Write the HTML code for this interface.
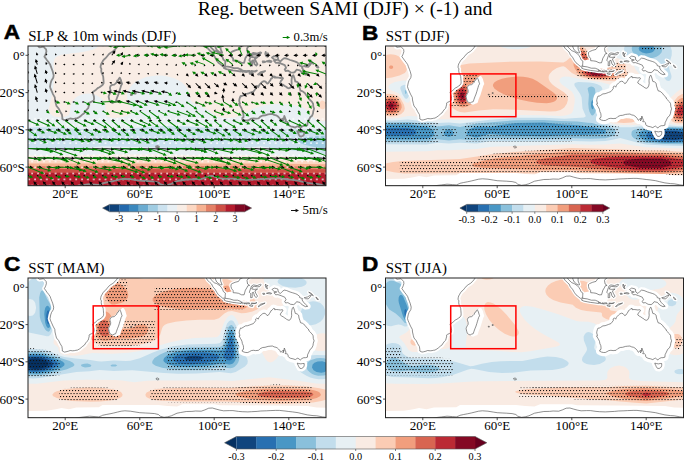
<!DOCTYPE html><html><head><meta charset="utf-8"><style>html,body{margin:0;padding:0;background:#fff;}svg{display:block}</style></head><body>
<svg width="685" height="461" viewBox="0 0 685 461">
<defs><pattern id="dots" patternUnits="userSpaceOnUse" width="3" height="6"><rect x="0" y="0" width="1.1" height="1.1" fill="#111"/><rect x="1.5" y="3" width="1.1" height="1.1" fill="#111"/></pattern><pattern id="wdots" patternUnits="userSpaceOnUse" x="39.9" y="178.4" width="5.87" height="12.1"><rect x="0.3" y="0.3" width="1.5" height="1.5" fill="#fff"/><rect x="3.23" y="6.35" width="1.5" height="1.5" fill="#fff"/></pattern></defs>
<rect width="685" height="461" fill="#fff"/>
<text x="345" y="14.8" font-family='"Liberation Serif", serif' font-size="19.6" text-anchor="middle" fill="#000">Reg. between SAMI (DJF) × (-1) and</text>
<text transform="translate(3.8000000000000003,38.9) scale(1.12,1)" font-family='"Liberation Sans", sans-serif' font-weight="bold" font-size="20.2" fill="#000" stroke="#000" stroke-width="0.5">A</text>
<text x="28.3" y="40.8" font-family='"Liberation Serif", serif' font-size="14.85" fill="#000">SLP &amp; 10m winds (DJF)</text>
<clipPath id="clipA"><rect x="28.0" y="46.0" width="298" height="139.7"/></clipPath>
<g clip-path="url(#clipA)">
<rect x="28.0" y="46.0" width="298" height="139.69" fill="#f9ede5"/><path d="M315.4 157.8l14.3 0.7 0-37.5-7.4 0.2-3.5-0.7-2.4-0.9-3.8-2.8-5.4-6.5-2.6-1.8-2.8-1.3-8.4-2.2-11.2-1.2-12.1 0.5-10.2 1.9-6.5 2.4-11.2 6.6-5.6 1.9-3.7 0.6-5.6 0.3-4.7-0.3-3.7-0.8-3.7-1.7-8.4-6.1-12-5.4-2.9-1.8-1.6-2.8-0.9-5.6-1.3-3.7-2.5-3.8-3.9-3.7-3.8-2.3-3.7-1.7-8.4-2.3-4.6-0.5-5.6 0-9.3 1.5-4.7 1.7-3.6 1.8-2.9 1.8-3.2 2.8-2.2 2.8-1.5 2.8-0.9 2.8-0.3 2.8 0.7 4.6 3.6 8.4 0.3 2.8-1.2 1.9-3.5 1.8-5.8 1.5-5.6 0.7-4.6-0.2-3.2-1-1.1-1-0.8-1.8-0.2-6.5-0.5-2.8-1.2-2.8-1.4-2.1-2.8-2.6-3.7-2.1-3.7-1.1-4.7-0.5-3.7 0.4-3.7 1.2-2.8 1.4-3.1 2.6-1.5 1.8-1.5 2.8-0.8 2.8-0.9 6.5-0.9 1.9-1.2 0.9-3.2 1.2-3.7 0.3-4.6-0.5-2.9-0.9-1.8-1.1-1.8-1.8-0.7-1.8-0.1-1.9 3.2-13.9 1.3-8.4 0.7-11.2-0.3-13 0.8-3.8 1.5-1.8 1.5-1 4.1-1.4 21.4-2.8 9.8-2.3 3.8-1.8 0.9-1 0.3-0.9-0.3-0.9-2.3-1.8-2.5-1-68.3 0 0 59.2 1.5 6 0.3 2.8-0.4 1.8-1.4 2.2 0 41.3 40.9 0.1 37.3-1.1 55.9-0.1 55.8 1.2 46.6-1.1 54.6 3.2z" fill="#e9f0f4"/><path d="M322.9 154l6.8 0.7 0-25.1-46.5-0.3-10.3 0.5-12.1 1.2-73.6-4.6-28.8-0.6-55.9 5.7-16.8-2.2-20.5-1.3-27-0.9-13.9 0.8 0 21.4 40.9 0.3 20.5-1.5 16.8-1.8 55.9 1.2 55.8 2.1 26.1-1.5 20.5-1.8 20.9 3.1 41.2 4.6z" fill="#cce2ef"/><path d="M326.4 149.4l3.3 0.5 0-14.5-13.9 0.9-8.4 1-7.3 1.8-1.4 1-0.4 0.9 0.5 0.9 1.2 1 4.6 1.8 7 1.9 14.8 2.8zM34.3 139.1l3.9 0.7 3.8 0.2 9.1-0.9-2.6-0.9-7.5-0.5-6 0.5-0.7 0.9z" fill="#a0cce2"/><path d="M24.3 189.4l305.4 0 0-27.8-68.9-1.5-236.5 0.3 0 29zM322.1 109.3l1.1 0 1.4-0.9 1.2-2.8-0.1-1.9-0.6-1.4-1-1.1-1.8-0.6-1 0.2-1.3 1.1-0.9 2.8 0.7 2.8 0.6 0.9 1.7 0.9z" fill="#fcd7c2"/><path d="M24.3 189.4l305.4 0 0-25.2-68.9-0.8-236.5 0.1 0 25.9z" fill="#f6b191"/><path d="M24.3 189.4l305.4 0 0-22.8-68.9-0.5-236.5 0.1 0 23.2z" fill="#e48066"/><path d="M24.3 189.4l305.4 0 0-20.2-305.4-0.3 0 20.5z" fill="#ce4f45"/><path d="M24.3 189.4l305.4 0 0-16.4-305.4-0.2 0 16.6z" fill="#b41c2d"/>
<rect x="28.0" y="116.8" width="298" height="68.9" fill="url(#wdots)"/>
<path d="M24.3 46.4L29.9 44.5L33.6 43.4L36.4 43.8L37.9 44.9L38.6 46.7L39.5 47.3L41 47.1L43.5 46.7L44.6 47.9L46.1 49.4L46.4 51.4L45.9 53.3L45.3 54.8L44.4 56.6L45.5 58.1L47 60.3L48.7 62.4L50.2 64.6L50.9 66.7L52 69.5L52.8 71.7L53.7 75.2L53.3 77.7L51.5 80.5L50.7 82.9L50 86.6L50.4 88.1L51.5 90.7L53 94.1L54.8 97.4L55 100L55.8 103.4L56.5 106L58.7 108.6L60.2 111.7L61.9 114.5L62.3 117.1L62.3 119L64.5 120.1L66 119.8L68.4 119.2L70.1 118.5L72.7 118.8L74.6 118.6L75.9 118.3L77.4 118.1L79.4 117L81.1 115.7L82.8 114.2L84.4 113L85.7 111L87 109.3L88.2 108.2L88.7 106.2L89.3 103.9L88.9 103.2L90 102.4L91.9 101.5L93.7 100.6L94.1 98.5L93.9 96.5L93.4 94.8L92.6 92.4L93.2 91.8L95.4 90.3L97.7 88.1L99.5 87.2L101.2 86L102.5 85.1L103.6 83.2L103.6 81.4L103.4 78.8L103.2 76.5L102.5 74.7L101.6 72.8L101.2 70.8L101.4 68.9L100.5 67.2L100.8 65.4L101.2 63.9L101.9 62.8L102.9 60.9L104.2 59.2L105.5 58.3L107.2 56.2L108.8 54.2L110.7 52.7L112.9 51.4L114.8 49.7L116.5 47.7L118 45.4L118.9 43.2L28 40.4L22.4 40.4ZM119.8 77.7L120.9 79.9L121.5 82.1L122.1 83.8L121.1 85.5L120.6 87.3L120 89.2L119.3 91.6L118.5 94.1L117.4 96.8L116.5 99.3L115.7 101.7L114 102.2L112.6 103L110.9 102.2L109.8 101.3L109.2 99.3L108.6 96.7L109 95.2L109.8 93.7L110.5 92.6L110.7 90.7L110.1 88.8L110 87.3L110.7 85.7L112.2 84.9L114.2 84.6L115.4 83.6L116.7 82.3L117.2 80.6L118.3 80.1L118.9 78.6ZM293.4 75.2L294.5 78.4L295.3 81.4L297.1 81.9L298.6 83.2L299 86L299.9 88.5L300.5 90.7L302.7 91.4L305 93.3L306.4 95.4L308.3 97L309.2 99.1L312 101.9L313.1 103.7L313.3 106.5L314.1 108.8L313.3 111.2L313 113.4L312 115.8L310.2 117.3L309.4 119L308.5 120.9L307.6 122.7L307.4 125.2L305.5 125.7L303.7 125.7L301.8 126.6L300.7 127.6L300.5 128.1L299 127L297.9 126.1L296.8 126.6L295.3 127.6L293 126.8L290.6 126.3L288.8 125.3L288.2 124.4L288 122.7L287.1 121.8L285.2 121.6L286 120.1L285.4 119L284.7 116.8L284.3 116L283.9 118.3L283.2 119.8L283 120.9L284.1 118.6L282.4 118.6L281.1 120.3L280.4 119.8L279.8 118.5L278.5 117L277.6 116.2L276.1 115.3L274.2 114.9L272.4 114L270.1 114.2L268.1 114.4L265.1 115.3L262.7 115.5L260.3 116.6L258.6 118.3L255.6 118.6L253.4 118.3L251.3 118.6L249.6 119.6L247.8 120.5L245.9 120.5L244.1 120.1L242.2 119.2L242.4 117.9L243.5 117.3L243.5 115.3L243.3 113.6L242.4 111.7L242 109.5L241.4 108L240.5 106.5L239 103.9L240 103.6L239.2 100.9L239.4 99.3L240 97.2L240.7 95.9L241.4 96.3L243.1 95.4L245.4 93.9L247.6 93.7L249.3 93.1L251.1 92.4L253.4 91.6L254.7 90L255.8 88.5L255.6 87L256.9 85.9L258.2 87.2L258.8 85.7L259.7 84.4L261.2 82.9L262.3 81.9L264 81.2L265.5 81.6L266.8 83.1L267.1 83.6L268.4 83.1L269.4 81.6L270.5 79.9L270.9 78.8L271.8 78.4L273.5 76.4L274.8 76.7L274.6 77.7L276.6 77.5L278.5 77.7L280.4 78L282.2 77.7L283 78.2L282 79.9L280.9 81L280.2 82.9L281.9 84.2L283.3 84.9L284.8 86L286.5 87L287.4 87.9L289.1 88.3L290.2 87.7L291.2 85.9L291.7 83.4L291.5 80.8L291.7 78.8L292.1 76.9L292.7 75.6ZM297.3 131.1L298.8 131.5L300.9 131.9L302.7 131.5L304.2 131.5L304.2 133.5L303.7 135L302.9 135.8L301.6 136.5L299.9 136.3L298.8 134.7L298.4 133.7L297.5 132ZM272 57.5L274.2 56.1L276.6 56.6L277.8 57L278.3 60L280.4 61.5L282.2 59.6L284.1 58.1L286.5 58.5L290.1 60L292.3 60.7L295.3 61.6L297.1 62.4L299.6 64.4L299.7 65.6L302.7 66.7L302 67.8L303.5 70.2L305.5 72.3L307.7 74.3L305.5 74.7L302.3 73L299.9 70.4L296.6 69.7L294.9 71.9L293.6 72.6L290.6 72.3L287.8 70.6L285.6 71L284.7 69.3L286.1 67.8L284.8 65.2L281.1 63.7L277.9 62.6L275.7 62.8L274 60.7L276.8 60L274.2 59.4L272.5 58.1ZM232.1 51.6L235.1 50.3L238.5 49.4L240.1 46.9L242.9 45.6L245.5 42.3L250 45.6L247.8 47.1L247 48.6L247.6 52L249.6 53.5L247.8 53.8L246.8 55.9L245.4 58.1L244.6 60.9L244.1 62.8L241.6 62.8L238.5 61.3L236 60.9L233.2 60.7L233.1 58.5L231.6 56.6L231 54.6L231 52.5ZM205.5 44.9L209.6 45.6L211.1 47.7L214.2 50.7L216.7 51.6L219.8 53.6L221.3 55.3L222.6 57.4L223.4 59.6L225.4 61.1L225.2 63.7L225.1 66.1L222.8 66.3L220.6 64.4L218.5 62.8L216.9 60.5L215 57.2L212.9 54.9L211.6 52L210 50.7L207.5 48.2ZM214.8 43.2L215 45.6L215.7 47.9L216.7 49.9L218.9 51.8L220.8 52.9L222.1 52.7L220.6 49L220.6 46.4L218.5 43.8L216.1 42.3ZM223.9 68L225.4 66.3L229.7 66.9L233.8 68.2L237.7 68.2L241.3 69.7L241.1 71.5L236.6 70.8L232.9 70.4L230.1 69.8L226.4 69.1L224.3 68.2ZM241.3 70.6L242.6 70.4L243.5 71L242.6 71.7ZM244.2 71L245.4 70.8L245 71.9L244.1 71.7ZM245.9 71.1L248.3 70.8L249.6 71L249.6 71.7L247.8 71.7L245.9 72.1ZM251.3 71L254.3 71.3L256.9 70.6L255.6 71.5L251.5 71.7ZM249.6 73.2L251.5 72.8L253 73.8L252.4 74.5L249.6 73.8ZM258 74.5L259.9 72.8L260.8 72.1L265.1 71L263.6 71.9L260.8 73.2L258.8 74.7ZM250.6 65.7L250.8 61.8L249.3 60.3L250.9 55.7L251.5 54L253.4 52.9L257.1 53.6L260.4 52.3L261.2 52.7L259.7 54.6L257.6 54.8L254.3 54.4L252.6 54.9L251.7 57L254.3 57.4L257.6 57L254.9 58.9L255.8 61.3L257.5 64.1L256.3 65.6L254.5 64.1L253.5 60.3L252.2 60.7L252.2 65.6ZM265.7 52L266.4 54.4L267.9 53.3L266.8 54.8L267.5 56.8L266.2 56.1L265.3 53.8ZM266.4 61.3L269.2 60.5L271.6 61.3L271.1 62L268.3 61.6ZM262.7 61.3L264.5 61.3L264.9 62.2L263 62.4ZM304.2 65.7L307.4 65L310.2 63.3L311.3 63.1L310.4 64.6L308.3 66.9L305.5 66.7ZM308.7 60.2L310.7 60.9L312.4 62.6L313.3 63.9L312.4 63.1L310.7 61.8ZM315.9 65L317.4 66.1L318.4 67.6L317.1 67.4L316.1 65.7ZM255.2 41.3L258 42.6L259.3 43.8L261.2 44.9L261.9 43.2L263.4 42.3L263.6 38.5L259 38.5ZM156.1 146.4L157.6 146L158.9 146.8L158.7 147.7L157.1 147.9L156.3 147.3ZM134.7 92.6L135.7 92.6L135.7 93.5L134.7 93.5ZM130.8 94.2L131.9 94.4L131.7 95.2L130.8 95ZM24.3 186.2L28 185.7L37.3 186.1L46.6 185.7L55.9 186.1L65.2 185.7L74.6 186.1L83.9 184.9L89.5 184.2L95 184.6L98.8 184.9L101.6 183.8L102.5 183.3L106.2 182.5L110 181.8L113.7 181L117.4 180.1L121.1 179.2L124.9 178.8L130.4 179.2L136 180.1L139.8 180.7L145.3 181L149.1 181.2L154.7 181.6L158.4 182.5L160.2 184.2L164 185.3L167.7 184.8L171.4 183.8L173.3 182.9L177 181.2L180.7 180.5L186.3 179.5L191.9 179.4L195.6 179L201.2 179.2L204.9 177.9L208.7 176.2L212.4 176L216.1 177.1L219.8 178.1L223.6 178.8L229.2 178.6L232.9 178.6L238.5 179.4L242.2 179.7L247.8 179.9L251.5 179.7L257.1 179.4L260.8 179L266.4 178.8L270.1 178.6L275.7 178.4L279.4 178.4L285 179L288.8 179.5L292.5 179.9L298.1 180.7L301.8 181.6L307.4 182.9L313 183.6L316.7 183.8L322.3 184.8L326 185.3L329.7 186.2L329.7 204.3L24.3 204.3Z" fill="none" stroke="#8a8a8a" stroke-width="1.8" stroke-linejoin="round"/>
<path d="M28.3 45.9l-0.1-0.3 0.7-0.2-1.5-1.5-0.5 2 0.7-0.2 0.1 0.4zM37.6 45.9l-0.1-0.3 0.7-0.2-1.5-1.5-0.5 2 0.7-0.2 0.1 0.4zM46.9 45.9l-0.1-0.3 0.7-0.2-1.5-1.5-0.5 2 0.7-0.2 0.1 0.4zM55.9 45.7l-0.3 0 0-0.7-1.9 1 1.9 1 0-0.7 0.3 0zM65.2 45.7l-0.3 0 0-0.7-1.9 1 1.9 1 0-0.7 0.3 0zM74.6 45.7l-0.4 0 0-0.7-1.8 1 1.8 1 0-0.7 0.4 0zM83.9 45.7l-0.4 0 0-0.7-1.8 1 1.8 1 0-0.7 0.4 0zM93.2 45.7l-0.4 0 0-0.7-1.8 1 1.8 1 0-0.7 0.4 0zM102.7 46.2l0.3-0.3 0.5 0.4 0.3-2.1-1.9 0.9 0.6 0.4-0.2 0.3zM112.1 46.2l0.2-0.3 0.6 0.4 0.2-2.1-1.9 0.9 0.6 0.4-0.2 0.3zM121.4 46.2l0.2-0.4 0.6 0.4 0.1-2.1-1.9 1.1 0.7 0.3-0.2 0.3zM130.6 45.7l-0.3-0.1 0.3-0.7-2.1 0.1 1.1 1.7 0.4-0.6 0.3 0.2zM139.8 45.7l-0.4 0 0-0.7-1.8 1 1.8 1 0-0.7 0.3 0zM149.1 45.7l-0.4 0 0-0.7-1.8 1 1.8 1 0-0.7 0.4 0zM158.4 45.7l-0.4 0 0-0.7-1.8 1 1.8 1 0-0.7 0.4 0zM167.7 45.7l-0.4 0 0-0.7-1.8 1 1.8 1 0-0.7 0.4 0zM177 45.7l-0.4 0 0-0.7-1.8 1 1.8 1 0-0.7 0.4 0zM186.3 45.7l-0.4 0 0-0.7-1.8 1 1.8 1 0-0.7 0.4 0zM195.6 45.7l-0.3 0 0-0.7-1.9 1 1.9 1 0-0.7 0.3 0zM204.9 45.7l-0.3 0 0-0.7-1.9 1 1.9 1 0-0.7 0.3 0zM214.2 45.7l-0.3 0 0-0.7-1.8 1 1.8 1 0-0.7 0.4 0zM223.6 45.7l-0.4 0 0-0.7-1.8 1 1.8 1 0-0.7 0.4 0zM232.9 45.7l-0.4 0 0-0.7-1.8 1 1.8 1 0-0.7 0.4 0zM242.2 45.7l-0.4 0 0-0.7-1.8 1 1.8 1 0-0.7 0.4 0zM251.5 45.7l-0.4 0 0-0.7-1.8 1 1.8 1 0-0.7 0.4 0zM260.8 45.7l-0.4 0 0-0.7-1.8 1 1.8 1 0-0.7 0.4 0zM270.1 45.7l-0.3 0 0-0.7-1.9 1 1.9 1 0-0.7 0.3 0zM279.4 45.7l-0.3 0 0-0.7-1.9 1 1.9 1 0-0.7 0.3 0zM288.7 45.7l-0.3 0 0-0.7-1.8 1 1.8 1 0-0.7 0.4 0zM298.1 45.7l-0.4 0 0-0.7-1.8 1 1.8 1 0-0.7 0.4 0zM307.4 45.7l-0.4 0 0-0.7-1.8 1 1.8 1 0-0.7 0.4 0zM316.7 45.7l-0.4 0 0-0.7-1.8 1 1.8 1 0-0.7 0.4 0zM326 45.7l-0.4 0 0-0.7-1.8 1 1.8 1 0-0.7 0.4 0zM28.3 55.2l-0.1-0.3 0.7-0.2-1.5-1.5-0.5 2.1 0.7-0.3 0.1 0.4zM37.7 55.2l-0.2-0.5 0.9-0.3-2-2.1-0.5 2.9 0.9-0.3 0.1 0.5zM46.9 55.2l-0.1-0.3 0.7-0.2-1.5-1.5-0.5 2.1 0.7-0.3 0.1 0.4zM56.2 55.2l-0.1-0.3 0.7-0.2-1.5-1.5-0.4 2.1 0.6-0.3 0.2 0.4zM65.2 55l-0.3 0 0-0.7-1.9 1 1.9 1 0-0.7 0.3 0zM74.6 55l-0.4 0 0-0.7-1.8 1 1.8 1 0-0.7 0.4 0zM83.9 55l-0.4 0 0-0.7-1.8 1 1.8 1 0-0.7 0.4 0zM93.4 55.5l0.2-0.3 0.6 0.4 0.3-2.1-1.9 0.9 0.6 0.4-0.3 0.3zM102.7 55.5l0.3-0.3 0.5 0.4 0.3-2.1-1.9 0.9 0.6 0.4-0.2 0.3zM112.2 55.6l1.7-2.3 1 0.7 0.6-3.8-3.4 1.8 1 0.7-1.7 2.3zM121.5 55.5l0.4-0.5 0.9 0.5 0.2-3.6-3 2.1 1 0.5-0.3 0.6zM130.5 55l-0.5-0.1 0.2-0.9-2.6 0.8 2.1 1.6 0.2-0.8 0.5 0.1zM139.8 54.8l-1.4 0 0-1.2-3.4 1.7 3.4 1.7 0-1.2 1.3 0zM149.1 54.8l-1.4 0 0-1.2-3.4 1.7 3.4 1.7 0-1.2 1.4 0zM158.4 54.8l-1.4 0 0-1.2-3.4 1.7 3.4 1.7 0-1.2 1.4 0zM167.7 54.8l-1.4 0 0-1.2-3.4 1.7 3.4 1.7 0-1.2 1.4 0zM177 54.8l-1.4 0 0-1.2-3.4 1.7 3.4 1.7 0-1.2 1.4 0zM186.3 54.8l-1.3 0 0-1.2-3.4 1.8 3.4 1.6 0-1.2 1.3 0zM195.6 54.8l-1.3 0 0-1.2-3.4 1.8 3.4 1.6 0-1.2 1.3 0zM204.9 54.8l-1.3 0 0-1.2-3.4 1.8 3.4 1.6 0-1.2 1.3 0zM214.2 54.8l-1.3 0 0-1.2-3.4 1.8 3.4 1.6 0-1.2 1.4 0zM223.6 54.8l-1.4 0 0-1.2-3.4 1.8 3.5 1.6-0.1-1.2 1.4 0zM232.9 54.8l-1.4 0 0-1.2-3.4 1.8 3.5 1.6-0.1-1.2 1.4 0zM242.2 54.8l-1.4 0 0-1.2-3.3 1.8 3.4 1.6 0-1.2 1.3 0zM251.5 54.8l-1.3 0-0.1-1.2-3.3 1.8 3.4 1.6 0-1.2 1.3 0zM260.8 54.8l-1.3 0 0-1.2-3.4 1.8 3.4 1.6 0-1.2 1.3 0zM270.1 54.8l-1.3 0 0-1.2-3.4 1.8 3.4 1.6 0-1.2 1.3 0zM279.4 54.8l-1.3 0 0-1.2-3.4 1.8 3.4 1.6 0-1.2 1.3 0zM288.7 54.8l-1.3 0 0-1.2-3.4 1.8 3.4 1.6 0-1.2 1.4 0zM298.1 54.8l-1.4 0 0-1.2-3.4 1.8 3.5 1.6-0.1-1.2 1.4 0zM307.4 54.8l-1.4 0 0-1.2-3.4 1.8 3.5 1.6-0.1-1.2 1.4 0zM316.7 54.8l-1.4 0 0-1.2-3.3 1.8 3.4 1.6 0-1.2 1.3 0zM326 54.8l-1.3 0-0.1-1.2-3.3 1.8 3.4 1.6 0-1.2 1.3 0zM28.4 64.5l-0.2-0.5 0.9-0.2-2-2.1-0.4 2.8 0.8-0.2 0.1 0.4zM37.8 64.5l-0.8-2.5 1.2-0.4-2.6-2.7-0.7 3.7 1.2-0.3 0.7 2.5zM47 64.5l-0.2-0.5 0.9-0.2-1.9-2.1-0.5 2.8 0.8-0.2 0.2 0.4zM56.2 64.5l-0.1-0.3 0.7-0.2-1.5-1.5-0.4 2.1 0.6-0.2 0.2 0.3zM65.2 64.3l-0.3 0 0-0.7-1.9 1 1.9 1 0-0.7 0.3 0zM74.6 64.3l-0.4 0 0-0.7-1.8 1 1.8 1 0-0.7 0.4 0zM83.9 64.3l-0.4 0 0-0.7-1.8 1 1.8 1 0-0.7 0.4 0zM93.4 64.8l0.2-0.3 0.6 0.4 0.3-2.1-1.9 0.9 0.6 0.5-0.3 0.3zM102.7 64.8l0.3-0.3 0.5 0.4 0.3-2.1-1.9 0.9 0.6 0.5-0.2 0.3zM112.2 64.9l1.4-1.9 1 0.6 0.6-3.7-3.4 1.8 1 0.7-1.4 1.9zM121.5 64.9l0.4-0.5 0.9 0.6 0.4-3.5-3 1.7 0.9 0.6-0.4 0.6zM130.7 64.4l-0.2-0.2 0.5-0.5-1.9-0.9 0.3 2.1 0.6-0.4 0.2 0.3zM139.8 64.3l-0.4 0 0-0.7-1.8 0.9 1.7 1.1 0.1-0.7 0.3 0zM149.1 64.3l-0.4 0 0-0.7-1.8 1 1.8 1 0-0.7 0.4 0zM158.4 64.3l-0.4 0 0-0.7-1.8 1 1.8 1 0-0.7 0.4 0zM167.7 64.3l-0.4 0 0-0.7-1.8 1.1 1.9 1-0.1-0.8 0.4 0zM176.9 64.3l-0.4 0.2-0.2-0.7-1.3 1.7 2.1 0.2-0.3-0.7 0.3-0.1zM186.1 64.4l-0.2 0.3-0.6-0.4-0.3 2.1 1.9-0.9-0.6-0.4 0.3-0.3zM195.4 64.5l-0.2 0.3-0.6-0.4-0.1 2.1 1.8-1.1-0.6-0.3 0.2-0.3zM204.7 64.5l-0.2 0.3-0.6-0.4-0.1 2.1 1.8-1.1-0.6-0.3 0.2-0.3zM214 64.5l-0.2 0.3-0.6-0.4-0.1 2.1 1.8-1-0.6-0.4 0.2-0.3zM223.3 64.5l-0.2 0.3-0.6-0.4-0.1 2.1 1.8-1-0.6-0.4 0.2-0.3zM232.6 64.5l-0.2 0.3-0.6-0.4 0 2.1 1.8-1-0.7-0.4 0.2-0.3zM241.9 64.5l-0.2 0.3-0.6-0.4 0 2.1 1.8-1-0.6-0.4 0.1-0.3zM251.2 64.5l-0.1 0.3-0.7-0.4 0 2.1 1.8-1.1-0.6-0.3 0.2-0.3zM260.6 64.5l-0.2 0.3-0.7-0.4 0 2.1 1.8-1.1-0.6-0.3 0.2-0.3zM269.9 64.5l-0.2 0.3-0.6-0.4-0.1 2.1 1.8-1.1-0.6-0.3 0.2-0.3zM279.2 64.5l-0.2 0.3-0.6-0.4-0.1 2.1 1.8-1.1-0.6-0.3 0.2-0.3zM288.5 64.5l-0.2 0.3-0.6-0.4 0 2.1 1.8-1.1-0.7-0.3 0.2-0.3zM297.8 64.5l-0.2 0.3-0.6-0.4 0 2.1 1.8-1.1-0.7-0.3 0.2-0.3zM307.1 64.5l-0.2 0.3-0.6-0.4 0 2.1 1.8-1.1-0.6-0.3 0.1-0.3zM316.4 64.5l-0.2 0.3-0.6-0.4 0 2.1 1.8-1.1-0.6-0.3 0.1-0.3zM325.7 64.5l-0.1 0.3-0.7-0.4 0 2.1 1.8-1.1-0.6-0.3 0.2-0.3zM28.5 73.8l-0.3-1 1.1-0.3-2.6-2.8-0.6 3.8 1.1-0.4 0.3 1zM37.8 73.8l-1.6-5.2 1.2-0.3-2.6-2.8-0.7 3.7 1.2-0.3 1.5 5.2zM47.1 73.8l-0.3-1 1.2-0.3-2.6-2.8-0.7 3.8 1.2-0.4 0.2 1zM56.2 73.9l-0.1-0.4 0.7-0.2-1.5-1.5-0.4 2.1 0.6-0.2 0.2 0.3zM65.2 73.6l-0.3 0 0-0.7-1.9 1 1.9 1.1 0-0.8 0.3 0zM74.6 73.6l-0.4 0 0-0.7-1.8 1 1.8 1.1 0-0.8 0.4 0zM83.9 73.6l-0.4 0 0-0.7-1.8 1 1.8 1.1 0-0.8 0.4 0zM93.2 73.6l-0.4 0 0-0.7-1.8 1 1.8 1.1 0-0.8 0.4 0zM102.8 74.1l0.1-0.3 0.7 0.4 0.1-2.1-1.9 1 0.6 0.4-0.2 0.3zM112.1 74.1l0.2-0.4 0.6 0.3-0.1-2.2-1.7 1.3 0.6 0.4-0.2 0.3zM121.4 74l0.1-0.4 0.7 0.1-0.9-2-1.2 1.8 0.8 0-0.1 0.4zM130.6 73.7l-0.3-0.2 0.3-0.6-2.1 0 1.1 1.8 0.4-0.7 0.3 0.2zM139.8 73.6l-0.3 0 0.1-0.7-2 0.5 1.5 1.4 0.2-0.7 0.4 0.1zM149.1 73.6l-0.3 0 0.1-0.7-2 0.5 1.6 1.4 0.1-0.7 0.4 0.1zM158.4 73.6l-0.3 0 0.2-0.7-2.1 0.5 1.6 1.4 0.1-0.7 0.4 0.1zM167.7 73.6l-0.4 0.1 0-0.8-1.8 1.1 1.9 1-0.1-0.7 0.4-0.1zM176.8 74.1l0.2 0.3-0.6 0.4 1.8 1-0.2-2.1-0.5 0.4-0.3-0.3zM186 74.2l0.4 0.5-0.7 0.7 3.1 1.1-1-3.2-0.8 0.8-0.4-0.5zM195.3 74.3l0.4 0.5-0.8 0.8 3.5 1.2-1.1-3.6-0.9 0.9-0.4-0.5zM204.6 74.3l0.5 0.5-0.9 0.8 3.5 1.1-1.1-3.5-0.8 0.9-0.5-0.5zM213.9 74.3l0.5 0.4-0.8 0.8 3.4 1.1-1.2-3.4-0.8 0.8-0.4-0.4zM223.3 74.3l0.4 0.3-0.7 0.8 3.2 0.9-1.2-3.1-0.7 0.8-0.5-0.4zM232.6 74.3l0.4 0.4-0.7 0.8 3.3 0.9-1.2-3.2-0.8 0.8-0.4-0.4zM241.8 74.3l0.5 0.4-0.8 0.9 3.5 1.1-1.2-3.5-0.8 0.9-0.5-0.5zM251.2 74.3l0.4 0.5-0.8 0.8 3.5 1.2-1.2-3.6-0.8 0.9-0.5-0.5zM260.5 74.3l0.4 0.5-0.8 0.8 3.5 1.2-1.1-3.6-0.9 0.9-0.4-0.5zM269.8 74.3l0.4 0.5-0.8 0.8 3.5 1.2-1.1-3.6-0.9 0.9-0.4-0.5zM279.1 74.3l0.5 0.5-0.9 0.8 3.6 1.2-1.2-3.6-0.8 0.9-0.5-0.5zM288.4 74.3l0.5 0.5-0.9 0.8 3.6 1.2-1.2-3.6-0.8 0.9-0.5-0.5zM297.7 74.3l0.5 0.5-0.8 0.8 3.5 1.2-1.2-3.6-0.8 0.9-0.5-0.5zM307 74.3l0.5 0.5-0.8 0.8 3.5 1.2-1.2-3.6-0.8 0.9-0.5-0.5zM316.3 74.3l0.5 0.5-0.8 0.8 3.5 1.2-1.2-3.6-0.8 0.9-0.5-0.5zM325.7 74.3l0.4 0.5-0.8 0.8 3.5 1.2-1.2-3.6-0.8 0.9-0.5-0.5zM28.5 83.1l-0.5-1.5 1.2-0.4-2.6-2.7-0.7 3.7 1.2-0.3 0.4 1.5zM37.8 83.1l-1.9-6.3 1.1-0.4-2.6-2.8-0.6 3.8 1.1-0.3 1.9 6.3zM47.1 83.1l-0.5-1.5 1.2-0.4-2.6-2.7-0.7 3.7 1.2-0.3 0.4 1.5zM56.2 83.2l-0.1-0.4 0.7-0.2-1.5-1.5-0.4 2.1 0.6-0.2 0.2 0.3zM65.2 83l-0.3 0 0-0.8-1.9 1 1.9 1.1 0-0.7 0.3 0zM74.6 83l-0.4 0 0-0.8-1.8 1 1.8 1.1 0-0.7 0.4 0zM83.9 83l-0.4 0 0-0.8-1.8 1 1.8 1.1 0-0.7 0.4 0zM93.2 83l-0.4 0 0-0.8-1.8 1 1.8 1.1 0-0.7 0.4 0zM102.7 83l-0.3-0.2 0.5-0.5-2-0.6 0.6 2 0.5-0.5 0.3 0.3zM111.9 82.9l-0.4-0.1 0.3-0.8-2.5 0.2 1.7 1.9 0.3-0.7 0.4 0.2zM121.3 82.8l-1.2-0.4 0.4-1.1-3.8 0.6 2.8 2.6 0.3-1.1 1.2 0.3zM130.6 82.8l-1.5-0.4 0.3-1.2-3.7 0.9 2.9 2.4 0.3-1.1 1.4 0.3zM139.9 82.8l-1.5-0.4 0.3-1.2-3.7 0.9 2.9 2.4 0.2-1.1 1.5 0.3zM149.2 82.8l-1.5-0.4 0.3-1.2-3.7 0.9 2.9 2.4 0.2-1.1 1.5 0.3zM158.5 82.8l-1.5-0.4 0.3-1.2-3.7 0.9 2.9 2.4 0.3-1.1 1.5 0.3zM167.8 82.8l-0.7-0.1 0.2-1.1-3.4 1.1 2.9 2.1 0.2-1.2 0.6 0.1zM176.7 83.3l0.1 0.4-0.7 0.1 1.4 1.7 0.6-2.1-0.7 0.2-0.1-0.4zM185.9 83.6l2.5 2.6-0.9 0.8 3.6 1.3-1.1-3.6-0.9 0.8-2.4-2.6zM195.3 83.6l3.3 3.3-0.9 0.9 3.6 1.2-1.2-3.6-0.8 0.8-3.3-3.3zM204.6 83.6l3.2 3.2-0.8 0.8 3.6 1.2-1.2-3.6-0.9 0.9-3.2-3.2zM213.9 83.6l2.4 2.1-0.7 0.9 3.6 0.9-1.4-3.5-0.8 0.9-2.4-2zM223.3 83.7l0.8 0.4-0.5 1.1 3.8 0-2.3-3.1-0.5 1.1-0.8-0.4zM232.6 83.7l1.7 1.2-0.7 1 3.7 0.6-1.7-3.4-0.7 1-1.7-1.3zM241.8 83.6l3.1 3-0.8 0.8 3.6 1.2-1.3-3.6-0.8 0.8-3.1-2.9zM251.1 83.6l3.3 3.3-0.8 0.8 3.6 1.2-1.2-3.6-0.8 0.9-3.3-3.3zM260.5 83.6l3.3 3.3-0.9 0.9 3.6 1.2-1.2-3.6-0.8 0.8-3.3-3.3zM269.8 83.6l1 1-0.9 0.9 3.7 1.2-1.2-3.6-0.9 0.8-1-1zM279.1 83.6l1 1-0.8 0.9 3.6 1.2-1.2-3.6-0.9 0.8-1-1zM288.4 83.6l3.3 3.3-0.8 0.9 3.6 1.2-1.2-3.6-0.9 0.8-3.3-3.3zM297.7 83.6l1 1-0.8 0.9 3.6 1.2-1.2-3.6-0.9 0.8-1-1zM307 83.6l3.3 3.3-0.8 0.9 3.6 1.2-1.2-3.6-0.9 0.8-3.3-3.3zM316.3 83.6l3.3 3.3-0.8 0.9 3.6 1.2-1.2-3.6-0.9 0.8-3.3-3.3zM325.6 83.6l3.4 3.3-0.9 0.9 3.6 1.2-1.2-3.6-0.8 0.8-3.3-3.3zM28.5 92.4l-0.3-0.9 1.1-0.4-2.6-2.8-0.6 3.8 1.1-0.4 0.3 1zM37.8 92.4l-1.6-5.2 1.2-0.3-2.6-2.8-0.7 3.8 1.2-0.4 1.5 5.2zM47.1 92.4l-0.3-0.9 1.2-0.4-2.6-2.8-0.7 3.8 1.2-0.4 0.2 1zM56.2 92.5l-0.1-0.4 0.7-0.2-1.5-1.5-0.4 2.1 0.6-0.2 0.1 0.3zM65.2 92.3l-0.3 0 0-0.8-1.9 1.1 1.9 1 0-0.7 0.3 0zM74.6 92.3l-0.4 0 0-0.8-1.8 1.1 1.8 1 0-0.7 0.4 0zM83.9 92.3l-0.4 0 0-0.8-1.8 1.1 1.8 1 0-0.7 0.4 0zM93.2 92.3l-0.4 0 0-0.8-1.8 1.1 1.8 1 0-0.7 0.4 0zM102.6 92.3l-0.4-0.1 0.2-0.7-2 0.5 1.5 1.5 0.2-0.7 0.3 0.1zM111.9 92.1l-1.6-0.4 0.3-1.2-3.7 0.8 2.9 2.5 0.3-1.2 1.6 0.4zM121.2 92.1l-4.6-1.2 0.3-1.1-3.7 0.8 2.9 2.5 0.3-1.2 4.6 1.1zM130.6 92.1l-4.7-1.1 0.3-1.2-3.7 0.8 2.9 2.5 0.2-1.2 4.7 1.1zM139.9 92.1l-4.7-1.1 0.3-1.2-3.7 0.8 2.9 2.5 0.2-1.2 4.7 1.1zM149.2 92.1l-4.7-1.1 0.3-1.2-3.7 0.8 2.9 2.5 0.3-1.2 4.6 1.1zM158.5 92.1l-4.7-1.1 0.3-1.2-3.7 0.8 2.9 2.5 0.3-1.2 4.7 1.1zM167.8 92.1l-3.4-0.7 0.2-1.1-3.7 1 3.1 2.3 0.2-1.2 3.4 0.7zM176.8 92.4l-0.3 0.3-0.5-0.5-0.4 2.1 2-0.8-0.6-0.5 0.2-0.2zM185.9 92.9l1.9 2.1-0.9 0.8 3.5 1.4-1-3.7-0.9 0.8-1.8-2.1zM195.3 92.9l2.9 2.9-0.9 0.8 3.6 1.2-1.2-3.6-0.8 0.9-2.9-2.9zM204.6 92.9l2.7 2.6-0.9 0.9 3.6 1.1-1.2-3.6-0.9 0.9-2.6-2.6zM214.1 93l0.5 0.2-0.4 1 3.5-0.2-2.3-2.6-0.4 1-0.6-0.3zM224.1 92.6l0.1-1.4 1.1 0.1-1.4-3.5-1.9 3.3 1.2 0-0.1 1.4zM233 92.8l0.4-0.2 0.4 0.6 1.1-2-2.3 0.3 0.4 0.6-0.3 0.2zM241.9 92.9l2.2 2-0.8 0.9 3.6 1-1.4-3.6-0.8 0.9-2.2-1.9zM251.1 92.9l0.8 0.8-0.8 0.8 3.6 1.2-1.3-3.6-0.8 0.9-0.7-0.8zM260.5 92.9l0.7 0.8-0.8 0.8 3.6 1.2-1.2-3.6-0.9 0.9-0.7-0.8zM269.8 92.9l0.7 0.8-0.8 0.8 3.6 1.2-1.2-3.6-0.9 0.9-0.7-0.8zM279.1 92.9l0.8 0.8-0.9 0.8 3.6 1.2-1.2-3.6-0.8 0.9-0.8-0.8zM288.4 92.9l0.8 0.8-0.9 0.8 3.6 1.2-1.2-3.6-0.8 0.9-0.8-0.8zM297.7 92.9l0.8 0.8-0.9 0.8 3.6 1.2-1.2-3.6-0.8 0.9-0.8-0.8zM307 92.9l2.9 2.9-0.8 0.8 3.6 1.2-1.2-3.6-0.9 0.9-2.9-2.9zM316.3 92.9l2.9 2.9-0.8 0.8 3.6 1.2-1.2-3.6-0.9 0.9-2.9-2.9zM325.6 92.9l2.9 2.9-0.8 0.8 3.6 1.2-1.2-3.6-0.9 0.9-2.8-2.9zM28.4 101.8l-0.2-0.5 0.9-0.2-1.9-2.1-0.5 2.7 0.8-0.2 0.1 0.5zM37.8 101.7l-0.7-2.5 1.1-0.3-2.6-2.8-0.7 3.8 1.2-0.4 0.7 2.5zM47 101.8l-0.2-0.5 0.9-0.2-1.9-2.1-0.5 2.7 0.8-0.2 0.2 0.5zM56.2 101.8l0-0.3 0.7-0.1-1.2-1.7-0.8 1.9 0.7-0.1 0 0.4zM65.2 101.6l-0.3 0 0-0.7-1.9 1 1.9 1 0-0.7 0.3 0zM74.6 101.6l-0.4 0 0-0.7-1.8 1 1.8 1 0-0.7 0.4 0zM83.9 101.6l-0.4 0 0-0.7-1.8 1 1.8 1 0-0.7 0.4 0zM93.2 102.2l0.3 0 0 0.7 1.9-0.9-1.8-1.1 0 0.7-0.4 0zM102.6 101.6l-0.4-0.1 0.2-0.7-2 0.5 1.5 1.5 0.2-0.7 0.3 0.1zM111.9 101.5l-0.5-0.1 0.2-0.9-2.7 0.7 2.1 1.8 0.2-0.9 0.5 0.1zM121.2 101.4l-1.4-0.4 0.3-1.1-3.7 0.8 2.9 2.5 0.3-1.2 1.4 0.4zM130.6 101.4l-1.5-0.4 0.3-1.1-3.7 0.8 2.9 2.5 0.3-1.2 1.4 0.4zM139.9 101.4l-1.5-0.4 0.3-1.1-3.7 0.8 2.9 2.5 0.3-1.2 1.4 0.4zM149.2 101.4l-1.4-0.4 0.2-1.1-3.7 0.8 2.9 2.5 0.3-1.2 1.4 0.4zM158.5 101.4l-1.4-0.4 0.2-1.1-3.7 0.8 2.9 2.5 0.3-1.2 1.5 0.4zM167.8 101.4l-0.8-0.2 0.3-1.1-3.7 0.9 3 2.4 0.2-1.2 0.8 0.2zM176.9 101.6l-0.4 0.2-0.3-0.7-1.2 1.7 2.1 0.2-0.3-0.7 0.3-0.2zM186.1 102.1l0.3 0.3-0.6 0.5 2.2 0.9-0.6-2.3-0.6 0.5-0.3-0.3zM195.4 102.2l0.3 0.3-0.6 0.7 2.8 0.9-1-2.8-0.6 0.7-0.4-0.4zM204.7 102.1l0.4 0.4-0.6 0.6 2.6 0.7-1-2.5-0.6 0.6-0.3-0.3zM214.5 102l0.2-0.3 0.6 0.5 0.2-2.1-1.9 0.9 0.6 0.4-0.2 0.3zM224.1 101.8l-0.7-4.2 1.2-0.2-2.2-3.1-1.1 3.6 1.1-0.2 0.7 4.2zM233.4 101.9l0-0.8 1.2 0-1.7-3.4-1.7 3.3 1.2 0 0 0.9zM242 102.1l0.3 0.2-0.3 0.6 2.1 0.1-1.1-1.8-0.3 0.6-0.4-0.2zM251.3 102.1l0.3 0.2-0.5 0.6 2 0.5-0.6-2-0.5 0.5-0.3-0.2zM260.6 102.1l0.3 0.2-0.5 0.6 2 0.5-0.6-2-0.5 0.5-0.3-0.2zM269.9 102.1l0.3 0.2-0.5 0.6 2 0.5-0.6-2-0.5 0.5-0.3-0.2zM279.2 102.1l0.3 0.2-0.5 0.6 2 0.5-0.6-2-0.5 0.5-0.3-0.2zM288.5 102.1l0.3 0.2-0.5 0.6 2 0.5-0.6-2-0.5 0.5-0.2-0.2zM297.9 102.1l0.2 0.2-0.5 0.6 2 0.5-0.6-2-0.5 0.5-0.2-0.2zM307.2 102.1l0.2 0.2-0.5 0.6 2.1 0.5-0.7-2-0.5 0.5-0.2-0.2zM316.4 102.2l0.4 0.3-0.7 0.7 2.9 0.9-1-2.8-0.7 0.7-0.3-0.4zM325.7 102.2l0.4 0.3-0.6 0.7 2.8 0.9-1-2.8-0.6 0.7-0.4-0.4zM28.3 111.3l0.1-0.3 0.7 0.3-0.2-2.1-1.7 1.2 0.7 0.3-0.2 0.4zM37.7 111.2l0-0.5 0.9 0-1.3-2.5-1.2 2.5 0.8 0 0 0.5zM46.9 111.3l0.1-0.3 0.7 0.3-0.2-2.1-1.7 1.2 0.7 0.3-0.1 0.4zM56 111.5l0.3-0.1 0.1 0.8 1.7-1.3-1.9-0.8 0.1 0.7-0.4 0.1zM65.2 111.5l0.4 0 0 0.7 1.8-1-1.8-1 0 0.7-0.3 0zM74.6 111.5l0.3 0 0 0.7 1.9-1-1.8-1-0.1 0.7-0.3 0zM83.9 111.5l0.3 0 0 0.7 1.9-1-1.8-1-0.1 0.7-0.3 0zM93.2 111.5l0.3 0 0 0.7 1.9-1-1.8-1 0 0.7-0.4 0zM102.5 111.5l0.4 0 0 0.7 1.8-1-1.8-1 0 0.7-0.4 0zM111.9 111.5l0.3-0.1 0.2 0.7 1.6-1.3-2-0.7 0.1 0.7-0.3 0.1zM121.3 111.4l0.3-0.2 0.4 0.6 0.9-1.9-2.1 0.3 0.4 0.5-0.3 0.2zM130.6 111.4l0.3-0.2 0.4 0.6 0.9-1.9-2.1 0.3 0.4 0.5-0.2 0.2zM139.9 111.4l0.3-0.2 0.5 0.6 0.8-1.9-2.1 0.3 0.5 0.5-0.3 0.2zM149.2 111.4l0.3-0.2 0.5 0.6 0.8-1.9-2.1 0.3 0.5 0.5-0.3 0.2zM158.6 111.4l0.2-0.2 0.5 0.6 0.8-1.9-2 0.3 0.4 0.5-0.3 0.2zM167.8 111.5l0.3-0.2 0.3 0.7 1.4-1.6-2.1-0.3 0.2 0.7-0.3 0.1zM177 111.5l0.3 0-0.1 0.7 2-0.7-1.7-1.3-0.1 0.7-0.4 0zM186.2 111.5l0.4 0.1-0.2 0.7 2-0.6-1.5-1.4-0.2 0.7-0.3-0.1zM195.5 111.5l0.4 0.1-0.2 0.7 2.1-0.5-1.6-1.5-0.1 0.7-0.4-0.1zM204.9 111.5l0.3 0-0.1 0.8 2-0.7-1.6-1.4-0.1 0.8-0.4-0.1zM214.5 111.4l0.2-0.3 0.6 0.5 0.4-2.1-2 0.7 0.6 0.5-0.3 0.3zM224.1 111.2l0-0.8 1.2 0-1.7-3.4-1.7 3.3 1.2 0.1 0 0.8zM233.2 111.3l0.1-0.5 0.8 0.2-0.6-2.4-1.6 1.9 0.8 0.2-0.1 0.4zM242.2 111.5l0.4 0 0 0.7 1.8-1.1-1.9-0.9 0 0.7-0.3 0zM251.4 111.5l0.4 0.1-0.2 0.7 2-0.6-1.5-1.4-0.2 0.7-0.3-0.1zM260.7 111.5l0.4 0.1-0.2 0.7 2-0.5-1.5-1.5-0.2 0.7-0.3-0.1zM270 111.5l0.4 0.1-0.2 0.7 2.1-0.5-1.6-1.5-0.1 0.7-0.4-0.1zM279.4 111.5l0.3 0.1-0.2 0.7 2.1-0.5-1.5-1.5-0.2 0.7-0.4-0.1zM288.7 111.5l0.3 0.1-0.2 0.7 2.1-0.5-1.5-1.5-0.2 0.7-0.4-0.1zM298 111.5l0.3 0.1-0.1 0.7 2-0.5-1.5-1.5-0.2 0.7-0.4-0.1zM307.3 111.5l0.4 0.1-0.2 0.7 2-0.5-1.5-1.5-0.2 0.7-0.3-0.1zM316.6 111.5l0.4 0.1-0.2 0.7 2-0.5-1.5-1.5-0.2 0.7-0.3-0.1zM325.9 111.5l0.4 0.1-0.2 0.7 2-0.5-1.5-1.5-0.2 0.7-0.3-0.1zM28.1 120.9l0.5-0.1 0.1 0.9 2.3-1.7-2.7-0.8 0.1 0.9-0.5 0zM37.4 120.8l0.5-0.2 0.3 0.8 1.7-2-2.6-0.2 0.3 0.8-0.4 0.2zM46.7 120.9l0.5-0.1 0.1 0.9 2.3-1.7-2.7-0.8 0.2 0.9-0.5 0zM55.9 120.9l0.6 0 0 1 2.8-1.3-2.8-1.5 0 1-0.6 0zM65.2 120.9l0.6 0 0 1 2.9-1.3-2.8-1.5-0.1 1-0.5 0zM74.5 120.9l0.6 0 0 1 2.9-1.3-2.8-1.5-0.1 1-0.5 0zM83.9 120.9l0.5 0 0 1 2.9-1.3-2.8-1.5 0 1-0.6 0zM93.2 120.9l0.5 0 0 1 2.9-1.3-2.8-1.5 0 1-0.6 0zM102.5 120.9l0.5 0 0 1 2.9-1.3-2.8-1.5 0 1-0.6 0zM111.8 120.9l0.6 0-0.1 1 2.9-1.3-2.8-1.5 0 1-0.6 0zM121.1 120.9l0.6 0-0.1 1 2.9-1.3-2.8-1.5 0 1-0.6 0zM130.4 120.9l0.6 0-0.1 1 2.9-1.3-2.8-1.5 0 1-0.5 0zM139.7 120.9l0.6 0 0 1 2.8-1.3-2.7-1.5-0.1 1-0.5 0zM149 120.9l0.6 0 0 1 2.8-1.3-2.7-1.5-0.1 1-0.5 0zM158.4 120.9l0.5 0 0 1 2.8-1.3-2.7-1.5-0.1 1-0.5 0zM167.7 120.9l0.5 0 0 1 2.8-1.3-2.7-1.5 0 1-0.6 0zM177 120.9l0.5 0 0 1 2.9-1.2-2.8-1.6 0 1-0.6 0zM186.3 120.9l0.6 0.1-0.1 1 2.9-1.3-2.7-1.6-0.1 1-0.6 0zM195.6 120.9l0.6 0.1-0.1 1 3-1.3-2.8-1.6-0.1 1-0.6 0zM204.9 120.9l0.6 0-0.1 1 3-1.3-2.8-1.5-0.1 1-0.5 0zM214.3 120.9l0.5-0.1 0.1 1 2.5-1.6-2.7-1.1 0 1-0.5 0zM223.7 120.8l0.4-0.1 0.3 0.8 1.9-2-2.7-0.3 0.3 0.8-0.5 0.2zM232.9 120.9l0.5-0.1 0.2 0.8 2.3-1.7-2.8-0.7 0.2 0.8-0.5 0.1zM242.2 120.9l0.5 0 0 1 2.9-1.3-2.8-1.5 0 1-0.6 0zM251.5 120.9l0.6 0.1-0.1 1 2.9-1.3-2.8-1.6 0 1-0.6 0zM260.8 120.9l0.6 0.1-0.1 1 3-1.3-2.8-1.6-0.1 1-0.6 0zM270.1 120.9l0.6 0.1-0.1 1 3-1.3-2.8-1.6-0.1 1-0.6 0zM279.4 120.9l0.6 0.1-0.1 1 3-1.3-2.8-1.6-0.1 1-0.5 0zM288.7 120.8l0.4 0 0 0.7 1.8-0.9-1.7-1.1-0.1 0.7-0.3 0zM298 120.8l0.4 0 0 0.7 1.9-0.9-1.8-1.1-0.1 0.7-0.3 0zM307.4 120.8l0.3 0 0 0.7 1.9-0.9-1.8-1.1 0 0.7-0.4 0zM316.7 120.9l0.5 0.1 0 1 2.9-1.3-2.8-1.6 0 1-0.6 0zM326 120.9l0.6 0.1-0.1 1 2.9-1.3-2.7-1.6-0.1 1-0.6 0zM28 130.3l1.7 0.1-0.1 1.2 3.5-1.6-3.3-1.8-0.1 1.2-1.7-0.1zM37.3 130.3l1.5 0 0 1.2 3.4-1.7-3.4-1.7 0 1.2-1.5 0zM46.6 130.3l1.7 0.1 0 1.2 3.4-1.6-3.3-1.8-0.1 1.2-1.7-0.1zM55.9 130.3l1.9 0.2-0.1 1.1 3.5-1.4-3.3-1.9-0.1 1.2-1.8-0.2zM65.2 130.3l1.9 0.2-0.1 1.2 3.5-1.5-3.2-1.9-0.1 1.2-1.9-0.2zM74.5 130.3l1.9 0.2-0.1 1.2 3.5-1.5-3.2-1.9-0.1 1.2-1.9-0.2zM83.8 130.3l1.9 0.2-0.1 1.2 3.5-1.5-3.2-1.9-0.1 1.2-1.9-0.2zM93.1 130.3l1.9 0.2-0.1 1.2 3.5-1.5-3.2-1.9-0.1 1.2-1.9-0.2zM102.5 130.3l1.8 0.2-0.1 1.2 3.6-1.5-3.3-1.9-0.1 1.2-1.9-0.2zM111.8 130.3l1.8 0.2-0.1 1.2 3.6-1.5-3.3-1.9-0.1 1.2-1.8-0.2zM121.1 130.3l1.9 0.2-0.1 1.2 3.5-1.5-3.3-1.9-0.1 1.2-1.8-0.2zM130.4 130.3l1.9 0.2-0.1 1.2 3.5-1.5-3.3-1.9-0.1 1.2-1.8-0.2zM139.7 130.3l1.9 0.2-0.1 1.2 3.5-1.5-3.2-1.9-0.1 1.2-1.9-0.2zM149 130.3l1.9 0.2-0.1 1.2 3.5-1.5-3.2-1.9-0.1 1.2-1.9-0.2zM158.3 130.3l1.9 0.2-0.1 1.2 3.5-1.5-3.2-1.9-0.1 1.2-1.9-0.2zM167.6 130.3l1.9 0.2-0.1 1.2 3.5-1.5-3.2-1.9-0.1 1.2-1.9-0.2zM177 130.3l1.8 0.2-0.1 1.2 3.6-1.5-3.3-1.9-0.1 1.2-1.9-0.2zM186.3 130.3l1.8 0.2 0 1.2 3.5-1.5-3.3-1.9-0.1 1.2-1.8-0.2zM195.6 130.3l1.9 0.2-0.1 1.2 3.5-1.5-3.3-1.9-0.1 1.2-1.8-0.2zM204.9 130.3l1.9 0.2-0.1 1.2 3.5-1.5-3.3-1.9-0.1 1.2-1.8-0.2zM214.2 130.3l1.8 0.1 0 1.2 3.5-1.4-3.3-2-0.1 1.2-1.8-0.1zM223.5 130.3l1.8 0.1-0.1 1.2 3.5-1.5-3.3-1.9-0.1 1.2-1.7-0.1zM232.8 130.3l1.8 0.1 0 1.2 3.5-1.5-3.3-1.9-0.1 1.2-1.8-0.1zM242.1 130.3l1.9 0.2-0.1 1.2 3.5-1.5-3.2-1.9-0.1 1.2-1.9-0.2zM251.5 130.3l1.8 0.2-0.1 1.2 3.6-1.5-3.3-1.9-0.1 1.2-1.9-0.2zM260.8 130.3l1.8 0.2 0 1.2 3.5-1.5-3.3-1.9-0.1 1.2-1.8-0.2zM270.1 130.3l1.9 0.2-0.1 1.2 3.5-1.5-3.3-1.9-0.1 1.2-1.8-0.2zM279.4 130.3l1.9 0.2-0.1 1.2 3.5-1.5-3.3-1.9 0 1.2-1.9-0.2zM288.7 130.3l1.9 0.2-0.1 1.2 3.5-1.5-3.2-1.9-0.1 1.2-1.9-0.2zM298 130.3l1.9 0.2-0.1 1.2 3.5-1.5-3.2-1.9-0.1 1.2-1.9-0.2zM307.3 130.3l1.9 0.2-0.1 1.2 3.5-1.5-3.2-1.9-0.1 1.2-1.9-0.2zM316.6 130.3l1.9 0.2-0.1 1.2 3.6-1.5-3.3-1.9-0.1 1.2-1.9-0.2zM326 130.3l1.8 0.2-0.1 1.2 3.6-1.5-3.3-1.9-0.1 1.2-1.9-0.2zM28 139.6l6.3 0.5-0.1 1.2 3.5-1.4-3.3-2-0.1 1.2-6.3-0.5zM37.3 139.6l6.2 0.5-0.1 1.2 3.5-1.5-3.2-1.9-0.1 1.2-6.3-0.5zM46.6 139.6l6.3 0.5-0.1 1.2 3.5-1.4-3.2-2-0.1 1.2-6.3-0.5zM55.9 139.6l6.4 0.5-0.1 1.2 3.5-1.4-3.3-2-0.1 1.2-6.3-0.5zM65.2 139.6l6.4 0.5-0.1 1.2 3.5-1.4-3.2-2-0.1 1.2-6.4-0.5zM74.5 139.6l6.4 0.5-0.1 1.2 3.5-1.4-3.2-2-0.1 1.2-6.4-0.5zM83.8 139.6l6.4 0.5-0.1 1.2 3.5-1.4-3.2-2-0.1 1.2-6.4-0.5zM93.1 139.6l6.4 0.5-0.1 1.2 3.5-1.4-3.2-2-0.1 1.2-6.4-0.5zM102.5 139.6l6.3 0.5-0.1 1.2 3.6-1.4-3.3-2-0.1 1.2-6.4-0.5zM111.8 139.6l6.3 0.5-0.1 1.2 3.6-1.4-3.3-2-0.1 1.2-6.3-0.5zM121.1 139.6l6.4 0.5-0.1 1.2 3.5-1.4-3.3-2-0.1 1.2-6.3-0.5zM130.4 139.6l6.4 0.5-0.1 1.2 3.5-1.4-3.3-2-0.1 1.2-6.3-0.5zM139.7 139.6l6.4 0.5-0.1 1.2 3.5-1.4-3.2-2-0.1 1.2-6.4-0.5zM149 139.6l6.4 0.5-0.1 1.2 3.5-1.4-3.2-2-0.1 1.2-6.4-0.5zM158.3 139.6l6.4 0.5-0.1 1.2 3.5-1.4-3.2-2-0.1 1.2-6.4-0.5zM167.6 139.6l6.4 0.5-0.1 1.2 3.5-1.4-3.2-2-0.1 1.2-6.4-0.5zM177 139.6l6.3 0.5-0.1 1.2 3.6-1.4-3.3-2-0.1 1.2-6.4-0.5zM186.3 139.6l6.3 0.5-0.1 1.2 3.6-1.4-3.3-2-0.1 1.2-6.3-0.5zM195.6 139.6l6.4 0.5-0.1 1.2 3.5-1.4-3.3-2-0.1 1.2-6.3-0.5zM204.9 139.6l6.4 0.5-0.1 1.2 3.5-1.4-3.3-2-0.1 1.2-6.3-0.5zM214.2 139.6l6.4 0.5-0.1 1.2 3.5-1.4-3.2-2-0.1 1.2-6.4-0.5zM223.5 139.6l6.4 0.5-0.1 1.2 3.5-1.4-3.2-2-0.1 1.2-6.4-0.5zM232.8 139.6l6.4 0.5-0.1 1.2 3.5-1.4-3.2-2-0.1 1.2-6.4-0.5zM242.1 139.6l6.4 0.5-0.1 1.2 3.5-1.4-3.2-2-0.1 1.2-6.4-0.5zM251.5 139.6l6.3 0.5-0.1 1.2 3.6-1.4-3.3-2-0.1 1.2-6.4-0.5zM260.8 139.6l6.3 0.5-0.1 1.2 3.6-1.4-3.3-2-0.1 1.2-6.3-0.5zM270.1 139.6l6.4 0.5-0.1 1.2 3.5-1.4-3.3-2-0.1 1.2-6.3-0.5zM279.4 139.6l6.4 0.5-0.1 1.2 3.5-1.4-3.3-2-0.1 1.2-6.3-0.5zM288.7 139.6l6.4 0.5-0.1 1.2 3.5-1.4-3.2-2-0.1 1.2-6.4-0.5zM298 139.6l6.4 0.5-0.1 1.2 3.5-1.4-3.2-2-0.1 1.2-6.4-0.5zM307.3 139.6l6.4 0.5-0.1 1.2 3.5-1.4-3.2-2-0.1 1.2-6.4-0.5zM316.6 139.6l6.4 0.5-0.1 1.2 3.5-1.4-3.2-2-0.1 1.2-6.4-0.5zM326 139.6l6.3 0.5-0.1 1.2 3.6-1.4-3.3-2-0.1 1.2-6.4-0.5zM28 148.9l8.6 0.7-0.1 1.2 3.5-1.4-3.3-2-0.1 1.2-8.6-0.7zM37.3 148.9l8.6 0.7-0.1 1.2 3.5-1.4-3.3-2-0.1 1.2-8.5-0.7zM46.6 148.9l8.6 0.7-0.1 1.2 3.5-1.4-3.2-2-0.1 1.2-8.6-0.7zM55.9 148.9l8.6 0.7-0.1 1.2 3.5-1.4-3.2-2-0.1 1.2-8.6-0.7zM65.2 148.9l8.6 0.7-0.1 1.2 3.5-1.4-3.2-2-0.1 1.2-8.6-0.7zM74.5 148.9l8.6 0.7-0.1 1.2 3.6-1.4-3.3-2-0.1 1.2-8.6-0.7zM83.8 148.9l8.6 0.7 0 1.2 3.5-1.4-3.3-2-0.1 1.2-8.6-0.7zM93.1 148.9l8.7 0.7-0.1 1.2 3.5-1.4-3.3-2-0.1 1.2-8.6-0.7zM102.5 148.9l8.6 0.7-0.1 1.2 3.5-1.4-3.3-2 0 1.2-8.7-0.7zM111.8 148.9l8.6 0.7-0.1 1.2 3.5-1.4-3.2-2-0.1 1.2-8.6-0.7zM121.1 148.9l8.6 0.7-0.1 1.2 3.5-1.4-3.2-2-0.1 1.2-8.6-0.7zM130.4 148.9l8.6 0.7-0.1 1.2 3.5-1.4-3.2-2-0.1 1.2-8.6-0.7zM139.7 148.9l8.6 0.7-0.1 1.2 3.5-1.4-3.2-2-0.1 1.2-8.6-0.7zM149 148.9l8.6 0.7-0.1 1.2 3.6-1.4-3.3-2-0.1 1.2-8.6-0.7zM158.3 148.9l8.6 0.7 0 1.2 3.5-1.4-3.3-2-0.1 1.2-8.6-0.7zM167.6 148.9l8.7 0.7-0.1 1.2 3.5-1.4-3.3-2-0.1 1.2-8.6-0.7zM177 148.9l8.6 0.7-0.1 1.2 3.5-1.4-3.3-2 0 1.2-8.7-0.7zM186.3 148.9l8.6 0.7-0.1 1.2 3.5-1.4-3.2-2-0.1 1.2-8.6-0.7zM195.6 148.9l8.6 0.7-0.1 1.2 3.5-1.4-3.2-2-0.1 1.2-8.6-0.7zM204.9 148.9l8.6 0.7-0.1 1.2 3.5-1.4-3.2-2-0.1 1.2-8.6-0.7zM214.2 148.9l8.6 0.7-0.1 1.2 3.5-1.4-3.2-2-0.1 1.2-8.6-0.7zM223.5 148.9l8.6 0.7-0.1 1.2 3.6-1.4-3.3-2-0.1 1.2-8.6-0.7zM232.8 148.9l8.6 0.7 0 1.2 3.5-1.4-3.3-2-0.1 1.2-8.6-0.7zM242.1 148.9l8.7 0.7-0.1 1.2 3.5-1.4-3.3-2-0.1 1.2-8.6-0.7zM251.5 148.9l8.6 0.7-0.1 1.2 3.5-1.4-3.3-2 0 1.2-8.7-0.7zM260.8 148.9l8.6 0.7-0.1 1.2 3.5-1.4-3.2-2-0.1 1.2-8.6-0.7zM270.1 148.9l8.6 0.7-0.1 1.2 3.5-1.4-3.2-2-0.1 1.2-8.6-0.7zM279.4 148.9l8.6 0.7-0.1 1.2 3.5-1.4-3.2-2-0.1 1.2-8.6-0.7zM288.7 148.9l8.6 0.7-0.1 1.2 3.6-1.4-3.3-2-0.1 1.2-8.6-0.7zM298 148.9l8.6 0.7-0.1 1.2 3.6-1.4-3.3-2-0.1 1.2-8.6-0.7zM307.3 148.9l8.6 0.7 0 1.2 3.5-1.4-3.3-2-0.1 1.2-8.6-0.7zM316.6 148.9l8.7 0.7-0.1 1.2 3.5-1.4-3.3-2-0.1 1.2-8.6-0.7zM326 148.9l8.6 0.7-0.1 1.2 3.5-1.4-3.3-2 0 1.2-8.7-0.7zM28 158.2l6.3 0.6-0.1 1.2 3.6-1.5-3.3-1.9-0.1 1.2-6.4-0.5zM37.3 158.2l6.3 0.6-0.1 1.2 3.6-1.5-3.3-1.9-0.1 1.2-6.3-0.5zM46.6 158.2l6.4 0.6-0.1 1.2 3.5-1.5-3.3-1.9-0.1 1.2-6.3-0.5zM55.9 158.2l6.4 0.6-0.1 1.2 3.5-1.5-3.3-1.9-0.1 1.2-6.3-0.5zM65.2 158.2l6.4 0.6-0.1 1.2 3.5-1.5-3.2-1.9-0.1 1.2-6.4-0.5zM74.5 158.2l6.4 0.6-0.1 1.2 3.5-1.5-3.2-1.9-0.1 1.2-6.4-0.5zM83.8 158.2l6.4 0.6-0.1 1.2 3.5-1.5-3.2-1.9-0.1 1.2-6.4-0.5zM93.1 158.2l6.4 0.6-0.1 1.2 3.5-1.5-3.2-1.9-0.1 1.2-6.4-0.5zM102.5 158.2l6.3 0.6-0.1 1.2 3.6-1.5-3.3-1.9-0.1 1.2-6.4-0.5zM111.8 158.2l6.3 0.6-0.1 1.2 3.6-1.5-3.3-1.9-0.1 1.2-6.3-0.5zM121.1 158.2l6.4 0.6-0.1 1.2 3.5-1.5-3.3-1.9-0.1 1.2-6.3-0.5zM130.4 158.2l6.4 0.6-0.1 1.2 3.5-1.5-3.3-1.9-0.1 1.2-6.3-0.5zM139.7 158.2l6.4 0.6-0.1 1.2 3.5-1.5-3.2-1.9-0.1 1.2-6.4-0.5zM149 158.2l6.4 0.6-0.1 1.2 3.5-1.5-3.2-1.9-0.1 1.2-6.4-0.5zM158.3 158.2l6.4 0.6-0.1 1.2 3.5-1.5-3.2-1.9-0.1 1.2-6.4-0.5zM167.6 158.2l6.4 0.6-0.1 1.2 3.5-1.5-3.2-1.9-0.1 1.2-6.4-0.5zM177 158.2l6.3 0.6-0.1 1.2 3.6-1.5-3.3-1.9-0.1 1.2-6.4-0.5zM186.3 158.2l6.3 0.6-0.1 1.2 3.6-1.5-3.3-1.9-0.1 1.2-6.3-0.5zM195.6 158.2l6.4 0.6-0.1 1.2 3.5-1.5-3.3-1.9-0.1 1.2-6.3-0.5zM204.9 158.2l6.4 0.6-0.1 1.2 3.5-1.5-3.3-1.9-0.1 1.2-6.3-0.5zM214.2 158.2l6.4 0.6-0.1 1.2 3.5-1.5-3.2-1.9-0.1 1.2-6.4-0.5zM223.5 158.2l6.4 0.6-0.1 1.2 3.5-1.5-3.2-1.9-0.1 1.2-6.4-0.5zM232.8 158.2l6.4 0.6-0.1 1.2 3.5-1.5-3.2-1.9-0.1 1.2-6.4-0.5zM242.1 158.2l6.4 0.6-0.1 1.2 3.5-1.5-3.2-1.9-0.1 1.2-6.4-0.5zM251.5 158.2l6.3 0.6-0.1 1.2 3.6-1.5-3.3-1.9-0.1 1.2-6.4-0.5zM260.8 158.2l6.3 0.6-0.1 1.2 3.6-1.5-3.3-1.9-0.1 1.2-6.3-0.5zM270.1 158.2l6.4 0.6-0.1 1.2 3.5-1.5-3.3-1.9-0.1 1.2-6.3-0.5zM279.4 158.2l6.4 0.6-0.1 1.2 3.5-1.5-3.3-1.9-0.1 1.2-6.3-0.5zM288.7 158.2l6.4 0.6-0.1 1.2 3.5-1.5-3.2-1.9-0.1 1.2-6.4-0.5zM298 158.2l6.4 0.6-0.1 1.2 3.5-1.5-3.2-1.9-0.1 1.2-6.4-0.5zM307.3 158.2l6.4 0.6-0.1 1.2 3.5-1.5-3.2-1.9-0.1 1.2-6.4-0.5zM316.6 158.2l6.4 0.6-0.1 1.2 3.5-1.5-3.2-1.9-0.1 1.2-6.4-0.5zM326 158.2l6.3 0.6-0.1 1.2 3.6-1.5-3.3-1.9-0.1 1.2-6.4-0.5zM28 167.6l1.8 0.1-0.1 1.2 3.5-1.4-3.2-2-0.1 1.2-1.9-0.1zM37.3 167.6l1.8 0.1-0.1 1.2 3.6-1.4-3.3-2-0.1 1.2-1.8-0.1zM46.6 167.6l1.8 0.1-0.1 1.2 3.6-1.4-3.3-2-0.1 1.2-1.8-0.1zM55.9 167.6l1.9 0.1-0.1 1.2 3.5-1.4-3.3-2-0.1 1.2-1.8-0.1zM65.2 167.6l1.9 0.1-0.1 1.2 3.5-1.4-3.3-2-0.1 1.2-1.8-0.1zM74.5 167.6l1.9 0.1-0.1 1.2 3.5-1.4-3.2-2-0.1 1.2-1.9-0.1zM83.8 167.6l1.9 0.1-0.1 1.2 3.5-1.4-3.2-2-0.1 1.2-1.9-0.1zM93.1 167.6l1.9 0.1-0.1 1.2 3.5-1.4-3.2-2-0.1 1.2-1.9-0.1zM102.5 167.6l1.8 0.1-0.1 1.2 3.5-1.4-3.2-2-0.1 1.2-1.9-0.1zM111.8 167.6l1.8 0.1-0.1 1.2 3.6-1.4-3.3-2-0.1 1.2-1.8-0.1zM121.1 167.6l1.8 0.1-0.1 1.2 3.6-1.4-3.3-2-0.1 1.2-1.8-0.1zM130.4 167.6l1.9 0.1-0.1 1.2 3.5-1.4-3.3-2-0.1 1.2-1.8-0.1zM139.7 167.6l1.9 0.1-0.1 1.2 3.5-1.4-3.3-2-0.1 1.2-1.8-0.1zM149 167.6l1.9 0.1-0.1 1.2 3.5-1.4-3.2-2-0.1 1.2-1.9-0.1zM158.3 167.6l1.9 0.1-0.1 1.2 3.5-1.4-3.2-2-0.1 1.2-1.9-0.1zM167.6 167.6l1.9 0.1-0.1 1.2 3.5-1.4-3.2-2-0.1 1.2-1.9-0.1zM177 167.6l1.8 0.1-0.1 1.2 3.5-1.4-3.2-2-0.1 1.2-1.9-0.1zM186.3 167.6l1.8 0.1-0.1 1.2 3.6-1.4-3.3-2-0.1 1.2-1.8-0.1zM195.6 167.6l1.8 0.1-0.1 1.2 3.6-1.4-3.3-2-0.1 1.2-1.8-0.1zM204.9 167.6l1.9 0.1-0.1 1.2 3.5-1.4-3.3-2-0.1 1.2-1.8-0.1zM214.2 167.6l1.9 0.1-0.1 1.2 3.5-1.4-3.3-2-0.1 1.2-1.8-0.1zM223.5 167.6l1.9 0.1-0.1 1.2 3.5-1.4-3.2-2-0.1 1.2-1.9-0.1zM232.8 167.6l1.9 0.1-0.1 1.2 3.5-1.4-3.2-2-0.1 1.2-1.9-0.1zM242.1 167.6l1.9 0.1-0.1 1.2 3.5-1.4-3.2-2-0.1 1.2-1.9-0.1zM251.5 167.6l1.8 0.1-0.1 1.2 3.5-1.4-3.2-2-0.1 1.2-1.9-0.1zM260.8 167.6l1.8 0.1-0.1 1.2 3.6-1.4-3.3-2-0.1 1.2-1.8-0.1zM270.1 167.6l1.8 0.1-0.1 1.2 3.6-1.4-3.3-2-0.1 1.2-1.8-0.1zM279.4 167.6l1.9 0.1-0.1 1.2 3.5-1.4-3.3-2-0.1 1.2-1.8-0.1zM288.7 167.6l1.9 0.1-0.1 1.2 3.5-1.4-3.3-2-0.1 1.2-1.8-0.1zM298 167.6l1.9 0.1-0.1 1.2 3.5-1.4-3.2-2-0.1 1.2-1.9-0.1zM307.3 167.6l1.9 0.1-0.1 1.2 3.5-1.4-3.2-2-0.1 1.2-1.9-0.1zM316.6 167.6l1.9 0.1-0.1 1.2 3.5-1.4-3.2-2-0.1 1.2-1.9-0.1zM326 167.6l1.8 0.1-0.1 1.2 3.5-1.4-3.2-2-0.1 1.2-1.9-0.1zM28.3 176.5l0.1-0.3 0.7 0.3-0.1-2.1-1.8 1.2 0.7 0.3-0.2 0.3zM37.6 176.5l0.1-0.3 0.7 0.3-0.1-2.1-1.7 1.2 0.6 0.3-0.2 0.3zM46.9 176.5l0.2-0.3 0.6 0.3-0.1-2.1-1.7 1.2 0.6 0.3-0.1 0.3zM56.2 176.5l0.2-0.3 0.6 0.3-0.1-2.1-1.7 1.2 0.6 0.3-0.1 0.3zM65.5 176.5l0.2-0.3 0.6 0.3-0.1-2.1-1.7 1.2 0.6 0.3-0.1 0.3zM74.8 176.5l0.2-0.3 0.6 0.3-0.1-2.1-1.7 1.2 0.7 0.3-0.2 0.3zM84.1 176.5l0.2-0.3 0.7 0.3-0.2-2.1-1.7 1.2 0.7 0.3-0.2 0.3zM93.5 176.5l0.1-0.3 0.7 0.3-0.1-2.1-1.8 1.2 0.7 0.3-0.2 0.3zM102.8 176.5l0.1-0.3 0.7 0.3-0.1-2.1-1.8 1.2 0.7 0.3-0.2 0.3zM112.1 176.5l0.1-0.3 0.7 0.3-0.1-2.1-1.7 1.2 0.6 0.3-0.2 0.3zM121.4 176.5l0.2-0.3 0.6 0.3-0.1-2.1-1.7 1.2 0.6 0.3-0.1 0.3zM130.7 176.5l0.2-0.3 0.6 0.3-0.1-2.1-1.7 1.2 0.6 0.3-0.1 0.3zM140 176.5l0.2-0.3 0.6 0.3-0.1-2.1-1.7 1.2 0.6 0.3-0.1 0.3zM149.3 176.5l0.2-0.3 0.6 0.3-0.1-2.1-1.7 1.2 0.7 0.3-0.2 0.3zM158.6 176.5l0.2-0.3 0.7 0.3-0.2-2.1-1.7 1.2 0.7 0.3-0.2 0.3zM168 176.5l0.1-0.3 0.7 0.3-0.1-2.1-1.8 1.2 0.7 0.3-0.2 0.3zM177.3 176.5l0.1-0.3 0.7 0.3-0.1-2.1-1.8 1.2 0.7 0.3-0.2 0.3zM186.6 176.5l0.1-0.3 0.7 0.3-0.1-2.1-1.7 1.2 0.6 0.3-0.2 0.3zM195.9 176.5l0.2-0.3 0.6 0.3-0.1-2.1-1.7 1.2 0.6 0.3-0.1 0.3zM205.2 176.5l0.2-0.3 0.6 0.3-0.1-2.1-1.7 1.2 0.6 0.3-0.1 0.3zM214.5 176.5l0.2-0.3 0.6 0.3-0.1-2.1-1.7 1.2 0.6 0.3-0.1 0.3zM223.8 176.5l0.2-0.3 0.6 0.3-0.1-2.1-1.7 1.2 0.7 0.3-0.2 0.3zM233.1 176.5l0.2-0.3 0.7 0.3-0.2-2.1-1.7 1.2 0.7 0.3-0.2 0.3zM242.5 176.5l0.1-0.3 0.7 0.3-0.1-2.1-1.8 1.2 0.7 0.3-0.2 0.3zM251.8 176.5l0.1-0.3 0.7 0.3-0.1-2.1-1.8 1.2 0.7 0.3-0.2 0.3zM261.1 176.5l0.1-0.3 0.7 0.3-0.1-2.1-1.7 1.2 0.6 0.3-0.2 0.3zM270.4 176.5l0.2-0.3 0.6 0.3-0.1-2.1-1.7 1.2 0.6 0.3-0.1 0.3zM279.7 176.5l0.2-0.3 0.6 0.3-0.1-2.1-1.7 1.2 0.6 0.3-0.1 0.3zM289 176.5l0.2-0.3 0.6 0.3-0.1-2.1-1.7 1.2 0.6 0.3-0.1 0.3zM298.3 176.5l0.2-0.3 0.6 0.3-0.1-2.1-1.7 1.2 0.7 0.3-0.2 0.3zM307.6 176.5l0.2-0.3 0.7 0.3-0.2-2.1-1.7 1.2 0.7 0.3-0.2 0.3zM317 176.5l0.1-0.3 0.7 0.3-0.1-2.1-1.8 1.2 0.7 0.3-0.2 0.3zM326.3 176.5l0.1-0.3 0.7 0.3-0.1-2.1-1.8 1.2 0.7 0.3-0.2 0.3zM28.4 185.4l-1.7-1.9 0.9-0.8-3.6-1.4 1 3.7 0.9-0.8 1.7 1.8zM37.7 185.4l-1.7-1.9 0.9-0.8-3.6-1.4 1.1 3.7 0.8-0.8 1.7 1.8zM47 185.4l-1.7-1.9 0.9-0.8-3.6-1.4 1.1 3.7 0.9-0.8 1.7 1.8zM56.3 185.4l-1.7-1.9 0.9-0.8-3.5-1.4 1 3.7 0.9-0.8 1.7 1.8zM65.6 185.4l-1.7-1.9 0.9-0.8-3.5-1.4 1 3.7 0.9-0.8 1.7 1.8zM74.9 185.4l-1.7-1.9 0.9-0.8-3.5-1.4 1 3.7 0.9-0.8 1.7 1.8zM84.2 185.4l-1.7-1.9 0.9-0.8-3.5-1.4 1 3.7 0.9-0.8 1.7 1.8zM93.6 185.4l-1.7-1.9 0.8-0.8-3.5-1.4 1 3.7 0.9-0.8 1.7 1.8zM102.9 185.4l-1.7-1.9 0.9-0.8-3.6-1.4 1 3.7 0.9-0.8 1.7 1.8zM112.2 185.4l-1.7-1.9 0.9-0.8-3.6-1.4 1.1 3.7 0.8-0.8 1.7 1.8zM121.5 185.4l-1.7-1.9 0.9-0.8-3.6-1.4 1.1 3.7 0.9-0.8 1.7 1.8zM130.8 185.4l-1.7-1.9 0.9-0.8-3.5-1.4 1 3.7 0.9-0.8 1.7 1.8zM140.1 185.4l-1.7-1.9 0.9-0.8-3.5-1.4 1 3.7 0.9-0.8 1.7 1.8zM149.4 185.4l-1.7-1.9 0.9-0.8-3.5-1.4 1 3.7 0.9-0.8 1.7 1.8zM158.7 185.4l-1.7-1.9 0.9-0.8-3.5-1.4 1 3.7 0.9-0.8 1.7 1.8zM168.1 185.4l-1.7-1.9 0.8-0.8-3.5-1.4 1 3.7 0.9-0.8 1.7 1.8zM177.4 185.4l-1.7-1.9 0.9-0.8-3.6-1.4 1 3.7 0.9-0.8 1.7 1.8zM186.7 185.4l-1.7-1.9 0.9-0.8-3.6-1.4 1.1 3.7 0.8-0.8 1.7 1.8zM196 185.4l-1.7-1.9 0.9-0.8-3.6-1.4 1.1 3.7 0.9-0.8 1.7 1.8zM205.3 185.4l-1.7-1.9 0.9-0.8-3.5-1.4 1 3.7 0.9-0.8 1.7 1.8zM214.6 185.4l-1.7-1.9 0.9-0.8-3.5-1.4 1 3.7 0.9-0.8 1.7 1.8zM223.9 185.4l-1.7-1.9 0.9-0.8-3.5-1.4 1 3.7 0.9-0.8 1.7 1.8zM233.2 185.4l-1.7-1.9 0.9-0.8-3.5-1.4 1 3.7 0.9-0.8 1.7 1.8zM242.6 185.4l-1.7-1.9 0.8-0.8-3.5-1.4 1 3.7 0.9-0.8 1.7 1.8zM251.9 185.4l-1.7-1.9 0.9-0.8-3.6-1.4 1 3.7 0.9-0.8 1.7 1.8zM261.2 185.4l-1.7-1.9 0.9-0.8-3.6-1.4 1.1 3.7 0.8-0.8 1.7 1.8zM270.5 185.4l-1.7-1.9 0.9-0.8-3.6-1.4 1.1 3.7 0.9-0.8 1.7 1.8zM279.8 185.4l-1.7-1.9 0.9-0.8-3.5-1.4 1 3.7 0.9-0.8 1.7 1.8zM289.1 185.4l-1.7-1.9 0.9-0.8-3.5-1.4 1 3.7 0.9-0.8 1.7 1.8zM298.4 185.4l-1.7-1.9 0.9-0.8-3.5-1.4 1 3.7 0.9-0.8 1.7 1.8zM307.7 185.4l-1.7-1.9 0.9-0.8-3.5-1.4 1 3.7 0.9-0.8 1.7 1.8zM317.1 185.4l-1.7-1.9 0.8-0.8-3.5-1.4 1 3.7 0.9-0.8 1.7 1.8zM326.4 185.4l-1.7-1.9 0.9-0.8-3.6-1.4 1 3.7 0.9-0.8 1.7 1.8z" fill="#000"/><path d="M111.8 45.6l-0.6 0-0.1-1-2.8 1.7 3.1 1.2-0.1-1 0.6-0.1zM121 45.5l-4.8 0.9-0.3-1.2-3 2.3 3.6 1.1-0.2-1.2 4.9-0.9zM130.4 45.5l-5.9 0.3-0.1-1.2-3.3 1.9 3.5 1.5-0.1-1.2 6-0.3zM139.8 45.5l-9.3-1.3 0.2-1.2-3.6 1.2 3.1 2.2 0.2-1.2 9.3 1.3zM149.1 45.5l-9.3-1.5 0.2-1.2-3.6 1.1 3.1 2.3 0.2-1.2 9.3 1.5zM158.4 45.5l-5.9 0 0-1.2-3.4 1.8 3.4 1.6 0-1.2 5.9 0zM167.6 45.5l-7.4 1.2-0.2-1.1-3.1 2.2 3.7 1.1-0.2-1.2 7.4-1.2zM176.9 45.5l-9.7 1.3-0.2-1.2-3.1 2.1 3.6 1.2-0.2-1.1 9.8-1.3zM186.3 45.5l-6.4-0.4 0.1-1.2-3.5 1.5 3.3 1.9 0.1-1.2 6.4 0.4zM195.7 45.5l-5.4-1 0.3-1.2-3.7 1.1 3 2.3 0.3-1.2 5.3 1zM205 45.5l-8.9-0.8 0.2-1.2-3.6 1.3 3.2 2.1 0.2-1.2 8.8 0.8zM214.2 45.5l-7.3 0.7-0.1-1.2-3.3 2.1 3.6 1.3-0.1-1.2 7.3-0.7zM223.5 45.5l-3.9 0.5-0.2-1.2-3.1 2.1 3.5 1.3-0.1-1.2 3.9-0.5zM233 45.5l-5.3-1.5 0.3-1.1-3.7 0.7 2.8 2.6 0.3-1.2 5.3 1.5zM242.5 45.6l-4.9-3.6 0.7-1-3.8-0.7 1.8 3.4 0.7-0.9 4.9 3.6zM251.7 45.5l-1.5-0.6 0.5-1.1-3.8 0.3 2.5 2.9 0.4-1.1 1.5 0.6zM270.5 46.3l2.5-3.5 1 0.6 0.5-3.7-3.3 1.8 1 0.7-2.5 3.5zM279.8 46.3l3-3.8 0.9 0.8 0.8-3.7-3.4 1.6 0.9 0.7-3 3.8zM289.1 46.4l2.3-2.1 0.8 1 1.5-3.5-3.7 0.9 0.8 0.9-2.4 2zM298.3 46.4l5.3-3.7 0.7 1 1.8-3.3-3.7 0.5 0.7 1-5.3 3.7zM307.7 46.4l4.9-4.4 0.8 0.9 1.5-3.5-3.7 1 0.8 0.9-5 4.3zM317.1 46.3l2.1-2.8 1 0.7 0.7-3.7-3.4 1.6 0.9 0.8-2.1 2.8zM326.4 46.3l3.2-4.6 1 0.7 0.5-3.8-3.3 1.8 1 0.7-3.2 4.6zM121.1 54.8l-1.7 0 0.1-1.2-3.5 1.7 3.4 1.7 0-1.2 1.7 0zM130.4 54.8l-5.6 0.9-0.2-1.2-3.1 2.2 3.6 1.2-0.2-1.2 5.6-0.9zM139.7 54.8l-3.4 0.5-0.2-1.2-3.1 2.2 3.6 1.2-0.2-1.2 3.4-0.5zM149.1 54.8l-2.2-0.1 0.1-1.2-3.5 1.6 3.3 1.8 0.1-1.2 2.1 0.1zM158.5 54.8l-4.9-0.9 0.2-1.2-3.7 1.1 3.1 2.3 0.2-1.2 4.9 0.9zM167.7 54.8l-4.7-0.6 0.1-1.1-3.6 1.2 3.2 2.1 0.2-1.2 4.7 0.6zM177 54.8l-2.4 0.1-0.1-1.2-3.3 1.9 3.5 1.5-0.1-1.2 2.4-0.1zM186.3 54.8l-4.9 0.6-0.1-1.2-3.2 2 3.5 1.3-0.1-1.1 4.9-0.6zM195.6 54.8l-7.6-0.4 0-1.2-3.4 1.6 3.3 1.8 0-1.2 7.7 0.4zM205.1 54.8l-5-1.3 0.3-1.2-3.7 0.8 2.8 2.5 0.3-1.2 5 1.4zM214.4 54.8l-5.3-1.7 0.3-1.1-3.7 0.5 2.7 2.7 0.4-1.2 5.3 1.8zM223.7 54.8l-8.9-2.3 0.3-1.2-3.7 0.8 2.9 2.5 0.3-1.2 8.8 2.4zM233.2 55l-5.2-5.1 0.8-0.8-3.6-1.2 1.3 3.6 0.8-0.8 5.2 5zM242.6 55.1l-2.4-5.7 1.1-0.4-2.8-2.5-0.3 3.8 1.1-0.5 2.4 5.7zM251.9 55l-2.7-3 0.9-0.8-3.6-1.4 1 3.6 0.9-0.8 2.7 3zM317.1 55.2l-0.2-0.6 1-0.3-2.3-2.4-0.5 3.3 1-0.3 0.2 0.5zM186.5 64.2l-1.8-0.9 0.5-1.1-3.8 0 2.3 3 0.6-1 1.8 0.9zM195.8 64.1l-2.8-0.8 0.4-1.2-3.8 0.6 2.7 2.7 0.4-1.2 2.8 0.9zM205.1 64.2l-7.2-2.5 0.4-1.2-3.8 0.5 2.7 2.8 0.4-1.2 7.2 2.5zM214.5 64.2l-9.7-5.6 0.6-1-3.8-0.2 2.1 3.1 0.6-1 9.7 5.6zM223.9 64.2l-5.7-4.5 0.7-0.9-3.7-0.8 1.6 3.5 0.8-1 5.7 4.5zM233.2 64.2l-4.7-3.7 0.7-1-3.7-0.7 1.6 3.4 0.8-0.9 4.7 3.7zM242.5 64.2l-5.1-3.2 0.6-1-3.8-0.4 2 3.3 0.6-1.1 5.1 3.2zM251.7 64.2l-1.4-0.6 0.5-1.1-3.8 0.2 2.5 2.9 0.4-1.1 1.4 0.6zM307.5 64.1l-4.8-1.3 0.3-1.2-3.7 0.8 2.8 2.5 0.3-1.1 4.8 1.3zM316.9 64.2l-6-3.3 0.6-1.1-3.8-0.1 2.1 3.1 0.6-1 6 3.3zM326.3 64.2l-1.7-1.2 0.7-1-3.7-0.6 1.7 3.3 0.7-0.9 1.7 1.2zM195.9 73.5l-0.7-0.5 0.7-1-3.8-0.6 1.8 3.4 0.7-1 0.7 0.5zM205.1 73.5l-1.5-0.7 0.5-1.1-3.8 0.1 2.3 3 0.5-1.1 1.6 0.7zM214.4 73.5l-0.9-0.3 0.4-1.2-3.7 0.6 2.6 2.7 0.4-1.2 0.9 0.3zM223.8 73.5l-2.7-1.2 0.5-1.1-3.8 0.1 2.4 3 0.5-1.1 2.7 1.2zM233.2 73.5l-2.3-1.6 0.7-1-3.7-0.6 1.7 3.4 0.7-1 2.3 1.6zM307.4 73.4l-3.2-0.3 0.1-1.2-3.6 1.3 3.2 2 0.2-1.1 3.2 0.3zM316.8 73.4l-11.7-2.4 0.2-1.1-3.6 0.9 2.9 2.4 0.3-1.2 11.7 2.4zM326.2 73.5l-7.6-2.9 0.5-1.1-3.8 0.3 2.5 2.8 0.5-1.1 7.5 2.9zM297.6 83.2l-0.1 1.4-1.2-0.1 1.5 3.5 1.9-3.3-1.2-0.1 0.1-1.3zM306.9 83l-1.1 2.5-1.1-0.5 0.1 3.8 3-2.4-1.1-0.5 1.1-2.4zM316.5 82.8l-0.6 0.3-0.5-1.1-2.3 2.9 3.7 0.1-0.5-1 0.6-0.3zM102.4 93.1l1.2 0.2-0.3 1.2 3.7-1-3-2.3-0.2 1.1-1.2-0.2zM111.6 93l1.8 0.7-0.4 1.2 3.8-0.4-2.5-2.8-0.5 1.1-1.8-0.7zM120.9 93l0.6 0.3-0.4 1.1 3.7-0.2-2.4-2.9-0.5 1.1-0.6-0.3zM130.3 93l1.3 0.4-0.4 1.2 3.8-0.6-2.8-2.7-0.3 1.2-1.3-0.4zM139.6 93l2.3 0.6-0.3 1.2 3.7-0.9-2.9-2.5-0.3 1.2-2.2-0.5zM148.9 93l0.9 0.4-0.4 1.1 3.8-0.4-2.6-2.8-0.4 1.1-1-0.3zM158.1 93l0.6 0.4-0.6 1 3.8 0.3-2-3.2-0.7 1-0.6-0.4zM167.4 93l1.7 1.3-0.7 0.9 3.8 0.7-1.7-3.4-0.8 1-1.7-1.3zM176.8 93l1.3 0.8-0.6 1 3.8 0.2-2.1-3.1-0.6 1-1.4-0.8zM186.2 93l0.5 0.2-0.3 0.9 3.2-0.4-2.3-2.3-0.3 0.9-0.5-0.1zM195.5 93l0.9 0.3-0.3 1.2 3.7-0.6-2.7-2.7-0.4 1.2-0.9-0.3zM204.7 93l1 0.5-0.5 1.1 3.8 0-2.3-3-0.5 1-1-0.5zM288.3 92.8l0.3 0.6-1 0.5 3 2.3 0-3.8-1.1 0.5-0.3-0.6zM297.6 92.7l2.2 5.6-1.1 0.5 2.8 2.5 0.4-3.8-1.2 0.4-2.2-5.5zM306.9 92.6l0.6 3.7-1.2 0.2 2.3 3.1 1.1-3.7-1.2 0.2-0.6-3.6zM316.2 92.6l0 0.6-1.1 0 1.6 3.2 1.6-3.2-1.1 0 0-0.6zM55.8 102.4l1.1 0.3-0.3 1.1 3.7-0.6-2.8-2.6-0.3 1.1-1.1-0.3zM65 102.3l2.4 1.1-0.5 1.1 3.8-0.2-2.4-2.9-0.5 1.1-2.3-1.1zM74.3 102.3l1.5 1-0.6 1 3.8 0.3-2-3.2-0.6 1-1.6-0.9zM83.6 102.3l3.5 1.8-0.6 1 3.8 0.1-2.2-3.1-0.6 1.1-3.4-1.8zM93.1 102.4l8.8 1.6-0.2 1.2 3.7-1-3.1-2.3-0.2 1.2-8.8-1.7zM102.5 102.4l8.9-0.4 0 1.2 3.4-1.8-3.5-1.6 0 1.2-8.8 0.4zM111.8 102.4l8 0 0 1.2 3.4-1.7-3.4-1.7 0 1.2-8 0zM121 102.4l12.3 3.1-0.3 1.1 3.7-0.8-2.9-2.5-0.3 1.2-12.3-3.1zM130.2 102.3l9.6 4.7-0.6 1.1 3.8 0-2.3-3-0.5 1-9.5-4.7zM139.5 102.3l4.9 2.4-0.5 1.1 3.8-0.1-2.3-3-0.6 1.1-4.8-2.4zM148.9 102.4l7.5 2.4-0.4 1.1 3.7-0.5-2.7-2.7-0.3 1.1-7.5-2.4zM158.2 102.4l10 2.9-0.3 1.2 3.7-0.7-2.7-2.6-0.4 1.2-10-3zM167.5 102.3l5.6 2.7-0.5 1.1 3.8 0-2.3-3-0.5 1-5.7-2.7zM176.7 102.3l4.8 3.4-0.7 1 3.8 0.6-1.8-3.4-0.7 1-4.8-3.4zM186 102.3l8.3 5.7-0.7 1 3.7 0.6-1.8-3.4-0.7 1-8.2-5.7zM195.4 102.3l7.1 3.2-0.5 1.1 3.8-0.1-2.4-3-0.5 1.1-7.1-3.2zM204.8 102.4l4.3 1.2-0.3 1.2 3.7-0.7-2.8-2.6-0.3 1.2-4.3-1.3zM214.1 102.3l6.8 2.6-0.4 1.1 3.8-0.4-2.6-2.8-0.4 1.2-6.9-2.6zM223.3 102.3l6.3 3.9-0.6 1 3.8 0.4-2-3.3-0.7 1-6.3-3.9zM232.6 102.3l2.8 2.1-0.7 1 3.7 0.6-1.7-3.4-0.7 1-2.8-2.1zM241.9 102.3l3.3 1.9-0.6 1 3.8 0.2-2.1-3.1-0.6 1-3.3-1.9zM251.3 102.3l4.6 1.6-0.3 1.2 3.7-0.5-2.6-2.8-0.4 1.2-4.6-1.6zM260.7 102.4l2.2 0.6-0.4 1.2 3.8-0.6-2.8-2.7-0.3 1.2-2.2-0.7zM269.9 102.3l0.8 0.4-0.6 1.1 3.8 0.1-2.2-3.1-0.6 1-0.7-0.4zM279.1 102.2l1.5 1.5-0.8 0.9 3.6 1.2-1.3-3.6-0.8 0.8-1.5-1.5zM288.3 102.1l1.6 2.8-1.1 0.6 3.2 2.1-0.2-3.8-1.1 0.6-1.5-2.8zM297.6 102.1l1.6 3-1.1 0.6 3.1 2.2-0.1-3.8-1 0.6-1.6-3.1zM306.9 102.1l2.6 4.4-1 0.6 3.2 2-0.3-3.8-1 0.7-2.6-4.4zM316.3 102.1l1.3 2.3-1.1 0.6 3.2 2.2-0.2-3.8-1.1 0.6-1.3-2.4zM46.3 111.6l0.6 0.3-0.7 0.9 3.5 0.7-1.6-3.2-0.7 0.9-0.5-0.4zM55.7 111.6l0.6 0.3-0.5 0.9 3.4 0.1-2-2.8-0.5 1-0.6-0.3zM74.4 111.7l2.1 0.7-0.3 1.1 3.7-0.5-2.6-2.7-0.4 1.2-2.2-0.8zM83.6 111.6l3.2 1.8-0.6 1 3.8 0.2-2.1-3.2-0.6 1.1-3.2-1.8zM92.9 111.6l1.9 1.3-0.7 1 3.8 0.4-1.9-3.3-0.6 1-1.9-1.2zM102.3 111.6l4.2 2.1-0.6 1.1 3.8 0-2.3-3.1-0.5 1.1-4.2-2.1zM111.7 111.7l8.2 2.1-0.3 1.2 3.7-0.8-2.8-2.5-0.4 1.2-8.2-2.2zM121 111.7l6.2 1.3-0.2 1.2 3.7-1-3-2.3-0.2 1.1-6.3-1.3zM130.2 111.7l5.4 2.2-0.4 1.1 3.8-0.3-2.5-2.9-0.5 1.1-5.4-2.2zM139.5 111.6l8.5 5.8-0.6 1 3.7 0.5-1.8-3.3-0.7 1-8.6-5.8zM148.8 111.6l8.1 5.8-0.7 1 3.8 0.5-1.8-3.3-0.7 1-8.1-5.8zM158.2 111.6l6.2 3-0.6 1.1 3.8-0.1-2.3-3-0.5 1.1-6.2-3zM167.5 111.7l9.8 3-0.3 1.1 3.7-0.6-2.7-2.7-0.4 1.2-9.8-3zM176.8 111.7l11.5 4.1-0.4 1.2 3.7-0.5-2.6-2.7-0.4 1.1-11.4-4.2zM186.1 111.6l6.7 4.1-0.6 1 3.8 0.3-2-3.2-0.7 1-6.7-4zM195.3 111.6l6.2 4.7-0.7 1 3.7 0.7-1.6-3.5-0.8 1-6.2-4.7zM204.7 111.6l9.1 5.5-0.6 1 3.8 0.3-2.1-3.2-0.6 1.1-9.1-5.5zM214.1 111.7l7.1 2.5-0.4 1.2 3.7-0.5-2.6-2.7-0.4 1.1-7.1-2.6zM223.4 111.7l4.4 1.3-0.4 1.2 3.8-0.7-2.8-2.6-0.3 1.2-4.4-1.4zM232.7 111.6l5.7 2.8-0.5 1.1 3.8 0-2.4-3.1-0.5 1.1-5.7-2.8zM241.9 111.6l4.4 3.2-0.7 0.9 3.7 0.7-1.7-3.4-0.7 1-4.4-3.2zM251.2 111.6l1.6 1.1-0.7 1 3.8 0.6-1.8-3.4-0.7 1-1.6-1.1zM260.6 111.6l1.8 0.9-0.5 1.1 3.8-0.1-2.3-3-0.6 1.1-1.8-0.9zM270 111.7l2.3 0.7-0.4 1.1 3.8-0.5-2.8-2.7-0.3 1.1-2.3-0.7zM279.2 111.6l0.6 0.3-0.4 1 3.4-0.1-2.1-2.8-0.5 1-0.6-0.2zM297.6 111.4l0.8 1.5-1 0.6 3.1 2.1-0.2-3.8-1 0.6-0.8-1.5zM306.9 111.5l0.5 0.7-1 0.6 3.2 2-0.3-3.8-1.1 0.6-0.4-0.7zM27.8 121l8.4 3.6-0.5 1.1 3.8-0.3-2.4-2.9-0.5 1.1-8.4-3.6zM37.1 121l10.1 4.5-0.5 1.1 3.8-0.2-2.4-2.9-0.5 1.1-10.1-4.6zM46.3 120.9l6.1 4.2-0.7 1 3.7 0.5-1.8-3.3-0.7 1-6-4.2zM55.6 120.9l6.3 5.7-0.8 0.9 3.7 1-1.4-3.5-0.8 0.9-6.3-5.8zM64.9 120.9l10.1 7.8-0.8 0.9 3.8 0.8-1.7-3.4-0.7 0.9-10-7.8zM74.3 120.9l9.1 4.6-0.5 1 3.8 0-2.3-3-0.6 1.1-9-4.5zM83.7 121l7.6 3-0.5 1.1 3.8-0.3-2.5-2.9-0.5 1.1-7.5-3zM92.9 120.9l11.2 6.2-0.6 1 3.8 0.2-2.1-3.2-0.6 1.1-11.2-6.1zM102.2 120.9l9.9 8.1-0.8 1 3.7 0.8-1.5-3.5-0.8 1-9.9-8.2zM111.5 120.9l6.4 5.5-0.8 0.9 3.7 1-1.5-3.5-0.7 0.9-6.5-5.6zM120.9 120.9l9.4 5.8-0.6 1 3.8 0.3-2-3.2-0.7 1-9.4-5.7zM130.3 121l13.1 5.2-0.5 1.2 3.8-0.4-2.5-2.8-0.5 1.1-13.1-5.3zM139.5 121l8.8 3.8-0.5 1.1 3.8-0.2-2.4-2.9-0.5 1.1-8.7-3.9zM148.8 120.9l7 4.9-0.7 1 3.8 0.5-1.8-3.3-0.7 1-7.1-4.9zM158 120.9l9.9 8.7-0.8 0.9 3.7 1-1.4-3.5-0.8 0.9-9.9-8.8zM167.4 120.9l8.8 6.5-0.8 0.9 3.8 0.7-1.7-3.4-0.7 1-8.8-6.5zM176.8 121l6.1 2.8-0.6 1.1 3.8-0.1-2.3-3-0.5 1.1-6.1-2.9zM186.1 121l9.7 3.7-0.4 1.2 3.8-0.4-2.6-2.8-0.4 1.1-9.7-3.8zM195.4 120.9l10.1 5.7-0.6 1.1 3.8 0.1-2.1-3.1-0.6 1-10.1-5.6zM204.6 120.9l5 4.1-0.8 0.9 3.7 0.9-1.5-3.5-0.8 1-4.9-4.2zM213.9 120.9l5.6 4.7-0.8 0.9 3.7 1-1.5-3.5-0.8 0.9-5.5-4.8zM223.3 120.9l9.7 5.7-0.6 1.1 3.8 0.2-2.1-3.2-0.6 1.1-9.7-5.7zM232.7 121l7.2 2.9-0.5 1.1 3.8-0.3-2.5-2.9-0.4 1.1-7.2-2.9zM242 121l5 2.3-0.5 1.1 3.8-0.2-2.4-2.9-0.5 1.1-5-2.4zM251.2 120.9l8 5.8-0.7 1 3.7 0.6-1.7-3.4-0.7 1-8-5.8zM260.5 120.9l7.1 6.4-0.8 0.9 3.6 1.1-1.3-3.6-0.8 0.9-7.2-6.5zM269.8 120.9l4.6 3.3-0.8 1 3.8 0.7-1.7-3.4-0.8 0.9-4.5-3.3zM279.2 121l7.4 3.5-0.5 1.1 3.8-0.1-2.3-3-0.5 1.1-7.4-3.6zM288.6 121l10.2 4.4-0.5 1.1 3.8-0.3-2.5-2.9-0.4 1.1-10.3-4.4zM297.8 120.9l6.4 4.1-0.7 1 3.8 0.5-2-3.3-0.6 1-6.4-4.1zM307 120.9l5.3 4.9-0.8 0.9 3.7 1.1-1.4-3.6-0.8 0.9-5.3-5zM316.4 120.9l8.4 7.6-0.8 0.8 3.6 1.1-1.4-3.6-0.8 0.9-8.4-7.6zM325.7 120.9l8.2 4.9-0.6 1.1 3.8 0.3-2-3.2-0.6 1-8.2-4.9zM27.7 130.2l6.5 4.5-0.7 1 3.8 0.5-1.8-3.3-0.7 1-6.5-4.5zM37.1 130.3l4.7 2-0.5 1.1 3.8-0.2-2.5-2.9-0.4 1.1-4.7-2zM46.5 130.3l7.7 2.4-0.4 1.2 3.7-0.6-2.7-2.7-0.3 1.2-7.7-2.5zM55.7 130.3l7.9 3.4-0.5 1.1 3.8-0.1-2.4-3-0.5 1.1-7.9-3.4zM65 130.2l3.8 2.7-0.7 1 3.7 0.5-1.8-3.3-0.7 1-3.8-2.7zM74.3 130.2l4.5 3.5-0.8 0.9 3.8 0.7-1.7-3.4-0.7 1-4.5-3.5zM83.6 130.3l7.5 4-0.6 1.1 3.8 0.1-2.1-3.1-0.6 1.1-7.5-4.1zM93 130.3l5.2 1.7-0.4 1.2 3.8-0.5-2.7-2.7-0.4 1.1-5.2-1.8zM102.3 130.3l3.8 1.3-0.4 1.1 3.7-0.4-2.6-2.8-0.4 1.2-3.7-1.4zM111.6 130.2l6.6 3.9-0.6 1 3.8 0.3-2.1-3.2-0.6 1-6.6-3.8zM120.8 130.2l5.6 4.3-0.8 1 3.8 0.7-1.7-3.4-0.7 1-5.6-4.4zM130.2 130.2l3.1 2.1-0.7 1 3.8 0.5-1.9-3.3-0.6 1-3.2-2.1zM139.6 130.3l5.9 2.4-0.5 1.1 3.8-0.2-2.5-2.9-0.4 1.1-6-2.4zM148.9 130.3l8.2 2.6-0.3 1.1 3.7-0.6-2.7-2.6-0.4 1.1-8.2-2.6zM158.2 130.3l4.7 2.2-0.5 1 3.8-0.1-2.4-2.9-0.5 1-4.7-2.1zM167.4 130.2l4.5 3.2-0.7 1 3.7 0.6-1.8-3.4-0.7 1-4.4-3.2zM176.7 130.2l7.5 5.7-0.8 0.9 3.8 0.7-1.7-3.4-0.7 1-7.5-5.7zM186.1 130.3l6.8 3.5-0.6 1.1 3.8 0.1-2.2-3.1-0.6 1-6.8-3.5zM195.5 130.3l5.1 1.7-0.4 1.1 3.8-0.5-2.7-2.7-0.4 1.1-5.1-1.7zM204.8 130.3l8.4 3.1-0.4 1.1 3.8-0.4-2.6-2.8-0.4 1.1-8.5-3.1zM214 130.2l8.4 5.1-0.6 1 3.8 0.3-2-3.2-0.6 1.1-8.5-5.1zM223.3 130.2l4.9 3.9-0.7 0.9 3.7 0.8-1.6-3.4-0.8 0.9-4.9-3.9zM232.6 130.2l6.5 4.3-0.6 1 3.7 0.4-1.9-3.3-0.6 1-6.6-4.2zM242 130.3l10 4-0.4 1.1 3.7-0.3-2.5-2.9-0.4 1.2-10-4.1zM251.3 130.3l7.4 2.3-0.3 1.2 3.7-0.6-2.7-2.6-0.4 1.1-7.3-2.4zM260.6 130.3l5.8 2.7-0.5 1.1 3.8-0.1-2.4-3-0.5 1.1-5.8-2.7zM269.8 130.2l8.1 5.9-0.7 1 3.7 0.6-1.7-3.4-0.7 1-8.1-5.9zM279.1 130.2l7.3 5.4-0.7 1 3.7 0.7-1.7-3.4-0.7 0.9-7.3-5.4zM288.5 130.3l5 2.5-0.6 1.1 3.8 0-2.2-3.1-0.6 1.1-4.9-2.5zM297.9 130.3l7.5 2.5-0.4 1.1 3.8-0.5-2.7-2.7-0.4 1.1-7.5-2.5zM307.2 130.3l8.9 3.4-0.5 1.1 3.8-0.4-2.6-2.8-0.4 1.1-8.8-3.4zM316.4 130.2l4.8 3-0.6 1 3.7 0.4-1.9-3.3-0.7 1.1-4.7-3zM325.7 130.2l4.3 3.4-0.8 0.9 3.8 0.8-1.7-3.5-0.7 1-4.3-3.4zM27.8 139.6l3.7 1.3-0.4 1.1 3.8-0.5-2.7-2.7-0.3 1.1-3.7-1.2zM37.1 139.6l6.6 2.7-0.5 1.1 3.8-0.3-2.5-2.8-0.5 1.1-6.5-2.7zM46.5 139.6l5.1 1.3-0.3 1.2 3.7-0.8-2.9-2.5-0.3 1.1-5.1-1.3zM55.9 139.6l3.5 0.3-0.1 1.2 3.5-1.5-3.2-1.9-0.1 1.2-3.5-0.3zM65.2 139.6l6.8 0.5 0 1.2 3.5-1.5-3.3-1.9-0.1 1.2-6.8-0.5zM74.4 139.6l7.1 1.8-0.3 1.1 3.7-0.8-2.9-2.5-0.2 1.2-7.1-1.8zM83.7 139.6l4 1.6-0.5 1.1 3.8-0.2-2.5-2.9-0.4 1.1-4-1.6zM93 139.6l5.8 2-0.4 1.2 3.8-0.5-2.7-2.8-0.4 1.2-5.7-2zM102.4 139.6l8.6 1.3-0.2 1.1 3.6-1.1-3.1-2.2-0.2 1.2-8.5-1.3zM111.8 139.6l6 0.3-0.1 1.2 3.5-1.6-3.3-1.8-0.1 1.2-6-0.3zM121.1 139.6l5.2 0.8-0.1 1.2 3.6-1.2-3.1-2.2-0.2 1.2-5.3-0.8zM130.3 139.6l8.2 2.9-0.4 1.1 3.7-0.4-2.6-2.8-0.4 1.2-8.2-2.9zM139.6 139.6l7.1 2.9-0.5 1.1 3.8-0.3-2.5-2.8-0.4 1.1-7.2-2.9zM148.9 139.6l4.9 1.2-0.3 1.1 3.7-0.8-2.9-2.5-0.3 1.2-4.8-1.2zM158.3 139.6l7.5 0.5-0.1 1.2 3.5-1.5-3.3-1.9-0.1 1.2-7.4-0.5zM167.7 139.6l8.6 0.7-0.1 1.2 3.5-1.5-3.3-1.9-0.1 1.2-8.6-0.7zM176.9 139.6l5 1.3-0.3 1.2 3.7-0.8-2.8-2.5-0.3 1.2-5.1-1.4zM186.1 139.6l5.1 2.1-0.5 1.1 3.8-0.2-2.5-2.9-0.4 1.1-5.1-2.1zM195.5 139.6l7.8 2.6-0.4 1.2 3.8-0.5-2.7-2.7-0.4 1.1-7.8-2.6zM204.9 139.6l5.8 0.8-0.1 1.2 3.6-1.3-3.2-2.1-0.1 1.2-5.9-0.8zM214.2 139.6l3.9 0.2-0.1 1.2 3.5-1.6-3.3-1.8-0.1 1.2-3.8-0.2zM223.5 139.6l6.6 1.1-0.2 1.2 3.7-1.1-3.1-2.3-0.2 1.2-6.7-1.1zM232.7 139.6l6.2 2.3-0.4 1.1 3.8-0.4-2.6-2.8-0.4 1.1-6.3-2.2zM242 139.6l3 1.2-0.4 1.1 3.7-0.3-2.5-2.8-0.4 1.1-3-1.2zM251.4 139.6l4.6 1.1-0.2 1.1 3.6-0.9-2.9-2.4-0.3 1.2-4.6-1.1zM260.8 139.6l6.9 0.4-0.1 1.2 3.5-1.5-3.3-1.9-0.1 1.2-6.9-0.4zM270.1 139.6l3.9 0.4-0.1 1.1 3.5-1.4-3.2-1.9-0.1 1.2-3.9-0.4zM279.3 139.6l3.2 0.9-0.4 1.1 3.8-0.7-2.9-2.5-0.3 1.1-3.1-0.9zM288.6 139.6l6 2.5-0.4 1.1 3.8-0.2-2.5-2.9-0.5 1.1-6.1-2.5zM297.9 139.6l5.3 1.7-0.4 1.2 3.8-0.6-2.7-2.7-0.4 1.2-5.3-1.8zM307.3 139.6l3 0.4-0.1 1.2 3.6-1.3-3.2-2.1-0.1 1.2-3.1-0.4zM316.7 139.6l5.8 0.3-0.1 1.2 3.5-1.6-3.3-1.8-0.1 1.2-5.8-0.3zM325.9 139.6l7.1 1.3-0.2 1.2 3.7-1.1-3.1-2.3-0.2 1.2-7.1-1.3zM28 148.9l19.2 0.9-0.1 1.2 3.5-1.5-3.3-1.9-0.1 1.2-19.2-0.9zM37.2 148.9l12.8 2.8-0.3 1.2 3.7-1-2.9-2.3-0.3 1.1-12.8-2.8zM46.4 148.9l13.6 5.4-0.4 1.1 3.8-0.4-2.6-2.8-0.4 1.1-13.6-5.3zM55.8 148.9l18.5 6.6-0.4 1.1 3.8-0.5-2.7-2.7-0.4 1.1-18.5-6.5zM65.2 148.9l14.7 2.3-0.2 1.2 3.7-1.2-3.2-2.2-0.1 1.2-14.8-2.3zM74.5 148.9l11.8 0.4 0 1.2 3.4-1.6-3.3-1.8 0 1.2-11.8-0.4zM83.8 148.9l17.3 2.2-0.2 1.1 3.6-1.2-3.1-2.1-0.2 1.2-17.3-2.2zM93 148.9l15.7 5.1-0.4 1.2 3.7-0.6-2.7-2.6-0.3 1.1-15.7-5.1zM102.3 148.9l9.5 3.9-0.4 1.1 3.8-0.3-2.5-2.9-0.5 1.1-9.5-3.8zM111.7 148.9l13.1 3.3-0.3 1.2 3.7-0.9-2.9-2.4-0.3 1.1-13.1-3.2zM121.1 148.9l16.7 1.1 0 1.2 3.5-1.5-3.3-1.9-0.1 1.2-16.7-1.1zM130.4 148.9l10.7 0.6-0.1 1.2 3.5-1.5-3.3-1.9-0.1 1.2-10.6-0.6zM139.6 148.9l9.6 2.3-0.3 1.1 3.7-0.9-2.9-2.4-0.3 1.2-9.5-2.2zM148.9 148.9l14.5 5.8-0.5 1.1 3.8-0.3-2.5-2.8-0.5 1.1-14.5-5.8zM158.2 148.9l12 4.1-0.4 1.1 3.8-0.5-2.7-2.7-0.4 1.2-12-4.1zM167.6 148.9l8.1 1.1-0.2 1.2 3.6-1.2-3.1-2.1-0.2 1.1-8-1.1zM177 148.9l13.4 0.4-0.1 1.2 3.5-1.6-3.4-1.8 0 1.2-13.4-0.4zM186.2 148.9l15 2.1-0.1 1.2 3.6-1.3-3.2-2.1-0.1 1.2-15-2.1zM195.5 148.9l8.7 3-0.4 1.1 3.8-0.5-2.7-2.7-0.4 1.1-8.7-2.9zM204.8 148.9l10.5 4.2-0.5 1.1 3.8-0.3-2.5-2.8-0.5 1.1-10.5-4.2zM214.1 148.9l16.4 3.9-0.3 1.1 3.7-0.8-2.9-2.5-0.3 1.2-16.3-3.8zM223.5 148.9l12.6 0.7 0 1.2 3.5-1.5-3.3-1.9-0.1 1.2-12.6-0.7zM232.8 148.9l10.5 0.7-0.1 1.2 3.5-1.5-3.3-1.9 0 1.2-10.5-0.7zM242.1 148.9l16.4 4.1-0.2 1.2 3.7-0.8-2.9-2.5-0.3 1.2-16.5-4.1zM251.3 148.9l15.5 6.3-0.5 1.1 3.8-0.3-2.5-2.9-0.5 1.1-15.4-6.2zM260.7 148.9l10.8 3.6-0.4 1.1 3.8-0.5-2.7-2.7-0.4 1.1-10.8-3.5zM270.1 148.9l15.5 1.9-0.2 1.2 3.6-1.2-3.1-2.1-0.2 1.2-15.5-2zM279.4 148.9l19.5 0.6-0.1 1.2 3.5-1.6-3.4-1.8 0 1.2-19.4-0.6zM288.7 148.9l13.7 2.1-0.2 1.2 3.6-1.2-3.1-2.2-0.2 1.2-13.7-2.1zM297.9 148.9l12.8 4.6-0.4 1.1 3.8-0.5-2.6-2.7-0.4 1.1-12.9-4.5zM307.2 148.9l18.2 7.2-0.4 1.1 3.8-0.3-2.6-2.8-0.4 1.1-18.2-7.2zM316.6 148.9l16.2 3.6-0.3 1.1 3.7-0.9-3-2.4-0.2 1.2-16.2-3.6zM326 148.9l12 0.6-0.1 1.2 3.5-1.5-3.3-1.9-0.1 1.2-12-0.6zM27.9 158.2l10.6 1.8-0.2 1.2 3.7-1.1-3.1-2.2-0.2 1.2-10.6-1.8zM37.3 158.2l16.9 0.6 0 1.2 3.4-1.6-3.3-1.8-0.1 1.2-16.9-0.5zM46.6 158.2l17.6 1.9-0.1 1.2 3.5-1.3-3.2-2.1-0.1 1.2-17.6-1.8zM55.8 158.2l10.1 3.2-0.4 1.1 3.8-0.6-2.8-2.6-0.3 1.1-10.1-3.1zM65.1 158.2l12.4 5.1-0.5 1.1 3.8-0.3-2.5-2.9-0.5 1.2-12.4-5.1zM74.4 158.2l18.4 5-0.3 1.1 3.7-0.7-2.9-2.6-0.3 1.2-18.3-4.9zM83.8 158.2l13.3 1-0.1 1.2 3.6-1.4-3.3-2-0.1 1.2-13.3-0.9zM93.2 158.2l11.3 0.6 0 1.2 3.5-1.6-3.4-1.8 0 1.2-11.4-0.5zM102.4 158.2l18.5 4-0.3 1.2 3.7-1-3-2.4-0.2 1.2-18.5-3.9zM111.6 158.2l16.5 6.5-0.5 1.1 3.8-0.3-2.5-2.9-0.4 1.2-16.5-6.5zM121 158.2l11.3 4.1-0.4 1.1 3.7-0.5-2.6-2.7-0.4 1.1-11.3-4zM130.4 158.2l17.4 2.7-0.2 1.2 3.6-1.1-3.1-2.2-0.2 1.1-17.4-2.6zM139.7 158.2l21.5 0.7 0 1.2 3.4-1.6-3.3-1.8 0 1.2-21.5-0.6zM149 158.2l15 1.8-0.2 1.2 3.6-1.3-3.2-2-0.1 1.1-15-1.7zM158.2 158.2l15.2 5-0.4 1.1 3.8-0.6-2.7-2.6-0.4 1.1-15.2-4.9zM167.5 158.2l21.3 8.7-0.4 1.1 3.8-0.3-2.6-2.9-0.4 1.1-21.3-8.6zM176.9 158.2l18.5 4.7-0.3 1.2 3.8-0.8-2.9-2.5-0.3 1.2-18.6-4.7zM186.3 158.2l14.8 1 0 1.2 3.5-1.5-3.3-1.9-0.1 1.2-14.9-0.9zM195.6 158.2l21.5 1.2-0.1 1.2 3.5-1.5-3.3-1.9 0 1.2-21.5-1.1zM204.8 158.2l21.7 5-0.2 1.2 3.7-0.9-3-2.4-0.2 1.2-21.8-5zM214.1 158.2l14 5.6-0.4 1.1 3.7-0.3-2.5-2.8-0.4 1.1-14.1-5.6zM223.4 158.2l16.9 5.9-0.4 1.1 3.8-0.5-2.6-2.7-0.4 1.1-17-5.8zM232.8 158.2l22.7 3.2-0.2 1.2 3.6-1.2-3.1-2.2-0.2 1.2-22.7-3.1zM242.2 158.2l16.4 0.5 0 1.2 3.4-1.6-3.3-1.8-0.1 1.2-16.4-0.4zM251.4 158.2l13.9 1.9-0.2 1.2 3.6-1.3-3.2-2.1-0.1 1.2-13.8-1.8zM260.7 158.2l19.4 6.6-0.4 1.2 3.8-0.6-2.7-2.7-0.4 1.2-19.4-6.6zM269.9 158.2l16.8 6.8-0.4 1.1 3.8-0.3-2.5-2.9-0.5 1.1-16.8-6.7zM279.3 158.2l11.2 2.7-0.2 1.2 3.7-0.9-2.9-2.4-0.3 1.1-11.2-2.6zM288.7 158.2l16.3 1-0.1 1.2 3.5-1.5-3.3-1.9 0 1.2-16.3-0.9zM298 158.2l19.1 1.2-0.1 1.2 3.5-1.5-3.3-1.9-0.1 1.2-19-1.1zM307.3 158.2l11.4 2.8-0.3 1.2 3.7-0.8-2.9-2.5-0.3 1.2-11.4-2.8zM316.5 158.2l11.3 4.6-0.4 1.1 3.8-0.3-2.5-2.8-0.5 1.1-11.3-4.6zM325.8 158.2l17.8 5.9-0.4 1.2 3.8-0.6-2.7-2.7-0.4 1.2-17.7-5.9zM27.8 167.5l13.2 5.4-0.5 1.1 3.8-0.3-2.5-2.8-0.5 1.1-13.1-5.4zM37.2 167.5l10.7 3.1-0.3 1.2 3.7-0.7-2.8-2.6-0.3 1.2-10.7-3.1zM46.6 167.6l8.8 0.7-0.1 1.2 3.6-1.4-3.3-2-0.1 1.2-8.8-0.7zM55.9 167.6l14 0.5 0 1.2 3.4-1.6-3.3-1.8-0.1 1.2-13.9-0.5zM65.2 167.6l13.9 2.7-0.2 1.2 3.6-1.1-3-2.3-0.2 1.2-14-2.7zM74.4 167.5l8.9 3.5-0.4 1.1 3.8-0.4-2.6-2.8-0.4 1.1-9-3.4zM83.7 167.5l11.5 4.3-0.4 1.1 3.8-0.4-2.6-2.8-0.4 1.2-11.6-4.3zM93.1 167.6l15.4 2.6-0.2 1.2 3.7-1.1-3.1-2.3-0.2 1.2-15.4-2.6zM102.5 167.6l11 0.3 0 1.2 3.4-1.6-3.3-1.8 0 1.2-11.1-0.3zM111.8 167.6l10 1-0.2 1.2 3.6-1.3-3.2-2.1-0.1 1.2-10-1zM121 167.5l14.1 4.4-0.3 1.2 3.7-0.7-2.7-2.6-0.4 1.2-14.1-4.4zM130.2 167.5l11.7 4.8-0.4 1.1 3.8-0.3-2.5-2.8-0.5 1.1-11.7-4.8zM139.6 167.5l8.1 2.2-0.3 1.2 3.7-0.8-2.8-2.5-0.3 1.2-8.1-2.2zM149 167.6l12.1 0.9-0.1 1.2 3.5-1.5-3.3-1.9-0.1 1.2-12-0.9zM158.4 167.6l13.3 0.6 0 1.2 3.5-1.6-3.4-1.8 0 1.2-13.4-0.6zM167.6 167.6l7.9 1.6-0.3 1.2 3.7-1-3-2.3-0.2 1.1-7.9-1.6zM176.8 167.5l8.2 3.2-0.5 1.1 3.8-0.3-2.5-2.8-0.5 1.1-8.1-3.2zM186.1 167.5l12.2 4.4-0.5 1.1 3.8-0.4-2.6-2.8-0.4 1.1-12.1-4.3zM195.5 167.6l9.1 1.4-0.2 1.2 3.6-1.2-3.1-2.2-0.2 1.2-9-1.4zM204.9 167.6l6.4 0.2 0 1.2 3.5-1.6-3.4-1.8 0 1.2-6.4-0.2zM214.2 167.6l11.1 1.3-0.1 1.2 3.5-1.3-3.2-2.1-0.1 1.2-11.1-1.3zM223.4 167.5l10.4 3.4-0.3 1.1 3.7-0.5-2.7-2.7-0.4 1.2-10.4-3.4zM232.7 167.5l5.8 2.4-0.5 1.1 3.8-0.3-2.5-2.9-0.5 1.1-5.7-2.3zM242.1 167.5l8.8 2.3-0.3 1.2 3.7-0.8-2.8-2.5-0.3 1.1-8.9-2.2zM251.5 167.6l12.5 0.8-0.1 1.2 3.5-1.5-3.3-1.9 0 1.2-12.6-0.8zM260.8 167.6l8.2 0.4-0.1 1.2 3.5-1.5-3.3-1.9 0 1.2-8.3-0.4zM270 167.6l7.7 1.7-0.3 1.2 3.7-0.9-2.9-2.5-0.3 1.2-7.7-1.7zM279.3 167.5l12.2 4.9-0.5 1.1 3.8-0.3-2.5-2.9-0.5 1.2-12.2-4.9zM288.6 167.5l10.8 3.8-0.4 1.1 3.8-0.5-2.7-2.7-0.4 1.1-10.8-3.7zM298 167.6l7.9 1.1-0.2 1.2 3.7-1.2-3.2-2.2-0.1 1.2-8-1.1zM307.4 167.6l12.5 0.3-0.1 1.2 3.5-1.6-3.4-1.8 0 1.2-12.5-0.3zM316.6 167.6l14.3 1.8-0.2 1.2 3.6-1.2-3.1-2.2-0.2 1.2-14.2-1.8zM325.8 167.5l9.2 3.1-0.4 1.2 3.8-0.6-2.7-2.7-0.4 1.2-9.1-3.1zM27.9 176.9l1.9 0.3-0.2 1.2 3.6-1.1-3-2.3-0.2 1.2-1.9-0.3zM37.1 176.8l2.4 0.9-0.5 1.1 3.8-0.4-2.6-2.8-0.4 1.2-2.3-0.9zM46.4 176.8l3.9 1.5-0.5 1.1 3.8-0.4-2.6-2.8-0.4 1.2-3.8-1.5zM55.8 176.9l2.3 0.4-0.3 1.2 3.7-1.1-3-2.3-0.3 1.2-2.2-0.4zM65.2 176.9l1.3 0-0.1 1.2 3.5-1.5-3.3-1.9-0.1 1.2-1.2 0zM74.5 176.9l3.3 0.3-0.2 1.2 3.6-1.4-3.3-2-0.1 1.2-3.2-0.3zM83.7 176.9l2.7 0.7-0.3 1.2 3.7-0.7-2.8-2.6-0.3 1.2-2.7-0.8zM93 176.8l0.7 0.3-0.5 1.1 3.8-0.2-2.5-2.9-0.4 1.1-0.7-0.3zM102.4 176.9l2 0.5-0.4 1.2 3.8-0.7-2.8-2.6-0.4 1.2-2-0.6zM111.8 176.9l3.2 0.3-0.1 1.2 3.5-1.4-3.2-2-0.1 1.2-3.2-0.3zM121.1 176.9l1.2 0-0.1 1.2 3.5-1.5-3.3-1.9-0.1 1.2-1.2 0zM130.3 176.9l1.2 0.2-0.2 1.2 3.6-1.1-3-2.3-0.2 1.2-1.2-0.2zM139.6 176.8l3.1 1.2-0.5 1.1 3.8-0.3-2.5-2.8-0.5 1.1-3.1-1.2zM148.9 176.8l2.2 0.8-0.5 1.2 3.8-0.4-2.6-2.8-0.4 1.1-2.2-0.8zM158.3 176.9l0.9 0.1-0.2 1.2 3.7-1.1-3.1-2.2-0.2 1.1-0.9-0.1zM167.7 176.9l3 0.1-0.1 1.2 3.5-1.6-3.3-1.8-0.1 1.2-3-0.1zM176.9 176.9l3.6 0.3-0.1 1.2 3.5-1.3-3.2-2.1-0.1 1.2-3.5-0.3zM186.2 176.9l1.5 0.4-0.4 1.2 3.8-0.7-2.8-2.6-0.3 1.2-1.5-0.5zM195.4 176.8l2.4 1-0.5 1.1 3.8-0.3-2.5-2.8-0.5 1.1-2.3-1zM204.8 176.9l4.2 1.1-0.3 1.2 3.7-0.8-2.8-2.5-0.3 1.2-4.2-1.2zM214.2 176.9l2.8 0.2-0.1 1.2 3.5-1.4-3.2-2-0.1 1.2-2.8-0.2zM223.5 176.9l2.2 0.1-0.1 1.2 3.5-1.6-3.3-1.8-0.1 1.2-2.1-0.1zM232.8 176.9l4.2 0.9-0.2 1.1 3.7-0.9-3-2.4-0.3 1.2-4.2-0.9zM242 176.8l3.7 1.5-0.4 1.1 3.8-0.3-2.6-2.9-0.4 1.2-3.7-1.5zM251.3 176.8l2 0.8-0.4 1.1 3.8-0.5-2.6-2.7-0.4 1.1-2-0.7zM260.7 176.9l3.5 0.5-0.2 1.2 3.7-1.1-3.1-2.2-0.2 1.1-3.5-0.5zM270.1 176.9l4.6 0.1 0 1.2 3.4-1.6-3.3-1.8-0.1 1.2-4.6-0.1zM279.4 176.9l2.4 0.3-0.1 1.1 3.6-1.3-3.2-2-0.2 1.2-2.4-0.3zM288.6 176.9l2.3 0.7-0.4 1.1 3.7-0.6-2.7-2.6-0.3 1.1-2.3-0.7zM297.9 176.8l4 1.7-0.5 1.1 3.8-0.3-2.5-2.9-0.5 1.1-3.9-1.6zM307.2 176.9l2.9 0.7-0.3 1.2 3.8-0.8-2.9-2.5-0.3 1.1-2.9-0.7zM316.7 176.9l1.4 0.1-0.1 1.2 3.5-1.5-3.3-1.9-0.1 1.2-1.4-0.1zM326 176.9l3.2 0.1-0.1 1.2 3.5-1.5-3.3-1.9-0.1 1.2-3.2-0.1z" fill="#008000"/>
</g>
<rect x="28.0" y="46.0" width="298" height="139.69" fill="none" stroke="#222" stroke-width="1"/>
<line x1="25.5" y1="55.3" x2="28.0" y2="55.3" stroke="#222" stroke-width="0.8"/>
<text x="24.8" y="59.7" font-family='"Liberation Serif", serif' font-size="13" text-anchor="end" fill="#000">0°</text>
<line x1="25.5" y1="92.6" x2="28.0" y2="92.6" stroke="#222" stroke-width="0.8"/>
<text x="24.8" y="97.0" font-family='"Liberation Serif", serif' font-size="13" text-anchor="end" fill="#000">20°S</text>
<line x1="25.5" y1="129.8" x2="28.0" y2="129.8" stroke="#222" stroke-width="0.8"/>
<text x="24.8" y="134.2" font-family='"Liberation Serif", serif' font-size="13" text-anchor="end" fill="#000">40°S</text>
<line x1="25.5" y1="167.1" x2="28.0" y2="167.1" stroke="#222" stroke-width="0.8"/>
<text x="24.8" y="171.5" font-family='"Liberation Serif", serif' font-size="13" text-anchor="end" fill="#000">60°S</text>
<line x1="65.2" y1="185.7" x2="65.2" y2="188.2" stroke="#222" stroke-width="0.8"/>
<text x="65.2" y="197.7" font-family='"Liberation Serif", serif' font-size="13" text-anchor="middle" fill="#000">20°E</text>
<line x1="139.8" y1="185.7" x2="139.8" y2="188.2" stroke="#222" stroke-width="0.8"/>
<text x="139.8" y="197.7" font-family='"Liberation Serif", serif' font-size="13" text-anchor="middle" fill="#000">60°E</text>
<line x1="214.2" y1="185.7" x2="214.2" y2="188.2" stroke="#222" stroke-width="0.8"/>
<text x="214.2" y="197.7" font-family='"Liberation Serif", serif' font-size="13" text-anchor="middle" fill="#000">100°E</text>
<line x1="288.8" y1="185.7" x2="288.8" y2="188.2" stroke="#222" stroke-width="0.8"/>
<text x="288.8" y="197.7" font-family='"Liberation Serif", serif' font-size="13" text-anchor="middle" fill="#000">140°E</text>
<text transform="translate(361.9,39.6) scale(1.12,1)" font-family='"Liberation Sans", sans-serif' font-weight="bold" font-size="20.2" fill="#000" stroke="#000" stroke-width="0.5">B</text>
<text x="385.8" y="40.8" font-family='"Liberation Serif", serif' font-size="14.85" fill="#000">SST (DJF)</text>
<clipPath id="clipB"><rect x="385.5" y="46.0" width="298" height="139.7"/></clipPath>
<g clip-path="url(#clipB)">
<rect x="385.5" y="46.0" width="298" height="139.69" fill="#f9ebe3"/><path d="M381.8 151.2l0 0.6 44.7-0.6 11.1-1 11.2 0 28-1.3 13-1.9 7.4-0.4 74.6-2.3 18.6 0.5 14.9-0.2 14.9-1 26 3.7 41 1.4 0-24.8-5.6 1-4.6 0-4.3-0.7-8.8-2.5-3.7-0.4-14 2.5-14.8 1.4-6.6-0.1-7.4-0.6-9.2-2.1-4-1.9-0.9-0.9 0-1 2.1-1.8 7.3-3.8 1.8-1.8 0-1.9-2.4-7.4-0.5-2.8 0.3-2.8 2.6-6.5-0.2-1.9-0.7-0.9-2.8-1.9-2.3-0.9-7.2-1.9-16.5-2.5-15.8-3.1-3.8-0.2-2.8 0.6-1.8 1.1-1 1.3 0 1.9 2 2.8 10.2 7.4 1.9 2.8 1.1 3.8-0.2 4.6-1.4 7.5-1.4 2.7-1.9 1.3-4.7 1.2-5.6 0.4-15.8-0.7-27.9-0.1-26.1 1.7-29.8 3.3-11.2-0.8-11.2-0.1-14.8-2.1-11.2-1.1-3.8 0.1-9.3 1.8-5.5 0.6-5.6-0.1-5.6-0.8 0 33.6zM657.2 105.6l2.1 0.5 2.8-1.2 6.5-5.3 8.4-7.8 2.8-2 3.7-1.7 3.7-0.4 0-45.4-81.1 0 1.5 7.4 1.6 3.7 1.5 1.9 3.2 1.9 13.9 3.7 3.7 1.9 1.9 1.8 2 4.7 5.6 6.5 0.6 1.9 0.1 4.6 1.1 2.8 4.4 6 6.5 10.7 1.9 2.4 1.6 1.4zM405.4 101.9l1.5 0.9 1.9-0.4 1.7-2.4 0.9-2.8 0.8-4.6-0.1-3.8-0.9-3.7-1.5-2.3-2.8-2-3.7-0.4-8.4 1.5-4.7 2.3-0.9 0.9-0.8 1.9 0.7 1.8 2.9 1.9 6.5 2.6 1.9 1.8 3.7 5.5 1.3 1.3zM508.4 48.8l9.3 0.4 9.3-1.3 3-1 3.1-1.8 0.8-1 0.2-1.8-37.2 0 0.3 1.8 2 1.9 3.6 1.6 5.6 1.2z" fill="#e7f0f4"/><path d="M664.1 145.6l23.1 0.4 0-20.3-8.4 0.6-14.9-1.2-26 1.5-6.5 0.7-11.2 0-21.4-5.1-2.4-1.7-0.3-1.9 2.1-5.6 0.7-2.7 0.5-4.7 0.2-9.3 2.7-6.5-0.1-1.9-1.4-1.9-3.4-1.8-3.3-1-4.7-0.7-11.1-0.4-2.8 0.7-0.8 0.4-0.4 1 0.4 1.8 5.2 7.5 1.7 3.7 0.9 11.2 3.1 7.4-0.1 1-1.6 0.7-19.6 1.2-20.5-1-27.9 0.1-26.1 2-29.8 3.8-11.2-1-11.2 0.5-11.1-1.7-18.7-1.9-15.8 1-10.2-0.4 0 24.1 44.7 0.2 11.1-1.6 11.2 0.7 11.2-0.7 16.8 0.6 13-2.1 54 0.3 28-0.6 19.5 0.4 14-0.4 8.4-1.4 6.5-1.6 18.6 5 7.4 1.6 17.9 1zM404.9 98.2l1.1 0.6 0.9 0 0.9-0.7 1.3-2.7 0.4-3.8-0.4-2.8-1.3-2.5-1.8-1.4-1.9-0.2-2.8 1.3-0.8 1-0.2 1.8 2.2 5.6 2.4 3.8zM666.5 80.5l2.1 0.6 1.4-0.6 1.2-1.9 0.3-1.9-0.2-1.8-2.1-6.5-0.2-1.9 0.3-2.8 2.4-8.4 0.1-4.6-1.1-3.8-2.7-3.7-1-0.9-39.9 0-2.1 2.8-1 3.7 0.7 3.7 2.2 2.8 4.4 2.8 12.2 5.9 13 4.2 2.8 1.4 2.6 2.5 2.9 6.5 1.7 1.9z" fill="#c2ddec"/><path d="M659.7 143.8l5.2 0.3 22.3 0.1 0-17-7.4 0.2-14.9-0.7-23.3 1.7-4.2 0.5-3.3 0.8-1.7 1-0.7 1-0.3 2.8 0.6 1.8 1.9 1.9 3.7 1.9 8.6 2.6 13.5 1.1zM381.8 141l0 0.5 44.7 0.2 11.1-2.4 11.2 1.3 11.2-1.4 16.8 1.4 13-2.4 54 0.7 28-0.7 18.6 0.5 14.9-0.4 4.6-1.2 4-1.7 1.8-1.9 0.1-1.8-0.7-1.9-3.1-1.8-6.7-2.2-6.5-0.9-6.6-1.9-4.6-0.2-10.3-1.2-17.7-0.5-15.8-1.2-27.9 0.3-4 0.3-35.1 3.1-16.8 3.3-11.2-1.7-11.2 1.2-11.1-2.5-18.7-2-15.8 0.5-10.2-0.2 0 18.8zM591.3 114.9l0.9 0.5 1-0.1 1.8-2.3 1.1-3.7 0.4-4.6-1.5-15.9-1.7-1.8-2-0.5-2.1 0.5-1.3 0.9-0.3 0.9 1.3 5.6-0.6 9.3 0.4 4.7 0.9 3.7 1.7 2.8zM405.1 93.5l0.9 0.6 0.7-1.5-0.7-2.4-0.9 0-0.3 0.5 0.3 2.8zM644.9 58.1l4.1 0.2 3.8-0.4 3.7-1.2 2.8-1.7 2.2-2.5 0.8-2.8-0.5-2.8-1.3-1.8-3.7-2.8-20.3 0-2.4 1.6-1.7 2.1-0.7 1.9 0.3 2.8 1 1.8 1.9 1.9 3 1.7 3.7 1.3 3.3 0.7z" fill="#8ac0db"/><path d="M670.3 142.9l16.9-0.4 0-13.8-22.3-0.6-8.4 0.7-14.1 1.9-2.2 1-1.3 1.8 0 1.9 0.9 1.9 2.6 1.8 3.8 1.6 14 1.7 10.1 0.5zM386.2 139.1l21.6 0.3 18.7-0.5 4.6-1.6 1.6-1 1.5-1.8 0-1.9-0.4-1.9-1.9-1.8-5.4-2.2-18.7-2.5-26 0.4 0 14.5 4.4 0zM474.2 137.3l2.6 0.3 13-3.6 19.6 1.5 34.4 0.8 28-1.6 11.1 0.2 13.2-0.4 9.2-0.8 0.5-2-0.5-1.9-6.5-1.2-5.6-1.5-2.8-0.1-12.1-1.8-14.9-0.8-19.6-2-27.9 0.6-16.9 2.2-9.2 1.8-5.6-0.5-7.4 0.1-4.5 1.4-2.1 0.9-2.6 1.8-1 2.8 0.3 1 1.1 0.9 6.2 1.9zM446.6 136.3l2.2 0.7 3.7-1.6 0.8-0.9 0.2-1-0.5-1.8-0.6-1-3.6-1.8-4 1.8-1 1.9 0.1 1.9 0.9 0.9 1.8 0.9zM591.7 108.4l0.5 0.9 1-0.2 0.9-3.5-0.4-3.7-0.5-1.4-1-0.3-0.9 1.9-0.2 1.6 0 2.8 0.6 1.9zM642.2 52.5l4 0.9 4.7-0.6 1.9-0.9 1.3-1.2 0.5-1 0-1.8-1.5-1.9-3.1-1.5-3.8-0.5-3.7 0.7-2.8 1.7-0.9 1.5-0.1 0.9 0.8 1.9 2.7 1.8z" fill="#4997c5"/><path d="M661.1 141l3.8 0.4 11.1 0.2 11.2-0.9 0-10.3-11.2-0.8-12.1-0.1-9 1.2-4.1 1-2.5 0.9-1.4 0.9-0.5 1 0 1.8 0.5 1 1.3 0.9 5.5 1.6 7.4 1.2zM388.6 135.4l19.2 0.4 6.9-1.3 1.5-1 0.2-0.9-0.8-1.9-1.5-0.9-6.3-1.9-26 0.5 0 6.8 6.8 0.2z" fill="#2870b1"/><path d="M675.7 140.1l6.2-1 3-0.9 1.5-0.9 0.5-1-0.2-1.8-0.8-1-2.1-0.9-4.1-0.9-3.7-0.6-6.5 0-4.6 0-2.9 0.6-3 0.9-1.6 0.9-0.7 1 0 1.8 0.7 1 1.5 0.9 3 0.9 3 0.6 10.8 0.4z" fill="#10457e"/><path d="M613.6 175.4l28.9 0.9 18.7 0 13-1.2 13-0.6 0-22.3-13-0.6-13-1.1-18.7-0.1-24.2-1.2-46.5-1.2-46.6 3.2-28 2.3-37.2 5.4-57.7 2-9.3 1.1-6.4 1.3-4 1.9-0.8 1.8 0.1 1 0.7 0.9 4.1 1.9 7.2 1.4 10.2 1.2 93.1-0.3 54.1 0.5 20.5-0.5 41.8 2.3zM677.1 123.3l5.5-0.1 2.8-0.8 1.8-1 0-26.5-1.8-0.9-1.9-0.2-1.9 0.4-3.7 2.4-6 7.1-2.6 5.6-0.4 4.7 1.1 4.6 2.3 2.8 1.9 1.1 2.9 0.8zM618.1 122.4l5.8 0.5 7.5-0.3 3.8-1.2 0.3-0.9-1.5-0.9-1.7-0.5-6.5-0.9-6.6 0.2-5 1.2-0.4 0.9 1.2 0.9 3.1 1zM385.4 115.8l5.7 0.8 5.6-0.7 4.5-1.9 2.8-2.8 0.8-2.8-0.8-3.7-3.6-6.4-2.8-2.5-3.7-1.3-4.7-0.7-3.7 0.1-3.7 1.2 0 19.2 3.6 1.5zM460.1 112.1l4.6 0.4 13.9-2 14.9-1.2 22.4 0.4 33.5 1.7 6.5-0.2 4.7-1.2 3.7-2.5 2.5-3.8 1.1-3.7-0.5-3.7-1.1-1.9-2-2-9.3-6-2.9-2.2-2.3-2.8-0.9-1.9-0.3-1.8 0.2-1.9 0.8-1.9 2.6-2.9 4.6-2.9 4.7-1.7 1.9-0.1 1.8 0.7 6.7 6 5.3 2.8 6.7 2.1 7.4 1.4 15.8 1.5 9.3-0.1 5.6-0.9 3.6-1.2 2.4-1.9 0.5-1.8-2.8-4.7-0.2-0.9 0.6-3.7-1.3-1.5-1.8-0.8-2.8-0.6-3.8 0.1-7.4 1.9-4.7 0.5-6.5-0.3-2.8-0.9-1.1-1.2-3.3-7.5-3.3-4.6-5.3-5-3.7-1.6-1.9 0.5-0.8 1.4 0 6.5-1 1.9-4 2.8-4.4 3.8-2.8 1.5-23.3-1.1-35.4 0.5-35.4 1.7-12.1 2.2-13 3.7-4.7 1.9-4.5 2.5-2.9 2.5-1.8 2.2-1.1 2.8-0.2 2.8 0.5 2.8 1.3 2.8 4.1 4.6 18.6 14.4 3.7 2.3 2.9 1zM381.8 77.7l4.6 0.5 5.6-0.7 7.5-1.9 5.3-2.6 1.6-1.9 0.6-2.7-0.9-3.8-2.2-3.7-2.6-2.7-2.7-2-2.9-1.2-2.7-0.6-2.8-0.1-2.8 0.5-2.8 1-2.8 1.7 0 20.2z" fill="#fbccb4"/><path d="M633.5 173.6l27.7 0.3 26-2.1 0-17-26-2-18.7-0.1-24.2-0.8-46.5-0.7-43.9 3.8-30.7 3.1-13.2 2.4-7.5 1.9-2.5 0.9-1.5 1-0.3 0.9 0.4 0.9 2.4 1 10.1 1 50.3 1.7 36.4 0.1 30.7 2.1 31 1.6zM678.6 121.4l2.4 0 2.5-0.7 1.9-1.3 1.8-2.4 0-16.5-1.1-1.4-1.7-1.1-2.8 0.1-1.8 1-1.9 1.5-3.8 5-1.9 4.7-0.2 3.7 1.1 3.7 2 2.3 3.5 1.4zM387.1 114l4 0.6 3.7-0.5 3.7-1.7 2.1-2.1 1.1-2.8-0.2-2.8-1.6-3.8-2.3-2.5-1.9-1-2.7-0.8-4.7-0.1-3.7 1.2-2.8 2.5 0 10.1 1.8 1.9 3.5 1.8zM459 106.5l3.8 0.9 3.7-0.7 8-3.9 3.2-2.8 0.4-0.9 0-1.9-5.1-6.5-0.9-2.8-0.4-2.8 0.4-0.9 0.9-0.6 5.6-1.6 2.2-1.5 0.8-1.9-0.3-1.9-1.5-1.8-1.2-0.9-1.8-0.8-2.8-0.5-4.7 0.7-2.6 1.5-3 2.8-5.6 3.4-2.5 3.1-1.3 2.8-1 3.7-0.4 3.7 0.1 3.8 0.8 2.7 1 1.9 1.6 1.9 2.6 1.8zM537 102.8l9.6 0.4 3.7-0.4 2.8-0.7 2.2-1.2 1.5-1.7 0.4-1-0.3-1.9-1.3-1.9-2.2-1.8-16.1-11.3-4.7-2.5-4.6-1.4-4.7-0.6-5.6-0.2-11.1 1.1-4.7 1-4.6 1.8-2.8 1.8-1.4 1.9-0.2 1.8 1.7 2.8 3.9 2.8 5.8 2.8 7.5 2.8 8.7 2.6 8.4 1.8 8.1 1.2zM595.8 78.6l9.5 0.3 7.4-0.6 4.9-1.6 1.3-0.9 0.5-0.9-0.1-1-0.6-0.9-2.3-1.9-2.7-1.3-2.8-0.8-8.4-1.2-11.2-1.2-5.7-0.1-0.4-0.9 0.5-0.9 2.8-1 0.9-0.9 0.4-1 0.1-1.8-0.7-2.8-2.1-3.8-3.2-3.5-2.8-1.8-1-0.1-0.9 0.4-0.6 1.3 0.1 6.5-0.5 1-3.1 2.8-1.5 2.8 0 2.8 1.2 2.8 3 4.6 3.3 2.2 6.5 2.2 8.2 1.2zM389.6 68.4l1.5 0.5 1.5-0.5 0.6-1-0.2-1.1-1-0.9-1.8 0.1-1 1-0.1 0.9 0.5 1z" fill="#f19e7d"/><path d="M635.8 171.7l6.7 0.4 18.7 0 26-2.8 0-11.9-26-2.8-42.9-0.4-46.5 0.3-28.8 4.2-3.7 0.9-2.2 0.9-0.9 1 0 0.9 0.8 0.9 2.6 1 5.7 0.9 11.6 0.9 14.9 0.5 32.5 3 31.5 2.1zM678 118.6l2.7 0.4 1.9-0.7 1.8-1.5 1.6-2.8 0.7-3.7-0.2-3.8-1.1-3.1-1.9-1.6-1.9-0.1-2.8 1.7-2.6 3.1-1.3 2.8-0.5 2.8 0.3 2.8 1.3 2.3 2 1.4zM388.1 112.1l3 0.5 2.8-0.4 2.3-1 2-1.9 0.9-1.8 0.2-2.8-1.2-2.8-1.9-1.9-3.2-1.3-3.8-0.1-2.8 0.9-2.6 2.4-1 2.8 0.3 2.8 1.8 2.8 3.2 1.8zM459.5 103.7l3.3 0.9 2.8-0.7 3-2 1.5-2.8-0.3-3.7-2.4-6.6-1.8-2.8-2.8-1.5-2.8 0.6-1.9 1.7-1.5 3-0.7 2.8-0.3 3.7 0.5 2.8 1.4 2.8 2 1.8zM598.5 77.7l5.8-0.2 4.6-0.8 2.5-0.9 1.1-0.9 0.3-1-1.6-1.8-4.1-1.8-4.6-1-6.5-0.6-4.7 0-5.6 1-2.8 1.1-0.9 1.3 1 1.8 3.4 1.9 4.9 1.2 7.2 0.7zM583.5 60l1.3 0.4 1.8-0.2 0.8-1.2 0-0.9-0.5-1.9-1.2-2-1.8-2-1.9-0.8-1 1.1 0.3 2.8 0.7 2.9 1.5 1.8z" fill="#d86551"/><path d="M636.8 169.9l5.7 0.4 18.7 0 3.3-0.4 17.1-3 4.6-1.7 0.8-0.9 0.2-1-0.2-0.9-0.8-0.9-5-1.9-20-3.2-32.6 0.1-22.4 1-11.2 1.3-3 0.8-1.4 0.9-0.2 1 0.2 0.9 1.2 0.9 6.2 1.9 11.9 1.9 26.9 2.8zM679.7 115.8l1.9-0.4 1-0.7 1-1.7 0.5-1.8 0-1.9-0.4-1.8-1.1-1.4-1-0.2-1.8 0.6-1 0.9-1.2 1.9-0.6 1.9 0.4 2.8 0.6 0.9 1.7 0.9zM389.1 110.3l2 0.3 1.9-0.3 1.8-0.8 1.2-1.1 0.9-1.9 0-1.8-0.8-1.9-1.3-1.2-1.8-0.9-2.8-0.2-1.9 0.5-2.2 1.8-0.8 1.9 0.4 2.8 1.6 1.8 1.8 1zM461.2 101.9l2.5 0 1.8-1 1.3-1.8 0.4-1.9-0.4-2.8-1.4-3.7-1.7-2-1.8-0.6-1.6 0.7-1.2 1.4-1 2.4-0.4 2.8 0.7 3.7 1.3 1.8 1.5 1zM590.9 75.8l5.1 0.7 5.6-0.1 3.7-0.8 1.6-0.7 0.7-1-0.5-1-2.8-1.6-6.5-1.2-6.5 0.1-3.5 0.9-1.4 1-0.3 0.9 0.5 0.9 1.4 1 2.9 0.9z" fill="#bb2a34"/><path d="M641.2 168l20 0.1 7.7-2 1.7-0.9 0.8-0.9 0.2-1-0.2-0.9-0.8-0.9-1.7-1-7.7-2-18.7 0-9.3 0.7-8 1.3-1.6 1-0.4 0.9 0.1 0.9 0.9 1 2.1 0.9 8.3 1.9 6.6 0.9zM389.5 107.5l1.6 0.4 1.9-0.5 0.9-1.8-0.9-1.9-1.9-0.6-1.9 0.6-0.9 1.9 0.3 0.9 0.9 1zM460.9 98.2l1 0.7 0.9 0 0.9-0.6 0.6-1.1-0.2-2.8-1.3-1.9-0.9-0.2-1 0.6-0.7 1.5-0.1 1.9 0.8 1.9zM592.9 74.9l4 0.4 3.7-0.4 2-1-0.1-0.9-2.8-1.2-4.7-0.5-3.7 0.6-1.3 1.1 0.6 0.9 2.3 1z" fill="#840924"/>
<path d="M593.6 174.5l0.5 0.5 89.4 0 0.5-0.5 0-22.3-0.5-0.5-13 0-1-0.9-28.8 0-1-1-101.5 0-0.9 1-13 0-1 0.9-10.2 0-0.9 0.9-10.3 0-0.9 1-7.5 0-0.9 0.9-5.6 0-0.9 0.9-4.7 0-0.9 1-1.9 0-0.4 0.4 0 3.7-0.5 0.5-77.3 0-0.5 0.5 0 11.1 0.5 0.5 122.9 0 1 0.9 29.8 0 0.9-0.9 23.3 0 0.9 0.9 14 0 0.4 0.5zM385 142.9l0.5 0.4 51.2 0 1.4-1.4 0-18.6-0.5-0.5-3.7 0-0.9-0.9-47.5 0-0.5 0.5 0 20.5zM638.3 142.9l0.5 0.4 44.7 0 0.5-0.4 0-14.9-0.5-0.5-46.6 0-0.4 0.5 0 13.9 1.8 1zM465.1 141l0.5 0.5 106.2 0 0.4-0.5 0-2.8 0.5-0.5 45.6 0 0.5-0.4 0-10.3-0.5-0.4-2.8 0-0.9-1-41.9 0-0.9-1.8-106.2 0-0.5 0.4 0 16.8zM440.9 135.4l0.5 0.5 14.9 0 0.4-0.5 0-7.4-0.4-0.5-14.9 0-0.5 0.5 0 7.4zM673.7 122.4l0.5 0.4 9.3 0 0.5-0.4 0-20.5-0.5-0.5-9.3 0-0.5 0.5 0 20.5zM385 114.9l0.5 0.5 13 0 0.5-0.5 0-17.7-1.4-1.4-12.1 0-0.5 0.5 0 18.6zM450.2 105.6l0.5 0.5 16.7 0 0.5-0.5 0-22.4-0.5-0.4-16.7 0-0.5 0.4 0 22.4zM487.5 97.2l0.4 0.5 79.2 0 0.5-0.5 0-0.9-1-0.9 0-1-0.4-0.4-78.3 0-0.4 0.4 0 2.8zM463.3 81.4l0.4 0.5 13.1 0 0.4-0.5 0-7.5-0.4-0.4-13.1 0-0.4 0.4 0 7.5zM593.6 79.5l0.5 0.5 28.9 0 0.9-0.9 0.9 0 1-1 0.9 0 1.4-1.4 0-3.7-2.8-2.8 0-1.8 0.9-1 0-1.8-2.3-2.4-2.8 0-0.9-0.9-2.8 0-1 0.9-3.7 0-0.9 1-1.9 0-0.9 0.9-12.1 0-0.9-0.9-18.7 0-0.4 0.4 0 11.2 0.4 0.5 1.9 0 0.9 0.9 1.9 0 0.9 0.9 3.7 0 1 1 5.6 0 0.4 0.4zM578.7 60.9l0.5 0.5 11.2 0 0.4-0.5 0-5.6-1.8-1.9 0-0.9-5.1-5.1-4.7 0-0.5 0.5 0 13zM640.2 50.7l0.5 0.4 24.2 0 0.4-0.4 0-4.7-0.4-0.5-24.2 0-0.5 0.5 0 4.7z" fill="url(#dots)"/>
<path d="M433.9 175.6L456.3 175.3L460 173L515.9 173L525.2 174.1L534.5 174.5L540.1 172.3L571.8 172.3L577.3 173.2L618.3 173.4L664.9 174.1L674.2 175.4L689.1 176L689.1 191.3L379.9 191.3L379.9 179.2L404.1 178.8L413.4 177.3L419 176L426.5 177.3L433.9 175.6ZM477.2 77.1L477.3 77.1L477.3 77.1L477.4 77.1L477.4 77.1L477.5 77.1L477.5 77.2L477.6 77.2L477.6 77.2L477.7 77.2L477.7 77.3L477.8 77.3L477.8 77.4L477.8 77.4L478 77.7L478 77.7L478.1 77.5L478.2 77.4L479.1 76.5L479.2 76.4L479.4 76.3L479.5 76.2L479.7 76.1L479.8 76.1L480 76L480.2 76L480.3 76L480.5 76L480.7 76L480.8 76.1L481 76.1L481.1 76.2L481.3 76.3L481.4 76.4L481.5 76.5L481.6 76.6L481.7 76.8L481.8 76.9L482.9 79.1L483 79.3L483 79.5L483.6 81.7L484.1 83.3L484.2 83.4L484.2 83.6L484.2 83.8L484.2 84L484.2 84.1L484.1 84.3L484.1 84.5L484 84.6L483.2 86.1L482.7 87.8L482.1 89.7L482.1 89.7L480.6 94.5L480.6 94.7L479.4 97.5L478.5 99.8L477.8 102.2L477.8 102.3L477.7 102.5L477.6 102.6L477.5 102.7L477.4 102.9L477.3 103L477.2 103.1L477 103.2L476.9 103.2L476.7 103.3L475.2 103.8L473.8 104.5L473.6 104.6L473.5 104.6L473.3 104.6L473.2 104.7L473 104.7L472.8 104.7L472.7 104.6L472.5 104.6L472.4 104.5L470.7 103.8L470.5 103.7L470.4 103.6L470.3 103.5L470.3 103.5L470.3 103.5L470.2 103.5L470.2 103.5L470.1 103.5L470 103.6L470 103.5L469.9 103.5L469.9 103.5L469.8 103.5L468.2 102.8L468.1 102.7L468.1 102.7L468 102.7L466.9 101.7L466.9 101.7L466.8 101.7L466.8 101.6L466.8 101.6L466.7 101.5L466.7 101.5L466.2 99.4L466.2 99.4L465.6 96.8L465.6 96.7L465.6 96.7L465.6 96.6L465.6 96.6L465.6 96.5L466 95L466 95L466 94.9L466.8 93.4L466.8 93.4L467.5 92.4L467.6 90.8L467.1 89L467.1 89L467.1 88.9L466.9 87.4L466.9 87.4L466.9 87.3L466.9 87.3L466.9 87.2L466.9 87.2L466.9 87.1L467.7 85.4L467.7 85.4L467.7 85.3L467.8 85.3L467.8 85.3L467.9 85.2L467.9 85.2L467.9 85.2L469.4 84.4L469.5 84.4L469.5 84.4L469.6 84.4L470.3 84.2L470.4 84.2L471.9 83.4L472.1 83.4L472.2 83.3L472.4 83.3L472.4 83.3L472.5 83.2L473.7 82L474.2 80.5L474.2 80.4L474.2 80.4L474.3 80.3L474.3 80.3L474.3 80.2L474.4 80.2L474.4 80.2L474.5 80.1L475.4 79.7L475.9 78.4L475.9 78.3L475.9 78.3L476 78.2L476 78.2L476.9 77.3L477 77.2L477 77.2L477.1 77.2L477.1 77.1L477.2 77.1L477.2 77.1ZM381.4 48.6L381.2 48.5L381 48.5L380.8 48.4L380.6 48.3L380.4 48.1L380.2 48L380.1 47.8L379.9 47.6L379.9 47.6L379.9 40.4L458.2 40.4L476.5 41L476.7 41L476.9 41L477.1 41.1L477.3 41.2L477.5 41.3L477.7 41.4L477.8 41.5L478 41.7L478.1 41.8L478.3 42L478.4 42.2L478.5 42.4L478.5 42.6L478.6 42.8L478.6 43L478.6 43.2L478.6 43.4L478.6 43.7L478.5 43.9L478.5 44.1L477.5 46.3L477.4 46.5L477.3 46.7L475.8 48.9L475.7 49.1L474 51.1L473.9 51.3L473.8 51.4L471.9 53.1L471.7 53.2L471.6 53.3L469.5 54.6L467.9 55.8L466.4 57.7L464.7 59.7L464.6 59.9L464.4 60L464.3 60.1L463.2 60.9L462.3 62.1L461.4 63.8L461.3 64L460.8 64.8L460.5 65.9L460.3 66.9L460.8 67.8L460.9 68L461 68.2L461.1 68.5L461.1 68.7L461.1 68.9L461.1 69.1L461 70.7L461.2 72.1L462 73.7L462.1 73.9L462.8 75.7L462.9 75.9L462.9 76.1L463 76.4L463.2 78.6L463.2 78.6L463.3 81.2L463.4 81.4L463.4 83.2L463.3 83.5L463.3 83.7L463.3 83.8L463.2 84L463.1 84.2L463 84.4L461.9 86.3L461.8 86.5L461.6 86.6L461.5 86.8L461.3 86.9L460 87.9L459.9 87.9L458.3 89L458 89.2L456.5 89.9L454.5 91.9L454.3 92.1L454.2 92.2L452.7 93.2L453 94.1L453.6 95.8L453.6 96L453.7 96.3L453.8 98.3L453.9 98.5L453.8 98.7L453.8 98.9L453.4 101L453.4 101.2L453.3 101.4L453.2 101.6L453.1 101.8L453 102L452.8 102.2L452.6 102.3L452.4 102.5L452.2 102.6L449 104.2L449 104.2L448.9 104.5L448.4 106.7L448.4 106.7L447.8 108.8L447.7 109L447.6 109.2L447.5 109.4L447.4 109.6L447.2 109.8L446.2 110.8L445.1 112.3L443.8 114.2L443.7 114.4L443.5 114.6L443.4 114.8L443.2 114.9L441.6 115.9L440.1 117.3L440 117.4L438.3 118.7L438.1 118.8L438 118.9L435.9 120L435.7 120.1L435.5 120.2L435.3 120.3L435.1 120.3L433.8 120.5L432.7 120.8L432.5 120.8L432.3 120.9L430.4 121L430.2 121.1L429.9 121L427.9 120.8L426.8 121.2L426.6 121.3L426.4 121.4L424 121.9L422.5 122.3L422.3 122.3L422.1 122.4L421.9 122.4L421.6 122.3L421.4 122.3L421.2 122.2L421 122.1L418.8 121L418.6 120.9L418.4 120.8L418.2 120.6L418.1 120.5L417.9 120.3L417.8 120.1L417.7 119.9L417.6 119.7L417.6 119.5L417.5 119.2L417.5 119L417.5 117.3L417.2 115.3L415.8 112.9L415.7 112.7L414.3 109.8L412.3 107.4L412.2 107.2L412 107L411.9 106.8L411.8 106.6L411.1 104L411.1 103.8L410.3 100.5L410.3 100.3L410.3 100.2L410.1 98.1L408.5 95.1L408.4 95L406.9 91.6L406.9 91.6L405.8 89L405.7 88.8L405.7 88.6L405.3 87.1L405.3 87L405.2 86.8L405.2 86.6L405.3 86.4L405.3 86.2L406 82.4L406.1 82.2L406.8 79.8L406.9 79.6L407 79.4L407.1 79.2L408.7 76.8L408.9 75.4L408.1 72.3L407.4 70.2L406.3 67.5L406.3 67.4L405.7 65.6L404.4 63.7L402.8 61.8L402.6 61.6L401.2 59.4L400.1 58L400 57.8L399.9 57.6L399.8 57.4L399.7 57.1L399.7 56.9L399.7 56.7L399.7 56.5L399.7 56.3L399.7 56L399.8 55.8L399.9 55.6L400.8 53.9L401.3 52.5L401.6 51.3L401.5 50.4L400.5 49.4L400.2 49.1L398.9 49.3L398.8 49.3L397.3 49.5L397.1 49.5L396.9 49.5L396.7 49.5L396.5 49.5L396.3 49.4L396.1 49.3L395.9 49.2L395 48.7L394.8 48.5L394.6 48.4L394.5 48.3L394.3 48.1L394.2 47.9L394.1 47.8L394 47.6L393.5 46.3L393 45.9L391.3 45.7L388 46.6L382.5 48.5L382.3 48.6L382 48.6L381.8 48.6L381.6 48.6L381.4 48.6ZM612.2 73.5L612.2 73.7L612.2 73.9L612.1 74L612.1 74.2L612.1 74.3L612 74.5L611.9 74.6L611.8 74.8L611.3 75.5L611.2 75.6L611 75.7L610.9 75.9L610.8 75.9L610.6 76L610.5 76.1L610.3 76.1L610.2 76.2L610 76.2L609.8 76.2L609.7 76.2L609.5 76.1L606.7 75.4L606.5 75.3L606.4 75.3L606.2 75.2L606.1 75.1L606 75L605.9 74.8L605.8 74.7L605.7 74.6L605.6 74.4L605.5 74.3L605.5 74.1L605.5 73.9L605.5 73.8L605.5 73.4L605.4 73.4L603.7 73.7L603.6 73.7L603.4 73.8L603.2 73.7L603.1 73.7L602.9 73.7L602.8 73.6L602.6 73.6L602.5 73.6L602.3 73.6L602.2 73.5L601.2 73.3L601.1 73.3L600.9 73.2L600.8 73.2L600.7 73.3L600.5 73.3L600.4 73.4L600.2 73.4L600 73.4L599.9 73.4L599.7 73.3L599.5 73.3L599.4 73.2L599.2 73.2L599.1 73.1L599.1 73.1L598.9 73.2L598.8 73.2L598.6 73.2L598.5 73.2L598.3 73.2L593.9 72.4L590.2 72.1L590 72L587.3 71.5L583.5 70.7L583.3 70.7L583.2 70.6L581.1 69.7L581.1 69.7L580.7 69.5L580.5 69.4L580.4 69.3L580.3 69.2L580.2 69.1L580.1 69L580 68.8L579.9 68.7L579.9 68.5L579.8 68.4L579.8 68.2L579.8 68.1L579.8 67.9L579.8 67.9L579.7 67.8L579.5 67.8L579.4 67.7L579.2 67.6L577 65.7L575 64.1L574.8 63.9L574.7 63.8L573 61.5L572.9 61.3L571.1 58.2L569.2 56.1L569.1 55.9L569 55.8L568.9 55.6L567.8 53L566.4 52L566.3 51.8L563.9 49.4L563.7 49.3L563.6 49.1L561.6 45.8L561.5 45.6L561.4 45.5L561.4 45.3L561.3 45.1L561.3 45L561.3 44.8L561.3 44.6L561.4 44.5L561.4 44.3L561.5 44.2L561.6 44L561.7 43.9L561.8 43.7L561.9 43.6L562 43.5L562.2 43.4L562.3 43.4L562.5 43.3L562.6 43.2L562.8 43.2L563 43.2L563.1 43.2L563.3 43.2L567.4 44L567.5 44L567.7 44.1L567.8 44.1L568 44.2L568.1 44.3L568.2 44.4L568.3 44.5L568.4 44.6L569.8 46.6L571.6 48.2L570.9 46.2L570.9 46L570.8 45.8L570.6 43.3L570.6 43.2L570.6 43L570.7 42.8L570.7 42.7L570.8 42.5L570.9 42.3L571 42.2L571.1 42.1L571.2 41.9L571.3 41.8L572.6 40.9L572.8 40.8L572.9 40.7L573.1 40.7L573.2 40.6L573.4 40.6L573.6 40.6L573.7 40.6L573.9 40.6L574 40.7L574.2 40.7L574.3 40.8L574.5 40.8L576.9 42.3L577 42.4L577.1 42.5L577.3 42.6L577.4 42.7L579.4 45.3L579.5 45.5L579.6 45.6L579.6 45.7L579.7 45.9L579.7 46.1L579.8 46.2L579.8 46.4L579.8 48.7L581.1 52.1L581.2 52.2L581.2 52.4L581.2 52.6L581.2 52.7L581.2 52.9L581.2 53.1L581.2 53.2L581.1 53.4L581 53.5L580.9 53.7L580.8 53.8L580.7 53.9L580.6 54L580.4 54.1L580.3 54.2L580.1 54.3L580.2 54.3L580.2 54.4L581.5 56.5L581.6 56.6L581.7 56.8L582.3 58.6L583.9 59.7L584 59.8L584.2 60L584.3 60.1L584.4 60.2L584.4 60.4L584.8 60.2L589 59.6L588.9 59.1L587.8 57.7L587.7 57.5L587.6 57.4L587.5 57.2L587.5 57.1L586.9 55L586.9 54.9L586.8 54.7L586.8 54.6L586.8 52.5L586.8 52.4L586.9 52.2L586.9 52L587 51.9L587 51.7L587.1 51.6L587.2 51.5L587.3 51.3L587.4 51.2L588.6 50.3L588.7 50.2L588.8 50.1L589 50.1L591.9 48.7L592.2 48.7L594.9 47.9L596.3 46L596.4 45.8L596.5 45.7L596.6 45.6L596.8 45.5L596.9 45.4L599.4 44.3L601.7 41.2L601.8 41.1L601.9 41L602.1 40.9L602.2 40.8L602.3 40.7L602.5 40.7L602.7 40.6L602.8 40.6L603 40.6L603.1 40.6L603.3 40.6L603.5 40.7L603.6 40.7L603.8 40.8L603.9 40.8L604 40.9L608.5 44.3L608.6 44.4L608.8 44.5L608.9 44.6L609 44.8L609 44.9L609.1 45.1L609.1 45.3L609.2 45.4L609.2 45.6L609.2 45.8L609.2 45.9L609.1 46.1L609.1 46.2L609 46.4L608.9 46.5L608.8 46.7L608.7 46.8L608.6 46.9L608.4 47L606.6 48.3L606.3 48.9L606.6 51L608.1 52.1L608.2 52.2L608.4 52.3L608.4 52.4L610 51.5L610.1 51.4L610.3 51.3L610.4 51.3L610.6 51.2L610.7 51.2L610.9 51.2L611 51.2L611.2 51.2L614.4 51.9L617.3 50.8L617.5 50.7L617.6 50.7L617.8 50.7L617.9 50.7L618.1 50.7L618.2 50.7L618.4 50.7L618.5 50.8L618.7 50.8L619.4 51.2L619.6 51.3L619.7 51.4L619.8 51.5L620 51.6L620.1 51.7L620.1 51.9L620.2 52L620.3 52.2L620.3 52.3L620.3 52.5L620.4 52.7L620.4 52.8L620.3 53L620.3 53.2L620.2 53.3L620.2 53.5L620.1 53.6L620 53.8L618.5 55.6L618.4 55.7L618.3 55.9L618.1 56L618 56L617.8 56.1L617.7 56.2L617.5 56.2L617.3 56.2L616.7 56.3L616.7 56.3L616.7 56.5L616.8 56.7L616.8 56.8L616.8 57L616.8 57.1L616.8 57.3L616.8 57.5L616.7 57.6L616.6 57.8L616.5 57.9L616.4 58.1L616.3 58.2L616.2 58.3L616.1 58.4L614.4 59.5L614.8 60.5L616.4 63.2L616.5 63.3L616.5 63.5L616.6 63.7L616.6 63.8L616.6 64L616.6 64.2L616.6 64.3L616.6 64.5L616.5 64.6L616.5 64.8L616.4 64.9L616.3 65.1L615.2 66.6L615.1 66.7L615 66.8L614.8 66.9L614.7 67L614.5 67.1L614.4 67.1L614.2 67.2L614.1 67.2L613.9 67.2L613.7 67.2L613.6 67.2L613.4 67.2L613.2 67.1L613.1 67L612.9 67L612.8 66.9L611.4 65.8L611.4 65.9L611.4 66L611.3 66.2L611.2 66.3L611.1 66.5L611 66.6L610.9 66.7L610.8 66.8L610.7 66.9L610.5 67L610.4 67.1L610.2 67.2L610.1 67.2L609.9 67.2L608.3 67.4L608.1 67.4L607.9 67.4L607.8 67.4L607.6 67.4L607.2 69.3L607.4 69.3L607.5 69.3L607.7 69.4L607.8 69.4L608 69.5L608 69.5L608.1 69.5L608.2 69.4L608.4 69.3L608.5 69.3L608.7 69.3L608.9 69.3L609 69.3L611.7 69.6L613.9 69L614.1 68.9L614.3 68.9L614.4 68.9L614.6 68.9L614.7 68.9L614.9 69L615.1 69L615.2 69.1L615.3 69.2L615.5 69.3L615.6 69.4L615.7 69.5L615.8 69.6L615.9 69.8L615.9 69.9L616 70.1L616 70.2L616.1 70.4L616.1 70.6L616.1 70.7L616.1 70.9L616 71L616 71.2L615.9 71.3L615.8 71.5L615.7 71.6L615.6 71.7L615.5 71.8L615.4 71.9L614.1 72.9L613.9 73L613.8 73L613.6 73.1L613.5 73.1L613.3 73.2L613.2 73.2L612.1 73.2L612.1 73.4L612.2 73.5ZM606.7 55.5L606.8 55.2L606.7 55.3L606.7 55.5ZM600.2 68.7L600.3 68.7L600.5 68.8L600.6 68.8L600.8 68.9L600.9 69L601.5 69.3L602.6 69.1L602.7 69.1L602.9 69.1L603.1 69.1L603.2 69.1L603.4 69.2L603.5 69.2L603.7 69.3L603.8 69.4L605 69.2L600.1 68.6L600.2 68.7ZM647.3 129.9L646.9 129.8L646.4 129.6L644.6 128.7L644.3 128.5L644 128.3L643.7 128.1L643.5 127.8L643.3 127.6L643.1 127.3L642.5 126.3L642.3 126L642.2 125.6L642.1 125.3L642 125.3L641.6 125.2L641.3 125.1L641 124.9L640.7 124.7L640.4 124.5L640.1 124.3L639.9 124L639.7 123.9L639.5 123.9L639.1 124L638.7 124L638.4 124L638 124L637.7 123.9L637.3 123.8L637 123.7L636.7 123.5L636.4 123.3L635.6 122.7L635.3 122.5L635.1 122.2L634.8 121.9L634.6 121.6L634.4 121.2L634.1 120.5L633.4 119.7L632.9 119.3L632.2 118.8L631 118.6L630.7 118.5L630.4 118.4L630.1 118.2L629.1 117.8L627.9 117.9L626.3 118L623.7 118.8L623.3 118.9L622.9 119L621.1 119.1L619.9 119.7L618.7 120.9L618.5 121.1L618.2 121.3L617.9 121.5L617.6 121.7L617.2 121.8L616.9 121.9L616.5 122L613.6 122.3L613.2 122.4L612.8 122.4L612.5 122.3L610.9 122L610.1 122.2L608.9 122.8L608.8 122.9L606.9 123.8L606.6 124L606.3 124.1L606 124.2L605.6 124.2L605.3 124.2L603.4 124.2L603 124.2L602.7 124.2L600.8 123.8L600.5 123.7L600.2 123.6L599.9 123.5L598 122.5L597.7 122.4L597.4 122.1L597.1 121.9L596.9 121.7L596.7 121.4L596.5 121.1L596.3 120.8L596.2 120.4L596.1 120.1L596 119.7L596 119.4L596 119L596 118.7L596.2 117.4L596.3 117L596.4 116.7L596.5 116.3L596.7 116L596.9 115.7L597.1 115.4L597.2 115.3L597.2 114.7L596.5 113.4L596.4 113.1L596.3 112.7L596.2 112.4L595.9 110.5L595.6 109.7L594.9 108.5L594.8 108.4L593.3 105.8L593.1 105.4L593 105.1L592.9 104.7L592.8 104.4L592.8 104L592.8 103.6L592.9 103.2L592.9 102.9L593.1 102.5L593.2 102.2L593.1 102L593 101.6L593 101.3L593 100.9L593 100.5L593.2 98.9L593.2 98.6L593.3 98.3L593.9 96.2L594 95.9L594.1 95.6L594.2 95.4L595 94.1L595.2 93.8L595.4 93.5L595.7 93.2L596 92.9L596.3 92.7L596.6 92.6L596.9 92.4L597.3 92.3L597.7 92.2L598 92.2L598.4 92.2L598.6 92.2L598.7 92.2L600.8 90.8L601.1 90.6L601.5 90.4L601.8 90.3L602.2 90.2L602.5 90.2L604.3 90L605.5 89.6L607.2 88.9L607.4 88.8L608.6 88.5L609.2 87.7L609.4 87.4L609.4 87.1L609.4 86.7L609.4 86.3L609.5 86L609.6 85.6L609.8 85.3L610 85L610.2 84.7L610.4 84.4L610.7 84.1L612 83L612.3 82.8L612.6 82.6L612.9 82.4L613.3 82.3L613.6 82.2L614 82.2L614.2 82.1L614.4 82L614.6 81.7L616.1 80.2L616.3 80L617.4 79.1L617.7 78.9L618 78.7L618.3 78.5L620 77.8L620.3 77.7L620.6 77.6L621 77.5L621.3 77.5L621.7 77.5L622 77.5L622.4 77.6L623.9 78L624.2 78.1L624.6 78.2L624.6 78.2L624.8 77.6L625 77.3L625.1 76.9L625.3 76.6L625.5 76.4L625.8 76.1L626.1 75.9L626.3 75.7L626.7 75.5L627 75.3L627 75.3L628.1 74L628.3 73.7L628.6 73.5L628.9 73.3L629.2 73.1L629.5 72.9L629.9 72.8L630.2 72.7L630.6 72.7L630.9 72.6L631.3 72.6L631.6 72.7L632 72.8L633.3 73.1L633.7 73.3L634 73.4L634.3 73.6L634.5 73.8L636.4 74L636.7 74L637.9 74.2L639 74L639.3 74L639.7 73.9L640 74L640.4 74L640.7 74.1L641.1 74.2L641.4 74.3L641.7 74.5L642 74.7L642.7 75.2L643 75.5L643.2 75.7L643.5 76L643.7 76.3L643.8 76.6L644 76.9L644.1 77.3L644.2 77.6L644.2 78L644.2 78.3L644.2 78.7L644.1 79L644 79.4L643.9 79.7L643.7 80L642.8 81.7L642.8 81.7L642.8 81.8L643.1 81.9L644.4 82.9L645.4 83.5L645.5 83.1L645.3 81.1L645.3 80.8L645.3 80.5L645.5 78.4L645.6 78L645.9 76.2L646 75.8L646.2 75.5L646.5 74.8L644.7 73.7L643.6 73.9L643.3 73.9L643 73.9L642.7 73.9L642.5 73.9L642.2 73.8L641.9 73.7L641.7 73.6L641.4 73.4L641.2 73.3L641 73.1L640.8 72.9L640.6 72.6L640.5 72.4L639.5 70.7L639.4 70.5L639.3 70.2L639.2 69.9L639.2 69.6L639.2 69.3L639.2 69L639.2 68.7L639.3 68.4L639.4 68.2L639.5 67.9L639.7 67.6L639.8 67.4L637.6 66.5L635.1 65.6L633.5 65.7L633.2 65.7L632.9 65.7L632.6 65.7L632.3 65.6L632 65.5L631.8 65.4L631.5 65.2L631.3 65.1L631.1 64.9L630.9 64.6L629.7 63.2L629.7 63.3L629.6 63.4L629.4 63.5L629.3 63.5L629.1 63.6L629 63.6L628.8 63.7L628.7 63.7L628.5 63.7L628.3 63.7L625.5 63.3L625.4 63.3L623.9 63L623.9 63L623.8 63.1L623.7 63.3L623.6 63.4L623.5 63.5L623.3 63.6L623.2 63.7L623.1 63.8L622.9 63.8L622.7 63.8L622.6 63.9L620.7 64.1L620.6 64.1L620.4 64.1L620.2 64L620.1 64L619.9 63.9L619.8 63.9L619.6 63.8L619.5 63.7L619.4 63.6L619.3 63.5L619.2 63.4L619.1 63.2L619 63.1L619 62.9L618.6 61.8L618.5 61.6L618.5 61.5L618.5 61.3L618.5 61.1L618.5 61L618.6 60.8L618.6 60.7L618.7 60.5L618.8 60.4L618.9 60.2L619 60.1L619.1 60L619.2 59.9L619.4 59.8L619.5 59.7L619.7 59.7L619.8 59.6L620 59.6L620.2 59.6L622 59.6L622.2 59.6L622.4 59.6L622.5 59.7L622.7 59.7L622.8 59.8L623 59.9L623 59.9L623.2 59.8L623.3 59.7L623.5 59.7L626.3 58.9L626.4 58.9L626.6 58.9L626.7 58.9L626.8 58.9L626.7 58.7L626.6 58.4L626.6 58.1L626.5 57.8L626.5 57.6L626.5 57.6L626.4 57.8L626.3 57.9L626.2 58L626 58.1L625.9 58.2L625.8 58.3L625.6 58.4L625.5 58.4L625.3 58.5L625.1 58.5L625 58.5L624.8 58.5L624.6 58.4L624.5 58.4L624.3 58.3L624.2 58.3L622.9 57.5L622.7 57.4L622.6 57.3L622.5 57.2L622.4 57.1L622.3 57L622.2 56.8L622.2 56.7L621.2 54.5L621.2 54.3L621.1 54.2L621.1 54L621.1 53.8L621.1 53.7L621.1 53.5L621.5 51.6L621.6 51.5L621.6 51.3L621.7 51.2L621.8 51L621.9 50.9L622 50.8L622.1 50.7L622.2 50.6L622.4 50.5L622.5 50.4L622.7 50.4L622.8 50.3L623 50.3L623.2 50.3L623.3 50.3L623.5 50.3L623.6 50.4L623.8 50.4L623.9 50.5L624.1 50.6L624.2 50.7L624.3 50.8L624.4 50.9L624.5 51L624.6 51.2L624.7 51.3L624.8 51.5L624.8 51.7L625 51.6L625.1 51.6L625.3 51.6L625.5 51.6L625.6 51.6L625.8 51.6L626 51.7L626.1 51.7L626.3 51.8L626.4 51.9L626.5 52L626.6 52.1L626.7 52.3L626.8 52.4L626.9 52.5L627 52.7L627 52.9L627 53L627.1 53.2L627.1 53.4L627 53.5L627 53.7L627 53.8L626.9 54L626.8 54.1L626.7 54.3L626.2 55L626.6 56.2L626.6 56.4L626.7 56.5L626.7 56.6L626.7 56.4L626.9 56.1L627 55.9L627.2 55.7L627.4 55.4L627.6 55.2L627.8 55.1L630.1 53.6L630.3 53.4L630.6 53.3L630.9 53.2L631.2 53.1L631.5 53.1L631.8 53.1L632.1 53.1L632.4 53.2L634.8 53.7L635.1 53.8L636.2 54.2L636.5 54.3L636.7 54.4L637 54.5L637.2 54.7L637.4 54.9L637.6 55.1L637.8 55.4L637.9 55.6L638 55.9L638.1 56.2L638.2 56.4L638.3 56.9L639.7 55.8L640 55.6L640.2 55.4L640.5 55.3L640.8 55.2L641.1 55.2L641.4 55.1L641.7 55.1L642 55.2L644.5 55.5L644.7 55.6L644.9 55.6L645.2 55.7L648.6 57.2L650.7 57.9L653.7 58.8L653.9 58.9L655.7 59.6L656 59.8L656.3 59.9L656.6 60.1L659 62.2L659.2 62.4L659.4 62.6L659.6 62.8L659.7 63.1L659.8 63.3L661.3 63.9L661.5 64L661.6 64L664.2 63.4L666.1 62.3L665.1 61.5L665 61.3L664.9 61.2L664.8 61.1L664.7 61L664.6 60.8L664.6 60.7L664.5 60.5L664.5 60.3L664.5 60.2L664.5 60L664.5 59.9L664.6 59.7L664.6 59.5L664.7 59.4L664.8 59.3L664.9 59.1L665 59L665.1 58.9L665.2 58.8L665.3 58.7L665.5 58.6L665.6 58.6L665.8 58.5L666 58.5L666.1 58.5L666.3 58.5L666.4 58.5L666.6 58.5L666.8 58.6L668.8 59.3L669 59.4L669.1 59.5L669.3 59.6L669.4 59.7L671.1 61.4L671.2 61.5L671.3 61.6L672.2 62.9L672.3 63L672.4 63.2L672.4 63.3L672.5 63.5L672.5 63.6L672.6 63.6L672.7 63.5L672.9 63.4L673 63.4L673.2 63.3L673.4 63.3L673.5 63.3L673.7 63.3L673.9 63.4L674 63.4L674.2 63.5L674.3 63.6L674.4 63.7L675.9 64.8L676.1 64.9L676.2 65L676.3 65.1L676.4 65.2L677.3 66.7L677.4 66.9L677.4 67L677.5 67.2L677.5 67.3L677.5 67.5L677.5 67.7L677.5 67.8L677.5 68L677.4 68.1L677.4 68.3L677.3 68.4L677.2 68.6L677.1 68.7L677 68.8L676.9 68.9L676.7 69L676.6 69.1L676.4 69.2L676.3 69.2L676.1 69.3L676 69.3L675.8 69.3L675.6 69.3L674.3 69.1L674.2 69L674 69L673.8 68.9L673.7 68.8L673.5 68.7L673.4 68.6L673.3 68.5L673.2 68.4L673.1 68.2L672.2 66.6L672.1 66.4L672 66.3L672 66.1L671.8 65.4L671.8 65.3L671.7 65.3L671.5 65.4L671.4 65.5L671.2 65.5L671 65.5L670.9 65.6L670.7 65.6L670.5 65.5L670.4 65.5L670.2 65.4L670.1 65.4L669.9 65.3L669.8 65.2L669.6 65L669.3 65.5L669.2 65.6L669.1 65.8L667 68L666.9 68.1L666.8 68.2L666.7 68.3L666.5 68.4L666.4 68.4L666.2 68.5L666 68.5L665.9 68.5L665.7 68.5L663.3 68.4L665.1 70.1L667.3 72.1L667.5 72.3L667.6 72.5L667.8 72.8L667.9 73L668.1 73.3L668.1 73.6L668.2 73.9L668.2 74.2L668.2 74.4L668.2 74.7L668.1 75L668.1 75.3L668 75.6L667.8 75.8L667.7 76.1L667.5 76.3L667.3 76.5L667.1 76.7L666.8 76.8L666.6 77L666.3 77.1L666 77.2L665.7 77.2L663.5 77.6L663.2 77.7L662.9 77.7L662.7 77.6L662.4 77.6L662.1 77.5L661.9 77.4L661.6 77.3L658.5 75.6L658.2 75.5L657.9 75.3L657.7 75L655.9 73.1L655.3 73L654.8 73.7L654.6 73.9L654.4 74.1L655.5 77.2L655.6 77.5L655.9 78.4L656.1 78.5L656.4 78.7L656.8 78.9L657.1 79.1L658.6 80.4L658.8 80.7L659.1 81L659.3 81.3L659.5 81.7L659.6 82L659.7 82.4L659.8 82.8L660.1 85.1L660.9 87.1L661 87.6L661.1 87.8L661.4 87.9L661.7 88L662 88.2L662.3 88.4L662.6 88.6L664.8 90.4L665.1 90.7L665.3 90.9L665.5 91.1L666.7 92.8L668.3 94.3L668.6 94.5L668.8 94.8L669 95.2L669.2 95.5L669.8 96.9L672.2 99.2L672.5 99.6L672.7 100L673.8 101.8L674 102.1L674.1 102.5L674.3 102.8L674.3 103.1L674.4 103.5L674.5 105.8L675.1 107.6L675.2 108L675.3 108.3L675.3 108.7L675.3 109.1L675.2 109.5L675.1 109.9L674.5 112L674.1 114L674.1 114.4L673.9 114.8L673 117.2L672.8 117.5L672.6 117.9L672.4 118.2L672.2 118.5L671.9 118.8L670.7 119.7L670.3 120.5L670.3 120.7L668.7 123.7L668.6 125.4L668.5 125.8L668.5 126.2L668.3 126.5L668.2 126.9L668 127.2L667.8 127.5L667.5 127.8L667.3 128L667 128.2L666.6 128.4L666.3 128.6L665.9 128.7L664.1 129.3L663.8 129.4L663.8 129.4L664 129.6L664.2 129.8L664.3 130.1L664.5 130.3L664.6 130.6L664.6 130.9L664.7 131.2L664.7 131.5L664.7 133.5L664.7 133.8L664.6 134.1L664.6 134.3L664.5 134.6L663.9 136.1L663.8 136.4L663.7 136.6L663.5 136.9L663.3 137.1L662.5 137.9L662.3 138.1L662.1 138.2L661.9 138.4L660.6 139.1L660.3 139.2L660 139.4L659.7 139.4L659.4 139.5L659.1 139.5L658.8 139.5L657.1 139.3L656.8 139.2L656.5 139.2L656.3 139.1L656 138.9L655.8 138.8L655.5 138.6L655.3 138.4L655.1 138.2L654.9 138L653.8 136.3L653.7 136L653.5 135.8L653.2 135L652.4 133.5L652.3 133.2L652.2 132.9L652.1 132.6L651.9 131.7L651.9 131.4L651.8 131.2L651.6 131.1L649.5 130.4L647.3 129.9ZM614.3 75.6L614.2 75.5L614.1 75.4L614 75.2L613.9 75.1L613.9 74.9L613.9 74.7L613.8 74.6L613.8 74.4L613.9 74.2L613.9 74.1L613.9 73.9L614 73.8L614.1 73.6L614.2 73.5L614.3 73.4L614.4 73.3L616.3 71.6L616.3 71.5L617.3 70.8L617.4 70.7L617.6 70.6L617.7 70.5L617.9 70.5L622.2 69.3L622.3 69.3L622.5 69.3L622.7 69.3L622.8 69.3L623 69.3L623.1 69.4L623.3 69.4L623.4 69.5L623.6 69.6L623.7 69.7L623.8 69.8L623.9 69.9L624 70.1L624.1 70.2L624.2 70.4L624.2 70.5L624.3 70.7L624.3 70.8L624.3 71L624.3 71.2L624.2 71.3L624.2 71.5L624.1 71.6L624 71.8L624 71.9L623.9 72.1L623.7 72.2L623.6 72.3L623.5 72.4L622 73.3L621.8 73.4L619.2 74.6L617.2 76L617.1 76.1L617 76.2L616.8 76.3L616.7 76.3L616.5 76.3L616.3 76.4L616.2 76.4L616 76.3L615.9 76.3L615.1 76.1L615 76.1L614.8 76L614.7 75.9L614.5 75.8L614.4 75.7L614.3 75.6ZM611.3 42.2L611.2 42.1L611.1 41.9L611.1 41.8L611.1 41.6L611.1 41.4L611.1 41.3L611.1 41.1L611.1 40.9L611.1 40.8L611.2 40.6L611.3 40.5L611.3 40.4L622.7 40.4L622.6 42.4L622.6 42.5L622.5 42.7L622.5 42.8L622.4 43L622.4 43.1L622.3 43.3L622.2 43.4L622.1 43.5L621.9 43.6L621.8 43.7L620.8 44.4L620.2 45.6L620.1 45.7L620.1 45.9L619.9 46L619.8 46.1L619.7 46.2L619.6 46.3L619.4 46.4L619.3 46.5L619.1 46.5L618.9 46.5L618.8 46.6L618.6 46.6L618.4 46.5L618.3 46.5L618.1 46.5L618 46.4L617.8 46.3L616 45.2L615.8 45.1L615.7 45L614.6 44.1L612 42.9L611.9 42.8L611.7 42.7L611.6 42.6L611.5 42.5L611.4 42.3L611.3 42.2Z" fill="#fff"/>
<path d="M381.8 46.4L387.4 44.5L391.1 43.4L393.9 43.8L395.4 44.9L396.1 46.7L397 47.3L398.5 47.1L401 46.7L402.1 47.9L403.6 49.4L403.9 51.4L403.4 53.3L402.8 54.8L401.9 56.6L403 58.1L404.5 60.3L406.2 62.4L407.7 64.6L408.4 66.7L409.5 69.5L410.3 71.7L411.2 75.2L410.8 77.7L409 80.5L408.2 82.9L407.5 86.6L407.9 88.1L409 90.7L410.5 94.1L412.3 97.4L412.5 100L413.3 103.4L414 106L416.2 108.6L417.7 111.7L419.4 114.5L419.8 117.1L419.8 119L422 120.1L423.5 119.8L425.9 119.2L427.6 118.5L430.2 118.8L432.1 118.6L433.4 118.3L434.9 118.1L436.9 117L438.6 115.7L440.3 114.2L441.9 113L443.2 111L444.5 109.3L445.7 108.2L446.2 106.2L446.8 103.9L446.4 103.2L447.5 102.4L449.4 101.5L451.2 100.6L451.6 98.5L451.4 96.5L450.9 94.8L450.1 92.4L450.7 91.8L452.9 90.3L455.2 88.1L457 87.2L458.7 86L460 85.1L461.1 83.2L461.1 81.4L460.9 78.8L460.7 76.5L460 74.7L459.1 72.8L458.7 70.8L458.9 68.9L458 67.2L458.3 65.4L458.7 63.9L459.4 62.8L460.4 60.9L461.7 59.2L463 58.3L464.7 56.2L466.3 54.2L468.2 52.7L470.4 51.4L472.3 49.7L474 47.7L475.5 45.4L476.4 43.2L385.5 40.4L379.9 40.4ZM477.3 77.7L478.4 79.9L479 82.1L479.6 83.8L478.6 85.5L478.1 87.3L477.5 89.2L476.8 91.6L476 94.1L474.9 96.8L474 99.3L473.2 101.7L471.5 102.2L470.1 103L468.4 102.2L467.3 101.3L466.7 99.3L466.1 96.7L466.5 95.2L467.3 93.7L468 92.6L468.2 90.7L467.6 88.8L467.4 87.3L468.2 85.7L469.7 84.9L471.7 84.6L472.9 83.6L474.2 82.3L474.7 80.6L475.8 80.1L476.4 78.6ZM650.9 75.2L652 78.4L652.8 81.4L654.6 81.9L656.1 83.2L656.5 86L657.4 88.5L658 90.7L660.2 91.4L662.5 93.3L663.9 95.4L665.8 97L666.7 99.1L669.5 101.9L670.6 103.7L670.8 106.5L671.6 108.8L670.8 111.2L670.5 113.4L669.5 115.8L667.7 117.3L666.9 119L666 120.9L665.1 122.7L664.9 125.2L663 125.7L661.2 125.7L659.3 126.6L658.2 127.6L658 128.1L656.5 127L655.4 126.1L654.3 126.6L652.8 127.6L650.5 126.8L648.1 126.3L646.2 125.3L645.7 124.4L645.5 122.7L644.6 121.8L642.7 121.6L643.5 120.1L642.9 119L642.2 116.8L641.8 116L641.4 118.3L640.7 119.8L640.5 120.9L641.6 118.6L639.9 118.6L638.6 120.3L637.9 119.8L637.3 118.5L636 117L635.1 116.2L633.6 115.3L631.7 114.9L629.9 114L627.6 114.2L625.6 114.4L622.6 115.3L620.2 115.5L617.8 116.6L616.1 118.3L613.1 118.6L610.9 118.3L608.8 118.6L607.1 119.6L605.3 120.5L603.4 120.5L601.5 120.1L599.7 119.2L599.9 117.9L601 117.3L601 115.3L600.8 113.6L599.9 111.7L599.5 109.5L598.9 108L598 106.5L596.5 103.9L597.5 103.6L596.7 100.9L596.9 99.3L597.5 97.2L598.2 95.9L598.9 96.3L600.6 95.4L602.9 93.9L605.1 93.7L606.8 93.1L608.6 92.4L610.9 91.6L612.2 90L613.3 88.5L613.1 87L614.4 85.9L615.7 87.2L616.3 85.7L617.2 84.4L618.7 82.9L619.8 81.9L621.5 81.2L623 81.6L624.3 83.1L624.6 83.6L625.9 83.1L626.9 81.6L628 79.9L628.4 78.8L629.3 78.4L631 76.4L632.3 76.7L632.1 77.7L634.1 77.5L636 77.7L637.9 78L639.7 77.7L640.5 78.2L639.5 79.9L638.4 81L637.7 82.9L639.4 84.2L640.8 84.9L642.3 86L644 87L644.9 87.9L646.6 88.3L647.7 87.7L648.7 85.9L649.2 83.4L649 80.8L649.2 78.8L649.6 76.9L650.2 75.6ZM654.8 131.1L656.3 131.5L658.4 131.9L660.2 131.5L661.7 131.5L661.7 133.5L661.2 135L660.4 135.8L659.1 136.5L657.4 136.3L656.3 134.7L655.9 133.7L655 132ZM629.5 57.5L631.7 56.1L634.1 56.6L635.3 57L635.8 60L637.9 61.5L639.7 59.6L641.6 58.1L644 58.5L647.6 60L649.8 60.7L652.8 61.6L654.6 62.4L657.1 64.4L657.2 65.6L660.2 66.7L659.5 67.8L661 70.2L663 72.3L665.2 74.3L663 74.7L659.8 73L657.4 70.4L654.1 69.7L652.4 71.9L651.1 72.6L648.1 72.3L645.3 70.6L643.1 71L642.2 69.3L643.6 67.8L642.3 65.2L638.6 63.7L635.4 62.6L633.2 62.8L631.5 60.7L634.3 60L631.7 59.4L630 58.1ZM589.6 51.6L592.6 50.3L596 49.4L597.6 46.9L600.4 45.6L603 42.3L607.5 45.6L605.3 47.1L604.5 48.6L605.1 52L607.1 53.5L605.3 53.8L604.3 55.9L602.9 58.1L602.1 60.9L601.5 62.8L599.1 62.8L596 61.3L593.5 60.9L590.7 60.7L590.6 58.5L589.1 56.6L588.5 54.6L588.5 52.5ZM563 44.9L567.1 45.6L568.6 47.7L571.8 50.7L574.2 51.6L577.3 53.6L578.8 55.3L580.1 57.4L580.9 59.6L582.9 61.1L582.7 63.7L582.6 66.1L580.3 66.3L578.1 64.4L576 62.8L574.4 60.5L572.5 57.2L570.4 54.9L569.1 52L567.5 50.7L565 48.2ZM572.3 43.2L572.5 45.6L573.2 47.9L574.2 49.9L576.4 51.8L578.3 52.9L579.6 52.7L578.1 49L578.1 46.4L576 43.8L573.6 42.3ZM581.4 68L582.9 66.3L587.2 66.9L591.3 68.2L595.2 68.2L598.8 69.7L598.6 71.5L594.1 70.8L590.4 70.4L587.6 69.8L583.9 69.1L581.8 68.2ZM598.8 70.6L600.1 70.4L601 71L600.1 71.7ZM601.7 71L602.9 70.8L602.5 71.9L601.5 71.7ZM603.4 71.1L605.8 70.8L607.1 71L607.1 71.7L605.3 71.7L603.4 72.1ZM608.8 71L611.8 71.3L614.4 70.6L613.1 71.5L609 71.7ZM607.1 73.2L609 72.8L610.5 73.8L609.9 74.5L607.1 73.8ZM615.5 74.5L617.4 72.8L618.3 72.1L622.6 71L621.1 71.9L618.3 73.2L616.3 74.7ZM608.1 65.7L608.3 61.8L606.8 60.3L608.4 55.7L609 54L610.9 52.9L614.6 53.6L617.9 52.3L618.7 52.7L617.2 54.6L615.1 54.8L611.8 54.4L610.1 54.9L609.2 57L611.8 57.4L615.1 57L612.4 58.9L613.3 61.3L615 64.1L613.8 65.6L612 64.1L611 60.3L609.7 60.7L609.7 65.6ZM623.2 52L623.9 54.4L625.4 53.3L624.3 54.8L625 56.8L623.7 56.1L622.8 53.8ZM623.9 61.3L626.7 60.5L629.1 61.3L628.6 62L625.8 61.6ZM620.2 61.3L622 61.3L622.4 62.2L620.5 62.4ZM661.7 65.7L664.9 65L667.7 63.3L668.8 63.1L667.9 64.6L665.8 66.9L663 66.7ZM666.2 60.2L668.2 60.9L669.9 62.6L670.8 63.9L669.9 63.1L668.2 61.8ZM673.4 65L674.9 66.1L675.9 67.6L674.6 67.4L673.6 65.7ZM612.7 41.3L615.5 42.6L616.8 43.8L618.7 44.9L619.4 43.2L620.9 42.3L621.1 38.5L616.5 38.5ZM513.6 146.4L515.1 146L516.4 146.8L516.2 147.7L514.6 147.9L513.8 147.3ZM492.2 92.6L493.2 92.6L493.2 93.5L492.2 93.5ZM488.3 94.2L489.4 94.4L489.2 95.2L488.3 95ZM381.8 186.2L385.5 185.7L394.8 186.1L404.1 185.7L413.4 186.1L422.8 185.7L432.1 186.1L441.4 184.9L447 184.2L452.6 184.6L456.3 184.9L459.1 183.8L460 183.3L463.7 182.5L467.4 181.8L471.2 181L474.9 180.1L478.6 179.2L482.4 178.8L487.9 179.2L493.5 180.1L497.2 180.7L502.8 181L506.6 181.2L512.1 181.6L515.9 182.5L517.7 184.2L521.5 185.3L525.2 184.8L528.9 183.8L530.8 182.9L534.5 181.2L538.2 180.5L543.8 179.5L549.4 179.4L553.1 179L558.7 179.2L562.4 177.9L566.2 176.2L569.9 176L573.6 177.1L577.3 178.1L581.1 178.8L586.6 178.6L590.4 178.6L596 179.4L599.7 179.7L605.3 179.9L609 179.7L614.6 179.4L618.3 179L623.9 178.8L627.6 178.6L633.2 178.4L636.9 178.4L642.5 179L646.2 179.5L650 179.9L655.6 180.7L659.3 181.6L664.9 182.9L670.5 183.6L674.2 183.8L679.8 184.8L683.5 185.3L687.2 186.2L687.2 204.3L381.8 204.3Z" fill="none" stroke="#444" stroke-width="0.6" stroke-linejoin="round"/>
<rect x="450.7" y="73.9" width="65.2" height="42.8" fill="none" stroke="#f00" stroke-width="1.5"/>
</g>
<rect x="385.5" y="46.0" width="298" height="139.69" fill="none" stroke="#222" stroke-width="1"/>
<line x1="383.0" y1="55.3" x2="385.5" y2="55.3" stroke="#222" stroke-width="0.8"/>
<text x="382.3" y="59.7" font-family='"Liberation Serif", serif' font-size="13" text-anchor="end" fill="#000">0°</text>
<line x1="383.0" y1="92.6" x2="385.5" y2="92.6" stroke="#222" stroke-width="0.8"/>
<text x="382.3" y="97.0" font-family='"Liberation Serif", serif' font-size="13" text-anchor="end" fill="#000">20°S</text>
<line x1="383.0" y1="129.8" x2="385.5" y2="129.8" stroke="#222" stroke-width="0.8"/>
<text x="382.3" y="134.2" font-family='"Liberation Serif", serif' font-size="13" text-anchor="end" fill="#000">40°S</text>
<line x1="383.0" y1="167.1" x2="385.5" y2="167.1" stroke="#222" stroke-width="0.8"/>
<text x="382.3" y="171.5" font-family='"Liberation Serif", serif' font-size="13" text-anchor="end" fill="#000">60°S</text>
<line x1="422.8" y1="185.7" x2="422.8" y2="188.2" stroke="#222" stroke-width="0.8"/>
<text x="422.8" y="197.7" font-family='"Liberation Serif", serif' font-size="13" text-anchor="middle" fill="#000">20°E</text>
<line x1="497.2" y1="185.7" x2="497.2" y2="188.2" stroke="#222" stroke-width="0.8"/>
<text x="497.2" y="197.7" font-family='"Liberation Serif", serif' font-size="13" text-anchor="middle" fill="#000">60°E</text>
<line x1="571.8" y1="185.7" x2="571.8" y2="188.2" stroke="#222" stroke-width="0.8"/>
<text x="571.8" y="197.7" font-family='"Liberation Serif", serif' font-size="13" text-anchor="middle" fill="#000">100°E</text>
<line x1="646.2" y1="185.7" x2="646.2" y2="188.2" stroke="#222" stroke-width="0.8"/>
<text x="646.2" y="197.7" font-family='"Liberation Serif", serif' font-size="13" text-anchor="middle" fill="#000">140°E</text>
<text transform="translate(3.9999999999999996,271.1) scale(1.12,1)" font-family='"Liberation Sans", sans-serif' font-weight="bold" font-size="20.2" fill="#000" stroke="#000" stroke-width="0.5">C</text>
<text x="28.3" y="272.8" font-family='"Liberation Serif", serif' font-size="14.85" fill="#000">SST (MAM)</text>
<clipPath id="clipC"><rect x="28.0" y="278.0" width="298" height="139.7"/></clipPath>
<g clip-path="url(#clipC)">
<rect x="28.0" y="278.0" width="298" height="139.69" fill="#f9ebe3"/><path d="M24.3 383.2l5.6 0.5 6.5 0 27-3.2 23.3-0.8 28.8 0.2 6.6 0.5 12.1 1.8 13-1.4 7.4-0.4 29.9 0.2 32.5-0.4 14.9 0.8 37.3-3.7 30.7 3.8 15.9 2.3 6.5 0.4 7.4-0.2 0-34.4-3.7 1.3-3.7 0.5-3.7-0.1-3.8-0.7-3.5-1.4-2.2-1.9-1-1.9-0.3-1.8 1-2.8 1.5-1.9 2.7-2.2 3.7-1.9 2.8-0.8 3.7-0.3 3.7 0.5 2.8 0.9 0-60.4-62.8 0-1.9 1.8-1 1.9-0.3 1.9 0.5 1.8 1.1 1.9 4.5 3.7 12 6.5 1.7 1.9 0.5 1.9-0.3 3.7-3.9 19.5-1.2 11.2 0.7 5.6 2.9 7.1 0.1 3.1-1.7 4.7-4 6-3.7 3.3-2.8 0.6-2.8-1.2-1.8-2.1-5-9.4-2.5-3-2.8-1.9-8.4-3.1-1.8-1.3-1.9-3-3.3-11-2.8-6.5-2.8-3.7-1.3-0.9-1.9-0.3-2.6 1.2-2 2.3-2.7 5.1-3.9 10.8-1.8 2.2-1.9 0.7-21.4 0.8-13 1.6-13.1 3-28.8 8.2-11.2 1.8-16.8 1-19.5-0.7-11.9 2.3-5.8 0.5-6.6-0.3-5.2-1.1-3.4-1.9-0.9-1.9-0.1-2.8-0.7-0.9-3.6-2.6-0.6-1.1 0.1-1.9 1.9-8.4 0.6-11.1-0.4-11.2-1.4-17.7 0.2-18.6-30.2 0 0 108.9z" fill="#e7f0f4"/><path d="M314 378.6l4.6 0.7 3.7 0 7.4-1.3 0-22.6-13-0.5-8.4 0.7-3.7 1.2-3.7 1.8-3.2 2.3-1.6 1.8-0.7 1.9 0.1 1.9 1 1.8 1.7 1.9 3.7 2.8 4.6 2.8 3.7 1.6 3.8 1.2zM24.9 377.6l7.8 0.8 7.4-0.3 36.3-6.1 13.1-0.8 10.2-1.1 14 0.8 18.6-0.7 31.7 2.9 13.9 0.7 18.7-0.2 23.2-1.6 11.2 1.2 4.7-1.3 9.3-5.3 2.4-2.9 0.4-2.8-0.9-2.8-4.7-6.9-1.9-4.1-0.9-3.9-1.7-11.2-1.8-6.5-2.1-3.8-0.9-0.9-1.9-0.6-1.8 0.8-2.1 2.6-2.1 5.6-2.4 10.3-1.7 2.8-1.6 0.9-3.2 0.5-28.9 0.8-13.9 1.8-13.1 3.5-7.3 2.7-13.1 5.8-9.4 2.4-4.6 0.2-12.1-0.4-12.1 0.9-3.8-0.1-7.4-1.2-14.9-1.5-11.2-1.7-5.9-1.6-9.9-4.3-5.6-1.5-12.1-0.5-6.5 0.5 0 28.1 0.6 0zM44.7 335.7l1.9 0.6 1.9 0 1.9-1.5 1.4-2.8 1.1-3.7 0.7-5.6-0.1-11.2-1.1-6.5-2.9-11.2-1.9-10.8-1.9-6.3-1.3-2.4-7 0-6 4.6-2.5 2.7-2.1 3.8-1.9 5.6-0.6 2.9 0 4.8 0.3 0.7 0.6 0.5 0.9 0 3.8-0.8 2.8 0.7 1.5 1.5 1 1.8 0.9 4.7-0.9 4.7-1.2 1.8-1.3 1.2-2.8 0.5-4.7-1.2-0.9 0.2 0 10.9 1.7 4.3 1.1 1.2 1.8 1.2 15.8 3.1zM307.1 324.6l4 0.6 4.7-0.9 4.6-2.5 2.8-3.1 1.8-4.4 0-4.6-1.6-3.8-3-2.8-4.6-1.6-2.8-0.2-2.8 0.5-4.7 2.4-3.2 3.6-1.7 4.7-0.1 2.7 0.4 2.2 0.9 2.5 1.3 1.9 2.2 1.8 1.8 1zM287.7 287.3l7.6 0.4 6.5-1 2.8-1.2 1.3-1 0.6-0.9 0.1-1.9-1.5-1.8-3.4-1.9-4.6-1.2-4.6-0.5-3.7-0.1-5 0.9-3.4 1.2-2.2 1.6-0.7 1.8 1.1 1.9 3.6 2.1 5.5 1.6z" fill="#c2ddec"/><path d="M318.2 375.8l5.9-0.2 2.8-0.8 2.8-1.3 0-13.5-5.6-1.7-3.7-0.3-3.7 0.2-5.6 1.7-1.9 1.2-1.7 1.6-1 1.9-0.2 1.9 0.4 1.8 1 1.9 1.8 1.9 2.7 1.8 2.6 1.1 3.4 0.8zM25.4 374.8l5.4 0.8 5.6 0 11.2-1.4 19.4-4.9 6.1-2.8 1.1-1 0.2-0.9-1.4-1.9-3.2-1.8-25-8-4.7-0.9-4.7-0.3-4.6 0.1-4.7 0.6-1.8 0.4 0 21.8 1.1 0.2zM171.9 369.3l10.7 0.7 12.1-0.1 11.2-0.8 14.9-1.8 9.3 1 2.8-0.6 1.8-1 2.2-2.1 1.2-1.9 1-2.7 0.2-2.8-3.4-23.3-1.2-4.6-1.4-2.9-1.4-1.3-0.9-0.2-1.8 1-1 1.4-1.7 4.7-2.2 10.3-1.7 3.1-1.8 1.3-2.8 0.6-28.9 0.2-7.4 0.7-6.6 1-8.3 2.3-6.8 2.9-5.5 3.7-2.1 2.8-0.2 1.8 0.4 1 3 2 6.5 2 9.8 1.6zM85 367.4l4.5-0.3 1.3-0.6 0.6-1-1-1.1-2.8-0.8-3.4 0.1-2.8 0.9-0.4 0.9 0.9 1 3.1 0.9zM111.6 366.5l3.9 0.1 1.8-1.1-1.6-0.9-3.6 0-1.7 0.9 1.2 1zM46.6 331.1l1.9 0.6 0.9-0.5 1.9-3.3 1.2-7.1-0.1-7.4-0.8-4.7-1.2-4.1-3.5-6.1-3.1-7.1-0.9-0.9-0.9 0-1 0.8-0.9 1.9-0.9 4.4 0.6 19.5 1 3.7 2.7 5.6 1.5 2.8 1.6 1.9z" fill="#8ac0db"/><path d="M26.9 373l4.8 0.6 5.6 0.1 4.7-0.5 6.5-1.3 8.4-2.5 4.8-2 2.5-1.9 0.4-1.8-1.6-1.9-3.6-1.8-15.6-5.3-4.6-0.8-4.7-0.2-4.6 0.3-3.8 0.7-1.8 0.5 0 17.2 2.6 0.6zM316.6 372.1l4.7 0.6 2.8-0.5 2.2-1.1 1.6-1.4 0.8-1.4 0.3-1.8-0.7-1.9-2.3-2.1-3.7-1.2-4.7 0.2-3.2 1.2-1.8 1.9-0.6 2.8 1.6 2.8 3 1.9zM177.8 366.5l8.5 0.6 10.3-0.2 11.1-1.1 13.1-2.4 2.8 0 5.6 1.1 1.8-0.2 1.9-0.9 1.5-1.6 1-1.8 0.8-2.8 0.1-2.8-1.7-16.8-0.8-3.8-0.9-2.4-1-1.2-0.9-0.4-0.9 0.4-0.9 1.2-1 2.5-2.8 11.6-1.8 3.2-1.9 1.4-2.8 0.5-9.3-0.7-14.9-0.1-12.1 0.9-5.6 1-5.6 1.7-4 1.9-3.3 2.8-0.7 1.9 0.1 0.9 0.6 0.9 1.7 1.5 4.7 1.8 7.3 1.4zM47.2 327.4l1.3 0.7 0.9-0.5 1-1.6 0.9-3.6 0.3-4.4-0.3-4.6-0.9-4.2-1-2-0.9-1-0.9-0.4-1 0.2-1.3 1.8-0.7 2.8-0.3 3.7 0.9 8.4 0.9 2.8 1.1 1.9z" fill="#4997c5"/><path d="M33.5 372.1l8.5-0.6 8.6-2.2 6-2.8 1.5-1.9 0.1-0.9-1.4-1.9-3.2-1.8-6-2.4-5.6-1.5-4.7-0.6-4.6 0-4.7 0.6-3.7 1.3 0 12.9 4.6 1.3 4.6 0.5zM181.4 363.7l5.8 0.6 5.6 0 13.1-1.3 5.4-1.2 3.9-1.3 2.7-1.5 1.7-1.8-0.3-1-1.2-0.9-5.1-1.9-8.1-0.8-11.1-0.3-7.5 0.6-6.5 1.3-4.9 2-1.9 1.9-0.1 1.9 1.3 1.3 3.1 1.4 4.1 1zM227 360l2.2 0.5 2.2-0.5 1.5-1.7 1-3 0-5.6-0.9-8.4-1.1-3.8-0.9-0.9-1 1-3 10.2-3.9 8.4 1.1 1.9 2.8 1.9zM47.5 323.6l1 0.9 0.9-0.7 1.1-3.9-0.2-5.6-0.9-3-0.9-1-0.9 0.2-0.6 1-0.8 3.7 0.1 4.7 1.2 3.7z" fill="#2870b1"/><path d="M30.5 370.2l6.8 0.3 7.5-1.3 3.7-1.3 2.8-1.4 1.1-1 0.6-1.8-0.4-1-2.2-1.8-4-1.9-4.4-1.3-7.5-0.7-6.5 1-3.7 1.6 0 8.5 2.8 1.3 3.4 0.8zM186.2 360l4.8 0.7 4.6-0.1 4.1-0.6 2.7-1 1.1-0.9-0.5-0.9-2.7-1-4.7-0.4-4.6 0.1-2.8 0.4-2.8 1.1-0.8 0.7 0.1 0.9 1.5 1zM48.4 318l0.1-1.2-0.1 1.2z" fill="#10457e"/><path d="M30 368.3l5.4 0.7 6.6-0.8 4.4-1.7 1.3-1 0.8-1.8-0.4-1-1.5-1.3-4.6-2-5.6-0.8-5.6 0.4-4.4 1.9-1.2 1.2-0.7 1.6 0.6 1.8 0.9 1 4 1.8z" fill="#053061"/><path d="M269.6 403.7l14.5 0.1 18.6-0.6 10.3-0.8 8.3-1.3 8.4-2.2 0-8.1-10.2-2.6-12.1-1.6-20.5-1-16.8-0.1-40.9 2.4-43.8-0.2-22.4 0.8-7.4 0.8-4.7 1.1-4.3 2.1-1.2 1.9 0.4 1.9 0.9 0.9 2.4 1.3 5.5 1.5 7.5 0.8 22.4 0.8 41.9-0.1 43.2 2.2zM72 400.9l18.4 0.8 10.2-0.3 9.4-0.8 5.5-1 4.3-1.5 2.4-1.8 0.4-1.9-1.2-1.9-1.3-0.9-2.7-1.2-3.7-1-11.2-1.4-14-0.4-13.9 0.6-11.2 1.4-7.2 2-2 0.9-1.8 1.9 0.1 0.9 0.7 1 3.7 1.8 6.5 1.6 8.6 1.2zM100.4 345l5.8 0.9 9.3-0.5 14 0 8.4-0.6 7.4-1.4 7.5-2.5 2.7-1.4 2.6-1.9 2.1-2.8 1.9-6.5 0.9-1.8 1.9-1.7 2.8-1.2 7.9-1.8 10.7-1.3 13.1-0.7 14.8 0 4.7-1.5 5.5-4.9 3.6-1.9 3.9-0.4 9.4 2.2 4.6-0.2 6.5-1.7 4.3-1.7 2.4-1.9 0.6-1.9-0.9-1.8-3.7-3.7-2.9-4.7-2.7-2.8-4.5-3.3-7.5-4.2-5.6-4.2-1.8-1-2.8-0.9-7.5-0.2-5.6-1.3-19.5-0.6-16.8 0.3-33.5 1.5-7.4-1.1-11.2-3.6-19.5 0-3.8 1.8-4.1 2.8-3.1 2.8-3.2 3.7-3.2 4.7-3 5.6-1.7 4.7-0.6 3.7 0.2 4.6 1.7 8.4-0.2 3.7-1 6.6 0.2 2.8 0.6 1.8 2.5 3.7 4.9 4.7 4.4 3.1 3.5 1.5z" fill="#fbccb4"/><path d="M261.2 400l18.2 0.7 28-0.8 4.6-0.7 4.7-1.2 3.3-1.7 0.7-1 0.2-0.9-1.3-1.9-1.6-0.9-3.2-1.1-4.6-0.9-8.4-0.7-23.3-0.5-14 0.4-13 1.3-12.5 2.4-2.4 1-1 0.9 0.5 0.9 5.4 1.9 10 1.8 9.7 1zM102.1 340.4l4.1 0.4 11.2-2.4 13 0 10.3-1.4 3.3-1.3 2.6-1.8 1.6-2.8-0.1-2.8-0.9-1.7-1.2-1.1-2.3-0.9-2.1-0.3-3.7 0.8-5.6 2.6-3.7 1-5.6 0-3.7-0.8-1.9-1.1-1.9-2.1-4.1-8.5-2.4-3.3-2.8-1.4-2.8 0.3-2.8 1.6-3 3.7-2.4 5.6-1 5.6 0.3 3.7 1.6 3.7 2.7 3 3.3 1.7zM176.6 308.7l13.4 0.5 18.7-0.7 13 0.5 8.4-0.6 9.3 0.9 4.6-0.6 2.1-0.9 0.8-0.9-0.3-1-0.7-0.5-2.8-1.1-3.7-0.7-7.5-0.4-2.9-1-0.4-0.9 2.4-3.7 0.8-1.9 0.2-3.7-0.8-2.8-1.1-1.9-1-0.9-1.8-0.8-2.8 0.7-4.7 4.2-1.8 0.5-9.3-2-12.1-1.2-12.1 0.2-11.2 1.2-7.5 1.7-5.9 2-5 2.8-2.3 2.8 0 1.9 1.1 1.8 4.6 2.8 7.5 2.2 10.8 1.5zM111 304.1l0.8 0.5 2.8-0.2 6.5-1.4 2.8-1.3 1.9-1.3 2-2.8 0.4-1.9-0.1-1.9-1.4-3.7-3-3.7-3.5-2.3-3.7-1.1-4.7 0.2-3.7 2.4-2.4 3.6-0.8 3.7 0.6 3.7 2.5 4.7 3 2.8z" fill="#f19e7d"/><path d="M265.4 397.2l12.2 0.8 26.1-0.3 4.6-0.5 2.8-0.7 1.9-1.2 0.4-0.9-0.6-0.9-1.5-1-5.8-1.1-26.1-0.4-8.3 0.2-6.6 0.7-5.5 1.3-1.7 1.2 0.7 0.9 2.4 1 5 0.9zM101.9 335.7l2.5 0.8 2.8-0.6 2.6-2 0.8-1.9-0.1-3.7-1.5-3.9-1.8-2.8-1-0.9-1.8-0.8-1.9 0.3-1.9 1.5-1.6 2.9-0.7 2.8 0.1 2.8 0.4 1.8 1 1.9 2.1 1.8z" fill="#d86551"/>
<path d="M240.8 402.8l0.5 0.5 69.8 0 0.5-0.5 0-15.8-0.5-0.5-6.5 0-0.9-0.9-22.4 0-0.9-1-9.3 0-1 1-19.5 0-1 0.9-12.1 0-0.9 0.9-73.6 0-0.9 1-7.5 0-0.9 0.9-2.8 0-0.4 0.5 0 10.2 0.4 0.5 3.7 0 1 0.9 12.1 0 0.9 0.9 71.7 0 0.5 0.5zM64.8 400.9l0.4 0.5 47.5 0 1-0.9 3.7 0 0.5-0.5 0-10.2-0.5-0.5-1.9 0-0.9-0.9-5.6 0-0.9-1-37.3 0-0.9 1-6.5 0-0.9 0.9-2.8 0-0.5 0.5 0 10.2 0.5 0.5 4.6 0 0.5 0.4zM27.5 376.7l0.5 0.5 22.4 0 0.9-1 3.7 0 0.9-0.9 3.8 0 0.4-0.5 0-18.6-1.4-1.4-1.8 0-1-0.9-0.9 0-0.9-0.9-1 0-0.9-1-0.9 0-0.9-0.9-1 0-0.9-0.9-1.9 0-0.9-1-10.3 0-0.9-0.9-6.5 0-0.5 0.5 0 27.9zM167.2 371.1l0.5 0.5 57.7 0 0.5-0.5 0-12.1 0.5-0.4 12.1 0 0.4-0.5 0-22.4-0.9-0.9 0-4.6-0.9-1 0-0.9-0.5-0.5-11.2 0-0.4 0.5 0 1.9-1 0.9 0 2.8-0.9 0.9 0 11.2-0.5 0.4-53 0-1 1-0.9 0-0.5 0.4 0 23.3zM101.1 346l0.5 0.4 29.8 0 0.9-0.9 7.5 0 0.9-0.9 3.7 0 0.9-0.9 2.8 0 1-1 1.8 0 1-0.9 1.8 0 1.4-1.4 0-19.6-0.5-0.4-61.4 0-0.5 0.4 0 20.5 2.3 2.4 1 0 0.9 0.9 0.9 0 1 0.9 1.8 0 0.5 0.5zM154.2 309.7l0.4 0.4 70.8 0 1-0.9 17.6 0 0.5-0.5 0-5.6-0.5-0.4-17.6 0-0.5-0.5 0-14.9-0.5-0.5-70.8 0-0.4 0.5 0 22.4zM105.8 302.2l0.4 0.5 20.5 0 0.5-0.5 0-22.3-0.5-0.5-20.5 0-0.4 0.5 0 22.3z" fill="url(#dots)"/>
<path d="M76.4 407.6L98.8 407.3L102.5 405L158.4 405L167.7 406.1L177 406.5L182.6 404.3L214.2 404.3L219.8 405.2L260.8 405.4L307.4 406.1L316.7 407.4L331.6 408L331.6 423.3L22.4 423.3L22.4 411.2L46.6 410.8L55.9 409.3L61.5 408L69 409.3L76.4 407.6ZM119.7 309.1L119.8 309.1L119.8 309.1L119.9 309.1L119.9 309.1L120 309.1L120 309.2L120.1 309.2L120.1 309.2L120.2 309.2L120.2 309.3L120.3 309.3L120.3 309.4L120.3 309.4L120.5 309.7L120.5 309.7L120.6 309.5L120.7 309.4L121.6 308.5L121.7 308.4L121.9 308.3L122 308.2L122.2 308.1L122.3 308.1L122.5 308L122.7 308L122.8 308L123 308L123.2 308L123.3 308.1L123.5 308.1L123.6 308.2L123.8 308.3L123.9 308.4L124 308.5L124.1 308.6L124.2 308.8L124.3 308.9L125.4 311.1L125.5 311.3L125.5 311.5L126.1 313.7L126.6 315.3L126.7 315.4L126.7 315.6L126.7 315.8L126.7 316L126.7 316.1L126.6 316.3L126.6 316.5L126.5 316.6L125.7 318.1L125.2 319.8L124.6 321.7L124.6 321.7L123.1 326.5L123.1 326.7L121.9 329.5L121 331.8L120.3 334.2L120.3 334.3L120.2 334.5L120.1 334.6L120 334.7L119.9 334.9L119.8 335L119.7 335.1L119.5 335.2L119.4 335.2L119.2 335.3L117.7 335.8L116.3 336.5L116.1 336.6L116 336.6L115.8 336.6L115.7 336.7L115.5 336.7L115.3 336.7L115.2 336.6L115 336.6L114.9 336.5L113.2 335.8L113 335.7L112.9 335.6L112.8 335.5L112.8 335.5L112.8 335.5L112.7 335.5L112.7 335.5L112.6 335.5L112.5 335.6L112.5 335.5L112.4 335.5L112.4 335.5L112.3 335.5L110.7 334.8L110.6 334.7L110.6 334.7L110.5 334.7L109.4 333.7L109.4 333.7L109.3 333.7L109.3 333.6L109.3 333.6L109.2 333.5L109.2 333.5L108.7 331.4L108.7 331.4L108.1 328.8L108.1 328.7L108.1 328.7L108.1 328.6L108.1 328.6L108.1 328.5L108.5 327L108.5 327L108.5 326.9L109.3 325.4L109.3 325.4L110 324.4L110.1 322.8L109.6 321L109.6 321L109.6 320.9L109.4 319.4L109.4 319.4L109.4 319.3L109.4 319.3L109.4 319.2L109.4 319.2L109.4 319.1L110.2 317.4L110.2 317.4L110.2 317.3L110.3 317.3L110.3 317.3L110.4 317.2L110.4 317.2L110.4 317.2L111.9 316.4L112 316.4L112 316.4L112.1 316.4L112.8 316.2L112.9 316.2L114.4 315.4L114.6 315.4L114.7 315.3L114.9 315.3L114.9 315.3L115 315.2L116.2 314L116.7 312.5L116.7 312.4L116.7 312.4L116.8 312.3L116.8 312.3L116.8 312.2L116.9 312.2L116.9 312.2L117 312.1L117.9 311.7L118.4 310.4L118.4 310.3L118.4 310.3L118.5 310.2L118.5 310.2L119.4 309.3L119.5 309.2L119.5 309.2L119.6 309.2L119.6 309.1L119.7 309.1L119.7 309.1ZM23.9 280.6L23.7 280.5L23.5 280.5L23.3 280.4L23.1 280.3L22.9 280.1L22.7 280L22.6 279.8L22.4 279.6L22.4 279.6L22.4 272.4L100.7 272.4L119 273L119.2 273L119.4 273L119.6 273.1L119.8 273.2L120 273.3L120.2 273.4L120.3 273.5L120.5 273.7L120.6 273.8L120.8 274L120.9 274.2L121 274.4L121 274.6L121.1 274.8L121.1 275L121.1 275.2L121.1 275.4L121.1 275.7L121 275.9L121 276.1L120 278.3L119.9 278.5L119.8 278.7L118.3 280.9L118.2 281.1L116.5 283.1L116.4 283.3L116.3 283.4L114.4 285.1L114.2 285.2L114.1 285.3L112 286.6L110.4 287.8L108.9 289.7L107.2 291.7L107.1 291.9L106.9 292L106.8 292.1L105.7 292.9L104.8 294.1L103.9 295.8L103.8 296L103.3 296.8L103 297.9L102.8 298.9L103.3 299.8L103.4 300L103.5 300.2L103.6 300.5L103.6 300.7L103.6 300.9L103.6 301.1L103.5 302.7L103.7 304.1L104.5 305.7L104.6 305.9L105.3 307.7L105.4 307.9L105.4 308.1L105.5 308.4L105.7 310.6L105.7 310.6L105.8 313.2L105.9 313.4L105.9 315.2L105.8 315.5L105.8 315.7L105.8 315.8L105.7 316L105.6 316.2L105.5 316.4L104.4 318.3L104.3 318.5L104.1 318.6L104 318.8L103.8 318.9L102.5 319.9L102.4 319.9L100.8 321L100.5 321.2L99 321.9L97 323.9L96.8 324.1L96.7 324.2L95.2 325.2L95.5 326.1L96.1 327.8L96.1 328L96.2 328.3L96.3 330.3L96.4 330.5L96.3 330.7L96.3 330.9L95.9 333L95.9 333.2L95.8 333.4L95.7 333.6L95.6 333.8L95.5 334L95.3 334.2L95.1 334.3L94.9 334.5L94.7 334.6L91.5 336.2L91.5 336.2L91.4 336.5L90.9 338.7L90.9 338.7L90.3 340.8L90.2 341L90.1 341.2L90 341.4L89.9 341.6L89.7 341.8L88.7 342.8L87.6 344.3L86.3 346.2L86.2 346.4L86 346.6L85.9 346.8L85.7 346.9L84.1 347.9L82.6 349.3L82.5 349.4L80.8 350.7L80.6 350.8L80.5 350.9L78.4 352L78.2 352.1L78 352.2L77.8 352.3L77.6 352.3L76.3 352.5L75.2 352.8L75 352.8L74.8 352.9L72.9 353L72.7 353.1L72.4 353L70.4 352.8L69.3 353.2L69.1 353.3L68.9 353.4L66.5 353.9L65 354.3L64.8 354.3L64.6 354.4L64.4 354.4L64.1 354.3L63.9 354.3L63.7 354.2L63.5 354.1L61.3 353L61.1 352.9L60.9 352.8L60.7 352.6L60.6 352.5L60.4 352.3L60.3 352.1L60.2 351.9L60.1 351.7L60.1 351.5L60 351.2L60 351L60 349.3L59.7 347.3L58.3 344.9L58.2 344.7L56.8 341.8L54.8 339.4L54.7 339.2L54.5 339L54.4 338.8L54.3 338.6L53.6 336L53.6 335.8L52.8 332.5L52.8 332.3L52.8 332.2L52.6 330.1L51 327.1L50.9 327L49.4 323.6L49.4 323.6L48.3 321L48.2 320.8L48.2 320.6L47.8 319.1L47.8 319L47.7 318.8L47.7 318.6L47.8 318.4L47.8 318.2L48.5 314.4L48.6 314.2L49.3 311.8L49.4 311.6L49.5 311.4L49.6 311.2L51.2 308.8L51.4 307.4L50.6 304.3L49.9 302.2L48.8 299.5L48.8 299.4L48.2 297.6L46.9 295.7L45.3 293.8L45.1 293.6L43.7 291.4L42.6 290L42.5 289.8L42.4 289.6L42.3 289.4L42.2 289.1L42.2 288.9L42.2 288.7L42.2 288.5L42.2 288.3L42.2 288L42.3 287.8L42.4 287.6L43.3 285.9L43.8 284.5L44.1 283.3L44 282.4L43 281.4L42.7 281.1L41.4 281.3L41.3 281.3L39.8 281.5L39.6 281.5L39.4 281.5L39.2 281.5L39 281.5L38.8 281.4L38.6 281.3L38.4 281.2L37.5 280.7L37.3 280.5L37.1 280.4L37 280.3L36.8 280.1L36.7 279.9L36.6 279.8L36.5 279.6L36 278.3L35.5 277.9L33.8 277.7L30.5 278.6L25 280.5L24.8 280.6L24.5 280.6L24.3 280.6L24.1 280.6L23.9 280.6ZM254.7 305.5L254.7 305.7L254.7 305.9L254.6 306L254.6 306.2L254.6 306.3L254.5 306.5L254.4 306.6L254.3 306.8L253.8 307.5L253.7 307.6L253.5 307.7L253.4 307.9L253.3 307.9L253.1 308L253 308.1L252.8 308.1L252.7 308.2L252.5 308.2L252.3 308.2L252.2 308.2L252 308.1L249.2 307.4L249 307.3L248.9 307.3L248.7 307.2L248.6 307.1L248.5 307L248.4 306.8L248.3 306.7L248.2 306.6L248.1 306.4L248 306.3L248 306.1L248 305.9L248 305.8L248 305.4L247.9 305.4L246.2 305.7L246.1 305.7L245.9 305.8L245.7 305.7L245.6 305.7L245.4 305.7L245.3 305.6L245.1 305.6L245 305.6L244.8 305.6L244.7 305.5L243.7 305.3L243.6 305.3L243.4 305.2L243.3 305.2L243.2 305.3L243 305.3L242.9 305.4L242.7 305.4L242.5 305.4L242.4 305.4L242.2 305.3L242 305.3L241.9 305.2L241.7 305.2L241.6 305.1L241.6 305.1L241.4 305.2L241.3 305.2L241.1 305.2L241 305.2L240.8 305.2L236.4 304.4L232.7 304.1L232.5 304L229.8 303.5L226 302.7L225.8 302.7L225.7 302.6L223.6 301.7L223.6 301.7L223.2 301.5L223 301.4L222.9 301.3L222.8 301.2L222.7 301.1L222.6 301L222.5 300.8L222.4 300.7L222.4 300.5L222.3 300.4L222.3 300.2L222.3 300.1L222.3 299.9L222.3 299.9L222.2 299.8L222 299.8L221.9 299.7L221.7 299.6L219.5 297.7L217.5 296.1L217.3 295.9L217.2 295.8L215.5 293.5L215.4 293.3L213.6 290.2L211.7 288.1L211.6 287.9L211.5 287.8L211.4 287.6L210.3 285L208.9 284L208.8 283.8L206.4 281.4L206.2 281.3L206.1 281.1L204.1 277.8L204 277.6L203.9 277.5L203.9 277.3L203.8 277.1L203.8 277L203.8 276.8L203.8 276.6L203.9 276.5L203.9 276.3L204 276.2L204.1 276L204.2 275.9L204.3 275.7L204.4 275.6L204.5 275.5L204.7 275.4L204.8 275.4L205 275.3L205.1 275.2L205.3 275.2L205.5 275.2L205.6 275.2L205.8 275.2L209.9 276L210 276L210.2 276.1L210.3 276.1L210.5 276.2L210.6 276.3L210.7 276.4L210.8 276.5L210.9 276.6L212.3 278.6L214.1 280.2L213.4 278.2L213.4 278L213.3 277.8L213.1 275.3L213.1 275.2L213.1 275L213.2 274.8L213.2 274.7L213.3 274.5L213.4 274.3L213.5 274.2L213.6 274.1L213.7 273.9L213.8 273.8L215.1 272.9L215.3 272.8L215.4 272.7L215.6 272.7L215.7 272.6L215.9 272.6L216.1 272.6L216.2 272.6L216.4 272.6L216.5 272.7L216.7 272.7L216.8 272.8L217 272.8L219.4 274.3L219.5 274.4L219.6 274.5L219.8 274.6L219.9 274.7L221.9 277.3L222 277.5L222.1 277.6L222.1 277.7L222.2 277.9L222.2 278.1L222.3 278.2L222.3 278.4L222.3 280.7L223.6 284.1L223.7 284.2L223.7 284.4L223.7 284.6L223.7 284.7L223.7 284.9L223.7 285.1L223.7 285.2L223.6 285.4L223.5 285.5L223.4 285.7L223.3 285.8L223.2 285.9L223.1 286L222.9 286.1L222.8 286.2L222.6 286.3L222.7 286.3L222.7 286.4L224 288.5L224.1 288.6L224.2 288.8L224.8 290.6L226.4 291.7L226.5 291.8L226.7 292L226.8 292.1L226.9 292.2L226.9 292.4L227.3 292.2L231.5 291.6L231.4 291.1L230.3 289.7L230.2 289.5L230.1 289.4L230 289.2L230 289.1L229.4 287L229.4 286.9L229.3 286.7L229.3 286.6L229.3 284.5L229.3 284.4L229.4 284.2L229.4 284L229.5 283.9L229.5 283.7L229.6 283.6L229.7 283.5L229.8 283.3L229.9 283.2L231.1 282.3L231.2 282.2L231.3 282.1L231.5 282.1L234.4 280.7L234.7 280.7L237.4 279.9L238.8 278L238.9 277.8L239 277.7L239.1 277.6L239.3 277.5L239.4 277.4L241.9 276.3L244.2 273.2L244.3 273.1L244.4 273L244.6 272.9L244.7 272.8L244.8 272.7L245 272.7L245.2 272.6L245.3 272.6L245.5 272.6L245.6 272.6L245.8 272.6L246 272.7L246.1 272.7L246.3 272.8L246.4 272.8L246.5 272.9L251 276.3L251.1 276.4L251.3 276.5L251.4 276.6L251.5 276.8L251.5 276.9L251.6 277.1L251.6 277.3L251.7 277.4L251.7 277.6L251.7 277.8L251.7 277.9L251.6 278.1L251.6 278.2L251.5 278.4L251.4 278.5L251.3 278.7L251.2 278.8L251.1 278.9L250.9 279L249.1 280.3L248.8 280.9L249.1 283L250.6 284.1L250.7 284.2L250.9 284.3L250.9 284.4L252.5 283.5L252.6 283.4L252.8 283.3L252.9 283.3L253.1 283.2L253.2 283.2L253.4 283.2L253.5 283.2L253.7 283.2L256.9 283.9L259.8 282.8L260 282.7L260.1 282.7L260.3 282.7L260.4 282.7L260.6 282.7L260.7 282.7L260.9 282.7L261 282.8L261.2 282.8L261.9 283.2L262.1 283.3L262.2 283.4L262.3 283.5L262.5 283.6L262.6 283.7L262.6 283.9L262.7 284L262.8 284.2L262.8 284.3L262.8 284.5L262.9 284.7L262.9 284.8L262.8 285L262.8 285.2L262.7 285.3L262.7 285.5L262.6 285.6L262.5 285.8L261 287.6L260.9 287.7L260.8 287.9L260.6 288L260.5 288L260.3 288.1L260.2 288.2L260 288.2L259.8 288.2L259.2 288.3L259.2 288.3L259.2 288.5L259.3 288.7L259.3 288.8L259.3 289L259.3 289.1L259.3 289.3L259.3 289.5L259.2 289.6L259.1 289.8L259 289.9L258.9 290.1L258.8 290.2L258.7 290.3L258.6 290.4L256.9 291.5L257.3 292.5L258.9 295.2L259 295.3L259 295.5L259.1 295.7L259.1 295.8L259.1 296L259.1 296.2L259.1 296.3L259.1 296.5L259 296.6L259 296.8L258.9 296.9L258.8 297.1L257.7 298.6L257.6 298.7L257.5 298.8L257.3 298.9L257.2 299L257 299.1L256.9 299.1L256.7 299.2L256.6 299.2L256.4 299.2L256.2 299.2L256.1 299.2L255.9 299.2L255.7 299.1L255.6 299L255.4 299L255.3 298.9L253.9 297.8L253.9 297.9L253.9 298L253.8 298.2L253.7 298.3L253.6 298.5L253.5 298.6L253.4 298.7L253.3 298.8L253.2 298.9L253 299L252.9 299.1L252.7 299.2L252.6 299.2L252.4 299.2L250.8 299.4L250.6 299.4L250.4 299.4L250.3 299.4L250.1 299.4L249.7 301.3L249.9 301.3L250 301.3L250.2 301.4L250.3 301.4L250.5 301.5L250.5 301.5L250.6 301.5L250.7 301.4L250.9 301.3L251 301.3L251.2 301.3L251.4 301.3L251.5 301.3L254.2 301.6L256.4 301L256.6 300.9L256.8 300.9L256.9 300.9L257.1 300.9L257.2 300.9L257.4 301L257.6 301L257.7 301.1L257.8 301.2L258 301.3L258.1 301.4L258.2 301.5L258.3 301.6L258.4 301.8L258.4 301.9L258.5 302.1L258.5 302.2L258.6 302.4L258.6 302.6L258.6 302.7L258.6 302.9L258.5 303L258.5 303.2L258.4 303.3L258.3 303.5L258.2 303.6L258.1 303.7L258 303.8L257.9 303.9L256.6 304.9L256.4 305L256.3 305L256.1 305.1L256 305.1L255.8 305.2L255.7 305.2L254.6 305.2L254.6 305.4L254.7 305.5ZM249.2 287.5L249.3 287.2L249.2 287.3L249.2 287.5ZM242.7 300.7L242.8 300.7L243 300.8L243.1 300.8L243.3 300.9L243.4 301L244 301.3L245.1 301.1L245.2 301.1L245.4 301.1L245.6 301.1L245.7 301.1L245.9 301.2L246 301.2L246.2 301.3L246.3 301.4L247.5 301.2L242.6 300.6L242.7 300.7ZM289.8 361.9L289.4 361.8L288.9 361.6L287.1 360.7L286.8 360.5L286.5 360.3L286.2 360.1L286 359.8L285.8 359.6L285.6 359.3L285 358.3L284.8 358L284.7 357.6L284.6 357.3L284.5 357.3L284.1 357.2L283.8 357.1L283.5 356.9L283.2 356.7L282.9 356.5L282.6 356.3L282.4 356L282.2 355.9L282 355.9L281.6 356L281.2 356L280.9 356L280.5 356L280.2 355.9L279.8 355.8L279.5 355.7L279.2 355.5L278.9 355.3L278.1 354.7L277.8 354.5L277.6 354.2L277.3 353.9L277.1 353.6L276.9 353.2L276.6 352.5L275.9 351.7L275.4 351.3L274.7 350.8L273.5 350.6L273.2 350.5L272.9 350.4L272.6 350.2L271.6 349.8L270.4 349.9L268.8 350L266.2 350.8L265.8 350.9L265.4 351L263.6 351.1L262.4 351.7L261.2 352.9L261 353.1L260.7 353.3L260.4 353.5L260.1 353.7L259.7 353.8L259.4 353.9L259 354L256.1 354.3L255.7 354.4L255.3 354.4L255 354.3L253.4 354L252.6 354.2L251.4 354.8L251.3 354.9L249.4 355.8L249.1 356L248.8 356.1L248.5 356.2L248.1 356.2L247.8 356.2L245.9 356.2L245.5 356.2L245.2 356.2L243.3 355.8L243 355.7L242.7 355.6L242.4 355.5L240.5 354.5L240.2 354.4L239.9 354.1L239.6 353.9L239.4 353.7L239.2 353.4L239 353.1L238.8 352.8L238.7 352.4L238.6 352.1L238.5 351.7L238.5 351.4L238.5 351L238.5 350.7L238.7 349.4L238.8 349L238.9 348.7L239 348.3L239.2 348L239.4 347.7L239.6 347.4L239.7 347.3L239.7 346.7L239 345.4L238.9 345.1L238.8 344.7L238.7 344.4L238.4 342.5L238.1 341.7L237.4 340.5L237.3 340.4L235.8 337.8L235.6 337.4L235.5 337.1L235.4 336.7L235.3 336.4L235.3 336L235.3 335.6L235.4 335.2L235.4 334.9L235.6 334.5L235.7 334.2L235.6 334L235.5 333.6L235.5 333.3L235.5 332.9L235.5 332.5L235.7 330.9L235.7 330.6L235.8 330.3L236.4 328.2L236.5 327.9L236.6 327.6L236.7 327.4L237.5 326.1L237.7 325.8L237.9 325.5L238.2 325.2L238.5 324.9L238.8 324.7L239.1 324.6L239.4 324.4L239.8 324.3L240.2 324.2L240.5 324.2L240.9 324.2L241.1 324.2L241.2 324.2L243.3 322.8L243.6 322.6L244 322.4L244.3 322.3L244.7 322.2L245 322.2L246.8 322L248 321.6L249.7 320.9L249.9 320.8L251.1 320.5L251.7 319.7L251.9 319.4L251.9 319.1L251.9 318.7L251.9 318.3L252 318L252.1 317.6L252.3 317.3L252.5 317L252.7 316.7L252.9 316.4L253.2 316.1L254.5 315L254.8 314.8L255.1 314.6L255.4 314.4L255.8 314.3L256.1 314.2L256.5 314.2L256.7 314.1L256.9 314L257.1 313.7L258.6 312.2L258.8 312L259.9 311.1L260.2 310.9L260.5 310.7L260.8 310.5L262.5 309.8L262.8 309.7L263.1 309.6L263.5 309.5L263.8 309.5L264.2 309.5L264.5 309.5L264.9 309.6L266.4 310L266.7 310.1L267.1 310.2L267.1 310.2L267.3 309.6L267.5 309.3L267.6 308.9L267.8 308.6L268 308.4L268.3 308.1L268.6 307.9L268.8 307.7L269.2 307.5L269.5 307.3L269.5 307.3L270.6 306L270.8 305.7L271.1 305.5L271.4 305.3L271.7 305.1L272 304.9L272.4 304.8L272.7 304.7L273.1 304.7L273.4 304.6L273.8 304.6L274.1 304.7L274.5 304.8L275.8 305.1L276.2 305.3L276.5 305.4L276.8 305.6L277 305.8L278.9 306L279.2 306L280.4 306.2L281.5 306L281.8 306L282.2 305.9L282.5 306L282.9 306L283.2 306.1L283.6 306.2L283.9 306.3L284.2 306.5L284.5 306.7L285.2 307.2L285.5 307.5L285.7 307.7L286 308L286.2 308.3L286.3 308.6L286.5 308.9L286.6 309.3L286.7 309.6L286.7 310L286.7 310.3L286.7 310.7L286.6 311L286.5 311.4L286.4 311.7L286.2 312L285.3 313.7L285.3 313.7L285.3 313.8L285.6 313.9L286.9 314.9L287.9 315.5L288 315.1L287.8 313.1L287.8 312.8L287.8 312.5L288 310.4L288.1 310L288.4 308.2L288.5 307.8L288.7 307.5L289 306.8L287.2 305.7L286.1 305.9L285.8 305.9L285.5 305.9L285.2 305.9L285 305.9L284.7 305.8L284.4 305.7L284.2 305.6L283.9 305.4L283.7 305.3L283.5 305.1L283.3 304.9L283.1 304.6L283 304.4L282 302.7L281.9 302.5L281.8 302.2L281.7 301.9L281.7 301.6L281.7 301.3L281.7 301L281.7 300.7L281.8 300.4L281.9 300.2L282 299.9L282.2 299.6L282.3 299.4L280.1 298.5L277.6 297.6L276 297.7L275.7 297.7L275.4 297.7L275.1 297.7L274.8 297.6L274.5 297.5L274.3 297.4L274 297.2L273.8 297.1L273.6 296.9L273.4 296.6L272.2 295.2L272.2 295.3L272.1 295.4L271.9 295.5L271.8 295.5L271.6 295.6L271.5 295.6L271.3 295.7L271.2 295.7L271 295.7L270.8 295.7L268 295.3L267.9 295.3L266.4 295L266.4 295L266.3 295.1L266.2 295.3L266.1 295.4L266 295.5L265.8 295.6L265.7 295.7L265.6 295.8L265.4 295.8L265.2 295.8L265.1 295.9L263.2 296.1L263.1 296.1L262.9 296.1L262.7 296L262.6 296L262.4 295.9L262.3 295.9L262.1 295.8L262 295.7L261.9 295.6L261.8 295.5L261.7 295.4L261.6 295.2L261.5 295.1L261.5 294.9L261.1 293.8L261 293.6L261 293.5L261 293.3L261 293.1L261 293L261.1 292.8L261.1 292.7L261.2 292.5L261.3 292.4L261.4 292.2L261.5 292.1L261.6 292L261.7 291.9L261.9 291.8L262 291.7L262.2 291.7L262.3 291.6L262.5 291.6L262.7 291.6L264.5 291.6L264.7 291.6L264.9 291.6L265 291.7L265.2 291.7L265.3 291.8L265.5 291.9L265.5 291.9L265.7 291.8L265.8 291.7L266 291.7L268.8 290.9L268.9 290.9L269.1 290.9L269.2 290.9L269.3 290.9L269.2 290.7L269.1 290.4L269.1 290.1L269 289.8L269 289.6L269 289.6L268.9 289.8L268.8 289.9L268.7 290L268.5 290.1L268.4 290.2L268.3 290.3L268.1 290.4L268 290.4L267.8 290.5L267.6 290.5L267.5 290.5L267.3 290.5L267.1 290.4L267 290.4L266.8 290.3L266.7 290.3L265.4 289.5L265.2 289.4L265.1 289.3L265 289.2L264.9 289.1L264.8 289L264.7 288.8L264.7 288.7L263.7 286.5L263.7 286.3L263.6 286.2L263.6 286L263.6 285.8L263.6 285.7L263.6 285.5L264 283.6L264.1 283.5L264.1 283.3L264.2 283.2L264.3 283L264.4 282.9L264.5 282.8L264.6 282.7L264.7 282.6L264.9 282.5L265 282.4L265.2 282.4L265.3 282.3L265.5 282.3L265.7 282.3L265.8 282.3L266 282.3L266.1 282.4L266.3 282.4L266.4 282.5L266.6 282.6L266.7 282.7L266.8 282.8L266.9 282.9L267 283L267.1 283.2L267.2 283.3L267.3 283.5L267.3 283.7L267.5 283.6L267.6 283.6L267.8 283.6L268 283.6L268.1 283.6L268.3 283.6L268.5 283.7L268.6 283.7L268.8 283.8L268.9 283.9L269 284L269.1 284.1L269.2 284.3L269.3 284.4L269.4 284.5L269.5 284.7L269.5 284.9L269.5 285L269.6 285.2L269.6 285.4L269.5 285.5L269.5 285.7L269.5 285.8L269.4 286L269.3 286.1L269.2 286.3L268.7 287L269.1 288.2L269.1 288.4L269.2 288.5L269.2 288.6L269.2 288.4L269.4 288.1L269.5 287.9L269.7 287.7L269.9 287.4L270.1 287.2L270.3 287.1L272.6 285.6L272.8 285.4L273.1 285.3L273.4 285.2L273.7 285.1L274 285.1L274.3 285.1L274.6 285.1L274.9 285.2L277.3 285.7L277.6 285.8L278.7 286.2L279 286.3L279.2 286.4L279.5 286.5L279.7 286.7L279.9 286.9L280.1 287.1L280.3 287.4L280.4 287.6L280.5 287.9L280.6 288.2L280.7 288.4L280.8 288.9L282.2 287.8L282.5 287.6L282.7 287.4L283 287.3L283.3 287.2L283.6 287.2L283.9 287.1L284.2 287.1L284.5 287.2L287 287.5L287.2 287.6L287.4 287.6L287.7 287.7L291.1 289.2L293.2 289.9L296.2 290.8L296.4 290.9L298.2 291.6L298.5 291.8L298.8 291.9L299.1 292.1L301.5 294.2L301.7 294.4L301.9 294.6L302.1 294.8L302.2 295.1L302.3 295.3L303.8 295.9L304 296L304.1 296L306.7 295.4L308.6 294.3L307.6 293.5L307.5 293.3L307.4 293.2L307.3 293.1L307.2 293L307.1 292.8L307.1 292.7L307 292.5L307 292.3L307 292.2L307 292L307 291.9L307.1 291.7L307.1 291.5L307.2 291.4L307.3 291.3L307.4 291.1L307.5 291L307.6 290.9L307.7 290.8L307.8 290.7L308 290.6L308.1 290.6L308.3 290.5L308.5 290.5L308.6 290.5L308.8 290.5L308.9 290.5L309.1 290.5L309.3 290.6L311.3 291.3L311.5 291.4L311.6 291.5L311.8 291.6L311.9 291.7L313.6 293.4L313.7 293.5L313.8 293.6L314.7 294.9L314.8 295L314.9 295.2L314.9 295.3L315 295.5L315 295.6L315.1 295.6L315.2 295.5L315.4 295.4L315.5 295.4L315.7 295.3L315.9 295.3L316 295.3L316.2 295.3L316.4 295.4L316.5 295.4L316.7 295.5L316.8 295.6L316.9 295.7L318.4 296.8L318.6 296.9L318.7 297L318.8 297.1L318.9 297.2L319.8 298.7L319.9 298.9L319.9 299L320 299.2L320 299.3L320 299.5L320 299.7L320 299.8L320 300L319.9 300.1L319.9 300.3L319.8 300.4L319.7 300.6L319.6 300.7L319.5 300.8L319.4 300.9L319.2 301L319.1 301.1L318.9 301.2L318.8 301.2L318.6 301.3L318.5 301.3L318.3 301.3L318.1 301.3L316.8 301.1L316.7 301L316.5 301L316.3 300.9L316.2 300.8L316 300.7L315.9 300.6L315.8 300.5L315.7 300.4L315.6 300.2L314.7 298.6L314.6 298.4L314.5 298.3L314.5 298.1L314.3 297.4L314.3 297.3L314.2 297.3L314 297.4L313.9 297.5L313.7 297.5L313.5 297.5L313.4 297.6L313.2 297.6L313 297.5L312.9 297.5L312.7 297.4L312.6 297.4L312.4 297.3L312.3 297.2L312.1 297L311.8 297.5L311.7 297.6L311.6 297.8L309.5 300L309.4 300.1L309.3 300.2L309.2 300.3L309 300.4L308.9 300.4L308.7 300.5L308.5 300.5L308.4 300.5L308.2 300.5L305.8 300.4L307.6 302.1L309.8 304.1L310 304.3L310.1 304.5L310.3 304.8L310.4 305L310.6 305.3L310.6 305.6L310.7 305.9L310.7 306.2L310.7 306.4L310.7 306.7L310.6 307L310.6 307.3L310.5 307.6L310.3 307.8L310.2 308.1L310 308.3L309.8 308.5L309.6 308.7L309.3 308.8L309.1 309L308.8 309.1L308.5 309.2L308.2 309.2L306 309.6L305.7 309.7L305.4 309.7L305.2 309.6L304.9 309.6L304.6 309.5L304.4 309.4L304.1 309.3L301 307.6L300.7 307.5L300.4 307.3L300.2 307L298.4 305.1L297.8 305L297.3 305.7L297.1 305.9L296.9 306.1L298 309.2L298.1 309.5L298.4 310.4L298.6 310.5L298.9 310.7L299.3 310.9L299.6 311.1L301.1 312.4L301.3 312.7L301.6 313L301.8 313.3L302 313.7L302.1 314L302.2 314.4L302.3 314.8L302.6 317.1L303.4 319.1L303.5 319.6L303.6 319.8L303.9 319.9L304.2 320L304.5 320.2L304.8 320.4L305.1 320.6L307.3 322.4L307.6 322.7L307.8 322.9L308 323.1L309.2 324.8L310.8 326.3L311.1 326.5L311.3 326.8L311.5 327.2L311.7 327.5L312.3 328.9L314.7 331.2L315 331.6L315.2 332L316.3 333.8L316.5 334.1L316.6 334.5L316.8 334.8L316.8 335.1L316.9 335.5L317 337.8L317.6 339.6L317.7 340L317.8 340.3L317.8 340.7L317.8 341.1L317.7 341.5L317.6 341.9L317 344L316.6 346L316.6 346.4L316.4 346.8L315.5 349.2L315.3 349.5L315.1 349.9L314.9 350.2L314.7 350.5L314.4 350.8L313.2 351.7L312.8 352.5L312.8 352.7L311.2 355.7L311.1 357.4L311 357.8L311 358.2L310.8 358.5L310.7 358.9L310.5 359.2L310.3 359.5L310 359.8L309.8 360L309.5 360.2L309.1 360.4L308.8 360.6L308.4 360.7L306.6 361.3L306.3 361.4L306.3 361.4L306.5 361.6L306.7 361.8L306.8 362.1L307 362.3L307.1 362.6L307.1 362.9L307.2 363.2L307.2 363.5L307.2 365.5L307.2 365.8L307.1 366.1L307.1 366.3L307 366.6L306.4 368.1L306.3 368.4L306.2 368.6L306 368.9L305.8 369.1L305 369.9L304.8 370.1L304.6 370.2L304.4 370.4L303.1 371.1L302.8 371.2L302.5 371.4L302.2 371.4L301.9 371.5L301.6 371.5L301.3 371.5L299.6 371.3L299.3 371.2L299 371.2L298.8 371.1L298.5 370.9L298.3 370.8L298 370.6L297.8 370.4L297.6 370.2L297.4 370L296.3 368.3L296.2 368L296 367.8L295.7 367L294.9 365.5L294.8 365.2L294.7 364.9L294.6 364.6L294.4 363.7L294.4 363.4L294.3 363.2L294.1 363.1L292 362.4L289.8 361.9ZM256.8 307.6L256.7 307.5L256.6 307.4L256.5 307.2L256.4 307.1L256.4 306.9L256.4 306.7L256.3 306.6L256.3 306.4L256.4 306.2L256.4 306.1L256.4 305.9L256.5 305.8L256.6 305.6L256.7 305.5L256.8 305.4L256.9 305.3L258.8 303.6L258.8 303.5L259.8 302.8L259.9 302.7L260.1 302.6L260.2 302.5L260.4 302.5L264.7 301.3L264.8 301.3L265 301.3L265.2 301.3L265.3 301.3L265.5 301.3L265.6 301.4L265.8 301.4L265.9 301.5L266.1 301.6L266.2 301.7L266.3 301.8L266.4 301.9L266.5 302.1L266.6 302.2L266.7 302.4L266.7 302.5L266.8 302.7L266.8 302.8L266.8 303L266.8 303.2L266.7 303.3L266.7 303.5L266.6 303.6L266.5 303.8L266.5 303.9L266.4 304.1L266.2 304.2L266.1 304.3L266 304.4L264.5 305.3L264.3 305.4L261.7 306.6L259.7 308L259.6 308.1L259.5 308.2L259.3 308.3L259.2 308.3L259 308.3L258.8 308.4L258.7 308.4L258.5 308.3L258.4 308.3L257.6 308.1L257.5 308.1L257.3 308L257.2 307.9L257 307.8L256.9 307.7L256.8 307.6ZM253.8 274.2L253.7 274.1L253.6 273.9L253.6 273.8L253.6 273.6L253.6 273.4L253.6 273.3L253.6 273.1L253.6 272.9L253.6 272.8L253.7 272.6L253.8 272.5L253.8 272.4L265.2 272.4L265.1 274.4L265.1 274.5L265 274.7L265 274.8L264.9 275L264.9 275.1L264.8 275.3L264.7 275.4L264.6 275.5L264.4 275.6L264.3 275.7L263.3 276.4L262.7 277.6L262.6 277.7L262.6 277.9L262.4 278L262.3 278.1L262.2 278.2L262.1 278.3L261.9 278.4L261.8 278.5L261.6 278.5L261.4 278.5L261.3 278.6L261.1 278.6L260.9 278.5L260.8 278.5L260.6 278.5L260.5 278.4L260.3 278.3L258.5 277.2L258.3 277.1L258.2 277L257.1 276.1L254.5 274.9L254.4 274.8L254.2 274.7L254.1 274.6L254 274.5L253.9 274.3L253.8 274.2Z" fill="#fff"/>
<path d="M24.3 278.4L29.9 276.5L33.6 275.4L36.4 275.8L37.9 276.9L38.6 278.7L39.5 279.3L41 279.1L43.5 278.7L44.6 279.9L46.1 281.4L46.4 283.4L45.9 285.3L45.3 286.8L44.4 288.6L45.5 290.1L47 292.3L48.7 294.4L50.2 296.6L50.9 298.7L52 301.5L52.8 303.7L53.7 307.2L53.3 309.7L51.5 312.5L50.7 314.9L50 318.6L50.4 320.1L51.5 322.7L53 326.1L54.8 329.4L55 332L55.8 335.4L56.5 338L58.7 340.6L60.2 343.7L61.9 346.5L62.3 349.1L62.3 351L64.5 352.1L66 351.8L68.4 351.2L70.1 350.5L72.7 350.8L74.6 350.6L75.9 350.3L77.4 350.1L79.4 349L81.1 347.7L82.8 346.2L84.4 345.1L85.7 343L87 341.3L88.2 340.2L88.7 338.2L89.3 335.9L88.9 335.2L90 334.4L91.9 333.5L93.7 332.6L94.1 330.5L93.9 328.5L93.4 326.8L92.6 324.4L93.2 323.8L95.4 322.3L97.7 320.1L99.5 319.2L101.2 318L102.5 317.1L103.6 315.2L103.6 313.4L103.4 310.8L103.2 308.5L102.5 306.7L101.6 304.8L101.2 302.8L101.4 300.9L100.5 299.2L100.8 297.4L101.2 295.9L101.9 294.8L102.9 292.9L104.2 291.2L105.5 290.3L107.2 288.2L108.8 286.2L110.7 284.7L112.9 283.4L114.8 281.7L116.5 279.7L118 277.4L118.9 275.2L28 272.4L22.4 272.4ZM119.8 309.7L120.9 311.9L121.5 314.1L122.1 315.8L121.1 317.5L120.6 319.3L120 321.2L119.3 323.6L118.5 326.1L117.4 328.8L116.5 331.3L115.7 333.7L114 334.2L112.6 335L110.9 334.2L109.8 333.3L109.2 331.3L108.6 328.7L109 327.2L109.8 325.7L110.5 324.6L110.7 322.7L110.1 320.8L110 319.3L110.7 317.7L112.2 316.9L114.2 316.6L115.4 315.6L116.7 314.3L117.2 312.6L118.3 312.1L118.9 310.6ZM293.4 307.2L294.5 310.4L295.3 313.4L297.1 313.9L298.6 315.2L299 318L299.9 320.5L300.5 322.7L302.7 323.4L305 325.3L306.4 327.4L308.3 329L309.2 331.1L312 333.9L313.1 335.7L313.3 338.5L314.1 340.8L313.3 343.2L313 345.4L312 347.8L310.2 349.3L309.4 351L308.5 352.9L307.6 354.7L307.4 357.2L305.5 357.7L303.7 357.7L301.8 358.6L300.7 359.6L300.5 360.1L299 359L297.9 358.1L296.8 358.6L295.3 359.6L293 358.8L290.6 358.3L288.8 357.3L288.2 356.4L288 354.7L287.1 353.8L285.2 353.6L286 352.1L285.4 351L284.7 348.8L284.3 348L283.9 350.3L283.2 351.8L283 352.9L284.1 350.6L282.4 350.6L281.1 352.3L280.4 351.8L279.8 350.5L278.5 349L277.6 348.2L276.1 347.3L274.2 346.9L272.4 346L270.1 346.2L268.1 346.4L265.1 347.3L262.7 347.5L260.3 348.6L258.6 350.3L255.6 350.6L253.4 350.3L251.3 350.6L249.6 351.6L247.8 352.5L245.9 352.5L244.1 352.1L242.2 351.2L242.4 349.9L243.5 349.3L243.5 347.3L243.3 345.6L242.4 343.7L242 341.5L241.4 340L240.5 338.5L239 335.9L240 335.6L239.2 332.9L239.4 331.3L240 329.2L240.7 327.9L241.4 328.3L243.1 327.4L245.4 325.9L247.6 325.7L249.3 325.1L251.1 324.4L253.4 323.6L254.7 322L255.8 320.5L255.6 319L256.9 317.9L258.2 319.2L258.8 317.7L259.7 316.4L261.2 314.9L262.3 313.9L264 313.2L265.5 313.6L266.8 315.1L267.1 315.6L268.4 315.1L269.4 313.6L270.5 311.9L270.9 310.8L271.8 310.4L273.5 308.4L274.8 308.7L274.6 309.7L276.6 309.5L278.5 309.7L280.4 310L282.2 309.7L283 310.2L282 311.9L280.9 313L280.2 314.9L281.9 316.2L283.3 316.9L284.8 318L286.5 319L287.4 319.9L289.1 320.3L290.2 319.7L291.2 317.9L291.7 315.4L291.5 312.8L291.7 310.8L292.1 308.9L292.7 307.6ZM297.3 363.1L298.8 363.5L300.9 363.9L302.7 363.5L304.2 363.5L304.2 365.5L303.7 367L302.9 367.8L301.6 368.5L299.9 368.3L298.8 366.7L298.4 365.7L297.5 364ZM272 289.5L274.2 288.1L276.6 288.6L277.8 289L278.3 292L280.4 293.5L282.2 291.6L284.1 290.1L286.5 290.5L290.1 292L292.3 292.7L295.3 293.6L297.1 294.4L299.6 296.4L299.7 297.6L302.7 298.7L302 299.8L303.5 302.2L305.5 304.3L307.7 306.3L305.5 306.7L302.3 305L299.9 302.4L296.6 301.7L294.9 303.9L293.6 304.6L290.6 304.3L287.8 302.6L285.6 303L284.7 301.3L286.1 299.8L284.8 297.2L281.1 295.7L277.9 294.6L275.7 294.8L274 292.7L276.8 292L274.2 291.4L272.5 290.1ZM232.1 283.6L235.1 282.3L238.5 281.4L240.1 278.9L242.9 277.6L245.5 274.3L250 277.6L247.8 279.1L247 280.6L247.6 284L249.6 285.4L247.8 285.8L246.8 287.9L245.4 290.1L244.6 292.9L244.1 294.8L241.6 294.8L238.5 293.3L236 292.9L233.2 292.7L233.1 290.5L231.6 288.6L231 286.6L231 284.5ZM205.5 276.9L209.6 277.6L211.1 279.7L214.2 282.7L216.7 283.6L219.8 285.6L221.3 287.3L222.6 289.4L223.4 291.6L225.4 293.1L225.2 295.7L225.1 298.1L222.8 298.3L220.6 296.4L218.5 294.8L216.9 292.5L215 289.2L212.9 286.9L211.6 284L210 282.7L207.5 280.2ZM214.8 275.2L215 277.6L215.7 279.9L216.7 281.9L218.9 283.8L220.8 284.9L222.1 284.7L220.6 281L220.6 278.4L218.5 275.8L216.1 274.3ZM223.9 300L225.4 298.3L229.7 298.9L233.8 300.2L237.7 300.2L241.3 301.7L241.1 303.5L236.6 302.8L232.9 302.4L230.1 301.8L226.4 301.1L224.3 300.2ZM241.3 302.6L242.6 302.4L243.5 303L242.6 303.7ZM244.2 303L245.4 302.8L245 303.9L244.1 303.7ZM245.9 303.1L248.3 302.8L249.6 303L249.6 303.7L247.8 303.7L245.9 304.1ZM251.3 303L254.3 303.3L256.9 302.6L255.6 303.5L251.5 303.7ZM249.6 305.2L251.5 304.8L253 305.8L252.4 306.5L249.6 305.8ZM258 306.5L259.9 304.8L260.8 304.1L265.1 303L263.6 303.9L260.8 305.2L258.8 306.7ZM250.6 297.7L250.8 293.8L249.3 292.3L250.9 287.7L251.5 286L253.4 284.9L257.1 285.6L260.4 284.3L261.2 284.7L259.7 286.6L257.6 286.8L254.3 286.4L252.6 286.9L251.7 289L254.3 289.4L257.6 289L254.9 290.9L255.8 293.3L257.5 296.1L256.3 297.6L254.5 296.1L253.5 292.3L252.2 292.7L252.2 297.6ZM265.7 284L266.4 286.4L267.9 285.3L266.8 286.8L267.5 288.8L266.2 288.1L265.3 285.8ZM266.4 293.3L269.2 292.5L271.6 293.3L271.1 294L268.3 293.6ZM262.7 293.3L264.5 293.3L264.9 294.2L263 294.4ZM304.2 297.7L307.4 297L310.2 295.3L311.3 295.1L310.4 296.6L308.3 298.9L305.5 298.7ZM308.7 292.2L310.7 292.9L312.4 294.6L313.3 295.9L312.4 295.1L310.7 293.8ZM315.9 297L317.4 298.1L318.4 299.6L317.1 299.4L316.1 297.7ZM255.2 273.3L258 274.6L259.3 275.8L261.2 276.9L261.9 275.2L263.4 274.3L263.6 270.6L259 270.6ZM156.1 378.4L157.6 378L158.9 378.8L158.7 379.7L157.1 379.9L156.3 379.3ZM134.7 324.6L135.7 324.6L135.7 325.5L134.7 325.5ZM130.8 326.2L131.9 326.4L131.7 327.2L130.8 327ZM24.3 418.2L28 417.7L37.3 418.1L46.6 417.7L55.9 418.1L65.2 417.7L74.6 418.1L83.9 416.9L89.5 416.2L95 416.6L98.8 416.9L101.6 415.8L102.5 415.3L106.2 414.5L110 413.8L113.7 413L117.4 412.1L121.1 411.2L124.9 410.8L130.4 411.2L136 412.1L139.8 412.7L145.3 413L149.1 413.2L154.7 413.6L158.4 414.5L160.2 416.2L164 417.3L167.7 416.8L171.4 415.8L173.3 414.9L177 413.2L180.7 412.5L186.3 411.5L191.9 411.4L195.6 411L201.2 411.2L204.9 409.9L208.7 408.2L212.4 408L216.1 409.1L219.8 410.1L223.6 410.8L229.2 410.6L232.9 410.6L238.5 411.4L242.2 411.7L247.8 411.9L251.5 411.7L257.1 411.4L260.8 411L266.4 410.8L270.1 410.6L275.7 410.4L279.4 410.4L285 411L288.8 411.5L292.5 411.9L298.1 412.7L301.8 413.6L307.4 414.9L313 415.6L316.7 415.8L322.3 416.8L326 417.3L329.7 418.2L329.7 436.3L24.3 436.3Z" fill="none" stroke="#444" stroke-width="0.6" stroke-linejoin="round"/>
<rect x="93.2" y="305.9" width="65.2" height="42.8" fill="none" stroke="#f00" stroke-width="1.5"/>
</g>
<rect x="28.0" y="278.0" width="298" height="139.69" fill="none" stroke="#222" stroke-width="1"/>
<line x1="25.5" y1="287.3" x2="28.0" y2="287.3" stroke="#222" stroke-width="0.8"/>
<text x="24.8" y="291.7" font-family='"Liberation Serif", serif' font-size="13" text-anchor="end" fill="#000">0°</text>
<line x1="25.5" y1="324.6" x2="28.0" y2="324.6" stroke="#222" stroke-width="0.8"/>
<text x="24.8" y="329.0" font-family='"Liberation Serif", serif' font-size="13" text-anchor="end" fill="#000">20°S</text>
<line x1="25.5" y1="361.8" x2="28.0" y2="361.8" stroke="#222" stroke-width="0.8"/>
<text x="24.8" y="366.2" font-family='"Liberation Serif", serif' font-size="13" text-anchor="end" fill="#000">40°S</text>
<line x1="25.5" y1="399.1" x2="28.0" y2="399.1" stroke="#222" stroke-width="0.8"/>
<text x="24.8" y="403.5" font-family='"Liberation Serif", serif' font-size="13" text-anchor="end" fill="#000">60°S</text>
<line x1="65.2" y1="417.7" x2="65.2" y2="420.2" stroke="#222" stroke-width="0.8"/>
<text x="65.2" y="429.7" font-family='"Liberation Serif", serif' font-size="13" text-anchor="middle" fill="#000">20°E</text>
<line x1="139.8" y1="417.7" x2="139.8" y2="420.2" stroke="#222" stroke-width="0.8"/>
<text x="139.8" y="429.7" font-family='"Liberation Serif", serif' font-size="13" text-anchor="middle" fill="#000">60°E</text>
<line x1="214.2" y1="417.7" x2="214.2" y2="420.2" stroke="#222" stroke-width="0.8"/>
<text x="214.2" y="429.7" font-family='"Liberation Serif", serif' font-size="13" text-anchor="middle" fill="#000">100°E</text>
<line x1="288.8" y1="417.7" x2="288.8" y2="420.2" stroke="#222" stroke-width="0.8"/>
<text x="288.8" y="429.7" font-family='"Liberation Serif", serif' font-size="13" text-anchor="middle" fill="#000">140°E</text>
<text transform="translate(361.9,271.1) scale(1.12,1)" font-family='"Liberation Sans", sans-serif' font-weight="bold" font-size="20.2" fill="#000" stroke="#000" stroke-width="0.5">D</text>
<text x="385.8" y="272.8" font-family='"Liberation Serif", serif' font-size="14.85" fill="#000">SST (JJA)</text>
<clipPath id="clipD"><rect x="385.5" y="278.0" width="298" height="139.7"/></clipPath>
<g clip-path="url(#clipD)">
<rect x="385.5" y="278.0" width="298" height="139.69" fill="#f9ebe3"/><path d="M385.2 383.2l9.6 0.6 32.6 0.2 14-0.4 27-1.9 12.1-0.5 120.1-0.7 4.7-0.8 1.8-1.1 0.3-1-0.2-3.7 0.2-1.8 1-1.9 1.8-1.9 4.4-2.1 4.6-0.7 4.7 1 1.9 1 2 1.8 1.2 1.8 0.4 1.9-0.3 4.6 0.2 1 1.2 0.9 1.8 0.6 8.4 0.8 46.5 1.5 0-30.6-7.4 3-4.7 0.4-3.7-0.7-7.5-3.4-3.7-1-28.8-0.4-10-0.9-6.8-1.4-3.7-1.4-2.4-1.9-1.4-2-3.5-8.2-2.6-4.7-3.2-3.6-3.7-2.4-5.6-1.5-8.4-0.2-3.7-0.5-18.2-6.7-15.3-4.9-10.3-2.6-6.5-0.8-2.8 0.3-1.6 0.6-1.2 0.9-0.7 1.9 0.1 1.8 1.1 2.8 3.9 5.6 4.9 4.9 5.6 4.4 7.5 4.9 15.2 8.2 1.8 1.8-0.1 0.9-1.4 1-3.7 0.9-24.9 4.4-8.3 0.9-8.4-0.1-19.6-1.6-17.7-0.4-5.6-0.8-3-1.5-0.9-0.9-0.6-1.9 1.7-13.9-0.3-4.7-1-4.6-1.4-3.3-1.9-2.6-1.9-1.5-2.8-0.9-2.8 0.7-1.8 1.4-2.3 3.4-1.4 3.7-0.7 3.7-0.2 4.7 1.7 13-0.3 1.9-1.5 1.7-1.8 0.8-2.8 0.6-14.9 0.3-3.8 0.6-8.3 2.1-4.7-0.2-1.9-0.6-2.2-1.6-4.3-6.6-4.9-5.5 0.2-0.9 1-1 5.6-3 2.8-2.4 2.2-3.9 1.2-3.7 2.9-15.8 1.2-12.1-0.4-11.2-1.9-9.3-32.2 0 0 60.6 2 2.7-0.3 0.9-1.7 1.7 0 42.7 3.4 0.3zM659.1 332l3 0.6 2.8-1 4.5-3.3 4.1-3.7 1.9-2.8 1-5.6 0.7-1.9 5.9-7.4 1.2-3.8-0.7-3.7-2-2.8-3.6-2.4-2.8-1-2.8-0.5-4.6 0.4-2.8 1.2-1.9 1.4-2.9 3.7-1.4 3.7-1.1 7.5-3 6.5-1 4.7 0.2 2.8 1 2.8 1.9 2.8 2.4 1.8zM632.2 299.4l3.8 0.4 3.7-0.9 3-2.3 2.2-3.7 1.3-1.4 2.8-1 10.3-1.8 3.7-1.3 2.7-2 0.6-0.9 0-1.8-1.4-1.9-4.7-2.3-5.6-1.4-6.5-0.8-6.5-0.2-7.5 0.5-6.5 1.1-4.6 1.6-3.2 2.4-0.5 1 0.3 1.8 1.8 1.9 3.4 2.4 1 1.2 1 4.8 0.9 1.8 1.8 1.6 2.7 1.2z" fill="#e7f0f4"/><path d="M411.7 377.6l16.6 0.7 7.5-0.4 7.4-0.9 10.3-2.2 13.9-5.1 3.8-1 2.8 0.2 15.1 3.2 12.8 0.9 10.3-0.3 18.6-2.1 21.4-0.7 6.5-0.9 5.6-1.6 3.3-1.9 1.1-1.8-0.1-1-1.6-1.8-4.6-2.3-6.5-1.5-8.4-0.5-7.4 0.8-17.7 3.5-21.4 0.3-9.3 0.7-9.8 1.8-8.9 2.4-2.8 0.1-15.1-4.4-10.9-2-10.3-1-17.7-0.2-5.6-0.7-4.6-1.8-3.3-2.7-0.8-1.8-0.1-2.8-0.5-1.9-0.9-1.2-1.9-1.5-2.8-0.9-3.7-0.3-3.7 0.7-2.6 1.3-0.9 1-1 1.8 0.2 3.8-0.3 1.8-1.9 2.6 0 17.3 4.6 2.2 5.6 1.4 19.7 0.7zM677.1 373.9l2.7 0.4 2.8-0.4 1.8-0.9 0.7-0.9 0-1-0.8-0.9-2.7-1.1-2.8-0.1-1.8 0.4-1.9 0.9-0.6 0.8 0 1 0.6 0.9 2 0.9zM589.3 364.6l4.8 0.3 5.6-1 4.2-2.1 1.4-1.4 0.6-1.4-0.5-1.8-1.8-1.9-6.3-3.7-2.3-1.9-0.8-1.9 1.1-6.5-0.2-2.8-0.5-1.8-1-1.9-1.4-1.4-1.8-1-1.9-0.3-1.9 0.5-1.7 1.3-1.3 2.8 0.3 3.8 2.9 7.3 0.2 1.9-0.7 1.9-3.8 5.6-0.6 2.8 0.9 1.8 1.2 0.9 2.6 1.3 2.7 0.6zM404.5 326.4l1.5 0.2 0.9-0.4 1.9-2.3 1.4-4 0.7-5.6 0-6.5-0.8-14-1.2-6.5-1.8-5.6-2.1-3.7-3.2-3.7-20 0 0 44.4 0.5 1.2 2.3 3.7 1.8 1.6 1.9 0.9 2.8 0.1 4.6-1.3 2.8-0.3 2.8 0.4 3.2 1.4zM669.6 305.9l2.7 0.4 2.9-1.3 0.8-1.1 0.4-1.7-1.1-1.8-3-1.1-1.8 0.2-1.9 1-0.9 1.4-0.2 1.2 0.8 1.9 1.3 0.9z" fill="#c2ddec"/><path d="M419.1 372.1l7.4 0.5 6.6-0.5 3.5-1 1.8-0.9 0.9-0.9 0.1-1-0.7-0.9-1.6-0.9-3.2-1-3.7-0.5-6.5-0.1-10.3 1-3.7-0.4-2.8-1.1-8.4-5.4-3.7-1.3-2.8 0.1-2.8 1.2-2 1.9-0.9 1.8-0.2 2.8 1.3 2.6 1.8 1.6 3.3 1.4 6 0.5 11.2-1.1 9.4 1.6zM392.9 348.8l1.2-1-1.1-0.4-1.2 0.4 1.1 1zM404.5 322.7l1.5 0.6 0.9-0.4 0.9-1.1 1.2-2.8 0.6-4.7-0.5-7.4-2.2-11.7-1.1-4.2-2.6-4.9-2.8-2.4-6.5-2.7-2.8-0.3-1.9 0.4-1.8 1-1.9 2-1.3 2.3-0.8 2.8-0.3 5.6 1.5 6.1 1.8 4.1 2.8 4.4 6.5 4.1 4.7 4.2 4.1 5z" fill="#8ac0db"/><path d="M404.9 319.9l1.1 0.6 0.9-0.5 0.9-1.6 0.7-4.1-0.3-4.6-1.3-4.3-3.7-8.7-0.9-1.2-1-0.6-0.9 0-1 0.8-0.7 1.9-0.2 2.8 0.4 2.7 4.1 13.1 1.9 3.7z" fill="#4997c5"/><path d="M405.8 317.1l1.2-0.9 0.2-3.7-0.3-1.6-0.9-1.7-0.9 0-0.6 1.4-0.1 2.8 0.6 2.8 0.8 0.9z" fill="#2870b1"/><path d="M635.2 402.8l11 0.6 37.3-3.8 3.7 0 0-12-41-1.9-22.3 0.3-14.9 0.9-45.6 0.4-32.2 1.5-8.9 1-5 0.9-2.1 0.9 0.5 0.9 3.3 1 7.1 1 27 1.6 24.2 2.1 31.7 2.1 11.2 1.3 15 1.2zM674.7 347.8l2.3 0.2 2.4-1.1 1.7-1.9 1.1-2.7 0.1-2.8-0.9-2.8-1.6-2-1.9-0.8-2.8 0.2-1.8 1-1.9 2.3-0.8 2.1-0.2 2.8 0.9 2.7 1.6 1.9 1.8 0.9zM412.1 345l2.3 0.7 1.7-0.7 0.9-0.9 0.5-0.9 0-1.9-1.3-2-0.9-0.5-1.9-0.3-1.8 0.8-0.9 1.1-0.3 0.9 0.2 1.9 1.5 1.8zM509.5 335.7l2.7 0.7 2.7 0.1 1.9-0.5 1.4-1.2 0.6-1.9-0.3-1.8-3-5.6-8.9-10.7-5.6-5.7-3.8-3.2-3.7-2.4-2.8-1.1-2.8-0.3-1.8 0.7-1.1 1.3-0.7 1.8 0.1 3.8 1.6 4.6 3.3 5.6 4.7 5.6 5.1 4.6 5.6 3.6 4.8 2zM610.1 319.9l7.3 0.5 6.5-0.6 5.6-1.6 1.5-1.1 0.4-0.9-0.3-1-1.1-0.9-3.3-1.3-15.8-2.4-1-0.8-0.9-2-1-0.9-2.7-1.3-5.6-1.3-9.8-1.2-2.3-0.9 0-0.9 2.6-3.7 0.9-1.9 0.6-4.7-0.5-2.8-1.1-2.8-1.6-2.1-1.9-1.4-2.7-1-6.6-0.1-8.3-1.4-8.4 0.3-4.7 1.2-4.6 2-3.3 2.5-2 2.8-0.6 1.9 0 1.9 1.1 2.8 2.6 2.8 4 2.4 7.5 2.6 12.1 2.2 3.2 3 5.2 2.1 5.5 1 14.4 1.6 1 0.9-0.1 1.8 0.9 1.9 3.4 1.9 3.9 0.9zM482.6 278.9l3.5 0.8 3.7-0.1 2.8-0.8 1.2-0.8 0.4-0.9-0.7-1-2.1-0.9-3.5-0.4-2.8 0.2-2.7 0.8-1.4 1.3 0.3 0.9 1.3 0.9z" fill="#fbccb4"/><path d="M635.4 400l10.8 0.9 24.4-2.8 12.9-2.3 3.7 0 0-4.5-3.7 0-7.5-1.2-11.1-1-21.4-1-14.9 0.7-10.1 1-5.2 0.9-8.3 2.8 4 1.2 3.2 1.6 3.4 0.9 8.3 1.5 11.5 1.3z" fill="#f19e7d"/><path d="M640.3 398.1l5.9 0.7 12.1-1.6 8.9-1.9 2-0.9 0.2-0.9-2-1-4.8-0.9-16.4-1.5-15.7 1.5-3.7 0.9-1.6 1 0.1 0.9 1.4 0.9 2.9 1 10.7 1.8z" fill="#d86551"/><path d="M643.2 395.3l3 1 3.4-1 1.4-0.9-1.1-0.9-3.7-0.9-3.3 0.9-0.9 0.9 1.2 0.9z" fill="#bb2a34"/>
<path d="M602 400.9l0.5 0.5 75.4 0 0.9-0.9 4.7 0 0.5-0.5 0-13-0.5-0.5-14.9 0-0.9-0.9-86.6 0-1 0.9-47.5 0-0.9 0.9-12.1 0-0.5 0.5 0 8.4 0.5 0.4 18.6 0 1 1 20.4 0 1 0.9 12.1 0 0.9 0.9 13 0 1 1 14 0 0.4 0.4zM385 374.8l0.5 0.5 67.1 0 0.4-0.5 0-14.8-0.4-0.5-1 0-0.9-0.9-7.5 0-0.9-1-41 0-0.4-0.4 0-8.4-0.5-0.5-14.9 0-0.5 0.5 0 26zM675.6 348.8l0.4 0.4 2.8 0 4.2-4.2 0-1.8 1-0.9 0-4.7-0.5-0.5-7.5 0-0.4 0.5 0 11.2z" fill="url(#dots)"/>
<path d="M433.9 407.6L456.3 407.3L460 405L515.9 405L525.2 406.1L534.5 406.5L540.1 404.3L571.8 404.3L577.3 405.2L618.3 405.4L664.9 406.1L674.2 407.4L689.1 408L689.1 423.3L379.9 423.3L379.9 411.2L404.1 410.8L413.4 409.3L419 408L426.5 409.3L433.9 407.6ZM477.2 309.1L477.3 309.1L477.3 309.1L477.4 309.1L477.4 309.1L477.5 309.1L477.5 309.2L477.6 309.2L477.6 309.2L477.7 309.2L477.7 309.3L477.8 309.3L477.8 309.4L477.8 309.4L478 309.7L478 309.7L478.1 309.5L478.2 309.4L479.1 308.5L479.2 308.4L479.4 308.3L479.5 308.2L479.7 308.1L479.8 308.1L480 308L480.2 308L480.3 308L480.5 308L480.7 308L480.8 308.1L481 308.1L481.1 308.2L481.3 308.3L481.4 308.4L481.5 308.5L481.6 308.6L481.7 308.8L481.8 308.9L482.9 311.1L483 311.3L483 311.5L483.6 313.7L484.1 315.3L484.2 315.4L484.2 315.6L484.2 315.8L484.2 316L484.2 316.1L484.1 316.3L484.1 316.5L484 316.6L483.2 318.1L482.7 319.8L482.1 321.7L482.1 321.7L480.6 326.5L480.6 326.7L479.4 329.5L478.5 331.8L477.8 334.2L477.8 334.3L477.7 334.5L477.6 334.6L477.5 334.7L477.4 334.9L477.3 335L477.2 335.1L477 335.2L476.9 335.2L476.7 335.3L475.2 335.8L473.8 336.5L473.6 336.6L473.5 336.6L473.3 336.6L473.2 336.7L473 336.7L472.8 336.7L472.7 336.6L472.5 336.6L472.4 336.5L470.7 335.8L470.5 335.7L470.4 335.6L470.3 335.5L470.3 335.5L470.3 335.5L470.2 335.5L470.2 335.5L470.1 335.5L470 335.6L470 335.5L469.9 335.5L469.9 335.5L469.8 335.5L468.2 334.8L468.1 334.7L468.1 334.7L468 334.7L466.9 333.7L466.9 333.7L466.8 333.7L466.8 333.6L466.8 333.6L466.7 333.5L466.7 333.5L466.2 331.4L466.2 331.4L465.6 328.8L465.6 328.7L465.6 328.7L465.6 328.6L465.6 328.6L465.6 328.5L466 327L466 327L466 326.9L466.8 325.4L466.8 325.4L467.5 324.4L467.6 322.8L467.1 321L467.1 321L467.1 320.9L466.9 319.4L466.9 319.4L466.9 319.3L466.9 319.3L466.9 319.2L466.9 319.2L466.9 319.1L467.7 317.4L467.7 317.4L467.7 317.3L467.8 317.3L467.8 317.3L467.9 317.2L467.9 317.2L467.9 317.2L469.4 316.4L469.5 316.4L469.5 316.4L469.6 316.4L470.3 316.2L470.4 316.2L471.9 315.4L472.1 315.4L472.2 315.3L472.4 315.3L472.4 315.3L472.5 315.2L473.7 314L474.2 312.5L474.2 312.4L474.2 312.4L474.3 312.3L474.3 312.3L474.3 312.2L474.4 312.2L474.4 312.2L474.5 312.1L475.4 311.7L475.9 310.4L475.9 310.3L475.9 310.3L476 310.2L476 310.2L476.9 309.3L477 309.2L477 309.2L477.1 309.2L477.1 309.1L477.2 309.1L477.2 309.1ZM381.4 280.6L381.2 280.5L381 280.5L380.8 280.4L380.6 280.3L380.4 280.1L380.2 280L380.1 279.8L379.9 279.6L379.9 279.6L379.9 272.4L458.2 272.4L476.5 273L476.7 273L476.9 273L477.1 273.1L477.3 273.2L477.5 273.3L477.7 273.4L477.8 273.5L478 273.7L478.1 273.8L478.3 274L478.4 274.2L478.5 274.4L478.5 274.6L478.6 274.8L478.6 275L478.6 275.2L478.6 275.4L478.6 275.7L478.5 275.9L478.5 276.1L477.5 278.3L477.4 278.5L477.3 278.7L475.8 280.9L475.7 281.1L474 283.1L473.9 283.3L473.8 283.4L471.9 285.1L471.7 285.2L471.6 285.3L469.5 286.6L467.9 287.8L466.4 289.7L464.7 291.7L464.6 291.9L464.4 292L464.3 292.1L463.2 292.9L462.3 294.1L461.4 295.8L461.3 296L460.8 296.8L460.5 297.9L460.3 298.9L460.8 299.8L460.9 300L461 300.2L461.1 300.5L461.1 300.7L461.1 300.9L461.1 301.1L461 302.7L461.2 304.1L462 305.7L462.1 305.9L462.8 307.7L462.9 307.9L462.9 308.1L463 308.4L463.2 310.6L463.2 310.6L463.3 313.2L463.4 313.4L463.4 315.2L463.3 315.5L463.3 315.7L463.3 315.8L463.2 316L463.1 316.2L463 316.4L461.9 318.3L461.8 318.5L461.6 318.6L461.5 318.8L461.3 318.9L460 319.9L459.9 319.9L458.3 321L458 321.2L456.5 321.9L454.5 323.9L454.3 324.1L454.2 324.2L452.7 325.2L453 326.1L453.6 327.8L453.6 328L453.7 328.3L453.8 330.3L453.9 330.5L453.8 330.7L453.8 330.9L453.4 333L453.4 333.2L453.3 333.4L453.2 333.6L453.1 333.8L453 334L452.8 334.2L452.6 334.3L452.4 334.5L452.2 334.6L449 336.2L449 336.2L448.9 336.5L448.4 338.7L448.4 338.7L447.8 340.8L447.7 341L447.6 341.2L447.5 341.4L447.4 341.6L447.2 341.8L446.2 342.8L445.1 344.3L443.8 346.2L443.7 346.4L443.5 346.6L443.4 346.8L443.2 346.9L441.6 347.9L440.1 349.3L440 349.4L438.3 350.7L438.1 350.8L438 350.9L435.9 352L435.7 352.1L435.5 352.2L435.3 352.3L435.1 352.3L433.8 352.5L432.7 352.8L432.5 352.8L432.3 352.9L430.4 353L430.2 353.1L429.9 353L427.9 352.8L426.8 353.2L426.6 353.3L426.4 353.4L424 353.9L422.5 354.3L422.3 354.3L422.1 354.4L421.9 354.4L421.6 354.3L421.4 354.3L421.2 354.2L421 354.1L418.8 353L418.6 352.9L418.4 352.8L418.2 352.6L418.1 352.5L417.9 352.3L417.8 352.1L417.7 351.9L417.6 351.7L417.6 351.5L417.5 351.2L417.5 351L417.5 349.3L417.2 347.3L415.8 344.9L415.7 344.7L414.3 341.8L412.3 339.4L412.2 339.2L412 339L411.9 338.8L411.8 338.6L411.1 336L411.1 335.8L410.3 332.5L410.3 332.3L410.3 332.2L410.1 330.1L408.5 327.1L408.4 327L406.9 323.6L406.9 323.6L405.8 321L405.7 320.8L405.7 320.6L405.3 319.1L405.3 319L405.2 318.8L405.2 318.6L405.3 318.4L405.3 318.2L406 314.4L406.1 314.2L406.8 311.8L406.9 311.6L407 311.4L407.1 311.2L408.7 308.8L408.9 307.4L408.1 304.3L407.4 302.2L406.3 299.5L406.3 299.4L405.7 297.6L404.4 295.7L402.8 293.8L402.6 293.6L401.2 291.4L400.1 290L400 289.8L399.9 289.6L399.8 289.4L399.7 289.1L399.7 288.9L399.7 288.7L399.7 288.5L399.7 288.3L399.7 288L399.8 287.8L399.9 287.6L400.8 285.9L401.3 284.5L401.6 283.3L401.5 282.4L400.5 281.4L400.2 281.1L398.9 281.3L398.8 281.3L397.3 281.5L397.1 281.5L396.9 281.5L396.7 281.5L396.5 281.5L396.3 281.4L396.1 281.3L395.9 281.2L395 280.7L394.8 280.5L394.6 280.4L394.5 280.3L394.3 280.1L394.2 279.9L394.1 279.8L394 279.6L393.5 278.3L393 277.9L391.3 277.7L388 278.6L382.5 280.5L382.3 280.6L382 280.6L381.8 280.6L381.6 280.6L381.4 280.6ZM612.2 305.5L612.2 305.7L612.2 305.9L612.1 306L612.1 306.2L612.1 306.3L612 306.5L611.9 306.6L611.8 306.8L611.3 307.5L611.2 307.6L611 307.7L610.9 307.9L610.8 307.9L610.6 308L610.5 308.1L610.3 308.1L610.2 308.2L610 308.2L609.8 308.2L609.7 308.2L609.5 308.1L606.7 307.4L606.5 307.3L606.4 307.3L606.2 307.2L606.1 307.1L606 307L605.9 306.8L605.8 306.7L605.7 306.6L605.6 306.4L605.5 306.3L605.5 306.1L605.5 305.9L605.5 305.8L605.5 305.4L605.4 305.4L603.7 305.7L603.6 305.7L603.4 305.8L603.2 305.7L603.1 305.7L602.9 305.7L602.8 305.6L602.6 305.6L602.5 305.6L602.3 305.6L602.2 305.5L601.2 305.3L601.1 305.3L600.9 305.2L600.8 305.2L600.7 305.3L600.5 305.3L600.4 305.4L600.2 305.4L600 305.4L599.9 305.4L599.7 305.3L599.5 305.3L599.4 305.2L599.2 305.2L599.1 305.1L599.1 305.1L598.9 305.2L598.8 305.2L598.6 305.2L598.5 305.2L598.3 305.2L593.9 304.4L590.2 304.1L590 304L587.3 303.5L583.5 302.7L583.3 302.7L583.2 302.6L581.1 301.7L581.1 301.7L580.7 301.5L580.5 301.4L580.4 301.3L580.3 301.2L580.2 301.1L580.1 301L580 300.8L579.9 300.7L579.9 300.5L579.8 300.4L579.8 300.2L579.8 300.1L579.8 299.9L579.8 299.9L579.7 299.8L579.5 299.8L579.4 299.7L579.2 299.6L577 297.7L575 296.1L574.8 295.9L574.7 295.8L573 293.5L572.9 293.3L571.1 290.2L569.2 288.1L569.1 287.9L569 287.8L568.9 287.6L567.8 285L566.4 284L566.3 283.8L563.9 281.4L563.7 281.3L563.6 281.1L561.6 277.8L561.5 277.6L561.4 277.5L561.4 277.3L561.3 277.1L561.3 277L561.3 276.8L561.3 276.6L561.4 276.5L561.4 276.3L561.5 276.2L561.6 276L561.7 275.9L561.8 275.7L561.9 275.6L562 275.5L562.2 275.4L562.3 275.4L562.5 275.3L562.6 275.2L562.8 275.2L563 275.2L563.1 275.2L563.3 275.2L567.4 276L567.5 276L567.7 276.1L567.8 276.1L568 276.2L568.1 276.3L568.2 276.4L568.3 276.5L568.4 276.6L569.8 278.6L571.6 280.2L570.9 278.2L570.9 278L570.8 277.8L570.6 275.3L570.6 275.2L570.6 275L570.7 274.8L570.7 274.7L570.8 274.5L570.9 274.3L571 274.2L571.1 274.1L571.2 273.9L571.3 273.8L572.6 272.9L572.8 272.8L572.9 272.7L573.1 272.7L573.2 272.6L573.4 272.6L573.6 272.6L573.7 272.6L573.9 272.6L574 272.7L574.2 272.7L574.3 272.8L574.5 272.8L576.9 274.3L577 274.4L577.1 274.5L577.3 274.6L577.4 274.7L579.4 277.3L579.5 277.5L579.6 277.6L579.6 277.7L579.7 277.9L579.7 278.1L579.8 278.2L579.8 278.4L579.8 280.7L581.1 284.1L581.2 284.2L581.2 284.4L581.2 284.6L581.2 284.7L581.2 284.9L581.2 285.1L581.2 285.2L581.1 285.4L581 285.5L580.9 285.7L580.8 285.8L580.7 285.9L580.6 286L580.4 286.1L580.3 286.2L580.1 286.3L580.2 286.3L580.2 286.4L581.5 288.5L581.6 288.6L581.7 288.8L582.3 290.6L583.9 291.7L584 291.8L584.2 292L584.3 292.1L584.4 292.2L584.4 292.4L584.8 292.2L589 291.6L588.9 291.1L587.8 289.7L587.7 289.5L587.6 289.4L587.5 289.2L587.5 289.1L586.9 287L586.9 286.9L586.8 286.7L586.8 286.6L586.8 284.5L586.8 284.4L586.9 284.2L586.9 284L587 283.9L587 283.7L587.1 283.6L587.2 283.5L587.3 283.3L587.4 283.2L588.6 282.3L588.7 282.2L588.8 282.1L589 282.1L591.9 280.7L592.2 280.7L594.9 279.9L596.3 278L596.4 277.8L596.5 277.7L596.6 277.6L596.8 277.5L596.9 277.4L599.4 276.3L601.7 273.2L601.8 273.1L601.9 273L602.1 272.9L602.2 272.8L602.3 272.7L602.5 272.7L602.7 272.6L602.8 272.6L603 272.6L603.1 272.6L603.3 272.6L603.5 272.7L603.6 272.7L603.8 272.8L603.9 272.8L604 272.9L608.5 276.3L608.6 276.4L608.8 276.5L608.9 276.6L609 276.8L609 276.9L609.1 277.1L609.1 277.3L609.2 277.4L609.2 277.6L609.2 277.8L609.2 277.9L609.1 278.1L609.1 278.2L609 278.4L608.9 278.5L608.8 278.7L608.7 278.8L608.6 278.9L608.4 279L606.6 280.3L606.3 280.9L606.6 283L608.1 284.1L608.2 284.2L608.4 284.3L608.4 284.4L610 283.5L610.1 283.4L610.3 283.3L610.4 283.3L610.6 283.2L610.7 283.2L610.9 283.2L611 283.2L611.2 283.2L614.4 283.9L617.3 282.8L617.5 282.7L617.6 282.7L617.8 282.7L617.9 282.7L618.1 282.7L618.2 282.7L618.4 282.7L618.5 282.8L618.7 282.8L619.4 283.2L619.6 283.3L619.7 283.4L619.8 283.5L620 283.6L620.1 283.7L620.1 283.9L620.2 284L620.3 284.2L620.3 284.3L620.3 284.5L620.4 284.7L620.4 284.8L620.3 285L620.3 285.2L620.2 285.3L620.2 285.5L620.1 285.6L620 285.8L618.5 287.6L618.4 287.7L618.3 287.9L618.1 288L618 288L617.8 288.1L617.7 288.2L617.5 288.2L617.3 288.2L616.7 288.3L616.7 288.3L616.7 288.5L616.8 288.7L616.8 288.8L616.8 289L616.8 289.1L616.8 289.3L616.8 289.5L616.7 289.6L616.6 289.8L616.5 289.9L616.4 290.1L616.3 290.2L616.2 290.3L616.1 290.4L614.4 291.5L614.8 292.5L616.4 295.2L616.5 295.3L616.5 295.5L616.6 295.7L616.6 295.8L616.6 296L616.6 296.2L616.6 296.3L616.6 296.5L616.5 296.6L616.5 296.8L616.4 296.9L616.3 297.1L615.2 298.6L615.1 298.7L615 298.8L614.8 298.9L614.7 299L614.5 299.1L614.4 299.1L614.2 299.2L614.1 299.2L613.9 299.2L613.7 299.2L613.6 299.2L613.4 299.2L613.2 299.1L613.1 299L612.9 299L612.8 298.9L611.4 297.8L611.4 297.9L611.4 298L611.3 298.2L611.2 298.3L611.1 298.5L611 298.6L610.9 298.7L610.8 298.8L610.7 298.9L610.5 299L610.4 299.1L610.2 299.2L610.1 299.2L609.9 299.2L608.3 299.4L608.1 299.4L607.9 299.4L607.8 299.4L607.6 299.4L607.2 301.3L607.4 301.3L607.5 301.3L607.7 301.4L607.8 301.4L608 301.5L608 301.5L608.1 301.5L608.2 301.4L608.4 301.3L608.5 301.3L608.7 301.3L608.9 301.3L609 301.3L611.7 301.6L613.9 301L614.1 300.9L614.3 300.9L614.4 300.9L614.6 300.9L614.7 300.9L614.9 301L615.1 301L615.2 301.1L615.3 301.2L615.5 301.3L615.6 301.4L615.7 301.5L615.8 301.6L615.9 301.8L615.9 301.9L616 302.1L616 302.2L616.1 302.4L616.1 302.6L616.1 302.7L616.1 302.9L616 303L616 303.2L615.9 303.3L615.8 303.5L615.7 303.6L615.6 303.7L615.5 303.8L615.4 303.9L614.1 304.9L613.9 305L613.8 305L613.6 305.1L613.5 305.1L613.3 305.2L613.2 305.2L612.1 305.2L612.1 305.4L612.2 305.5ZM606.7 287.5L606.8 287.2L606.7 287.3L606.7 287.5ZM600.2 300.7L600.3 300.7L600.5 300.8L600.6 300.8L600.8 300.9L600.9 301L601.5 301.3L602.6 301.1L602.7 301.1L602.9 301.1L603.1 301.1L603.2 301.1L603.4 301.2L603.5 301.2L603.7 301.3L603.8 301.4L605 301.2L600.1 300.6L600.2 300.7ZM647.3 361.9L646.9 361.8L646.4 361.6L644.6 360.7L644.3 360.5L644 360.3L643.7 360.1L643.5 359.8L643.3 359.6L643.1 359.3L642.5 358.3L642.3 358L642.2 357.6L642.1 357.3L642 357.3L641.6 357.2L641.3 357.1L641 356.9L640.7 356.7L640.4 356.5L640.1 356.3L639.9 356L639.7 355.9L639.5 355.9L639.1 356L638.7 356L638.4 356L638 356L637.7 355.9L637.3 355.8L637 355.7L636.7 355.5L636.4 355.3L635.6 354.7L635.3 354.5L635.1 354.2L634.8 353.9L634.6 353.6L634.4 353.2L634.1 352.5L633.4 351.7L632.9 351.3L632.2 350.8L631 350.6L630.7 350.5L630.4 350.4L630.1 350.2L629.1 349.8L627.9 349.9L626.3 350L623.7 350.8L623.3 350.9L622.9 351L621.1 351.1L619.9 351.7L618.7 352.9L618.5 353.1L618.2 353.3L617.9 353.5L617.6 353.7L617.2 353.8L616.9 353.9L616.5 354L613.6 354.3L613.2 354.4L612.8 354.4L612.5 354.3L610.9 354L610.1 354.2L608.9 354.8L608.8 354.9L606.9 355.8L606.6 356L606.3 356.1L606 356.2L605.6 356.2L605.3 356.2L603.4 356.2L603 356.2L602.7 356.2L600.8 355.8L600.5 355.7L600.2 355.6L599.9 355.5L598 354.5L597.7 354.4L597.4 354.1L597.1 353.9L596.9 353.7L596.7 353.4L596.5 353.1L596.3 352.8L596.2 352.4L596.1 352.1L596 351.7L596 351.4L596 351L596 350.7L596.2 349.4L596.3 349L596.4 348.7L596.5 348.3L596.7 348L596.9 347.7L597.1 347.4L597.2 347.3L597.2 346.7L596.5 345.4L596.4 345.1L596.3 344.7L596.2 344.4L595.9 342.5L595.6 341.7L594.9 340.5L594.8 340.4L593.3 337.8L593.1 337.4L593 337.1L592.9 336.7L592.8 336.4L592.8 336L592.8 335.6L592.9 335.2L592.9 334.9L593.1 334.5L593.2 334.2L593.1 334L593 333.6L593 333.3L593 332.9L593 332.5L593.2 330.9L593.2 330.6L593.3 330.3L593.9 328.2L594 327.9L594.1 327.6L594.2 327.4L595 326.1L595.2 325.8L595.4 325.5L595.7 325.2L596 324.9L596.3 324.7L596.6 324.6L596.9 324.4L597.3 324.3L597.7 324.2L598 324.2L598.4 324.2L598.6 324.2L598.7 324.2L600.8 322.8L601.1 322.6L601.5 322.4L601.8 322.3L602.2 322.2L602.5 322.2L604.3 322L605.5 321.6L607.2 320.9L607.4 320.8L608.6 320.5L609.2 319.7L609.4 319.4L609.4 319.1L609.4 318.7L609.4 318.3L609.5 318L609.6 317.6L609.8 317.3L610 317L610.2 316.7L610.4 316.4L610.7 316.1L612 315L612.3 314.8L612.6 314.6L612.9 314.4L613.3 314.3L613.6 314.2L614 314.2L614.2 314.1L614.4 314L614.6 313.7L616.1 312.2L616.3 312L617.4 311.1L617.7 310.9L618 310.7L618.3 310.5L620 309.8L620.3 309.7L620.6 309.6L621 309.5L621.3 309.5L621.7 309.5L622 309.5L622.4 309.6L623.9 310L624.2 310.1L624.6 310.2L624.6 310.2L624.8 309.6L625 309.3L625.1 308.9L625.3 308.6L625.5 308.4L625.8 308.1L626.1 307.9L626.3 307.7L626.7 307.5L627 307.3L627 307.3L628.1 306L628.3 305.7L628.6 305.5L628.9 305.3L629.2 305.1L629.5 304.9L629.9 304.8L630.2 304.7L630.6 304.7L630.9 304.6L631.3 304.6L631.6 304.7L632 304.8L633.3 305.1L633.7 305.3L634 305.4L634.3 305.6L634.5 305.8L636.4 306L636.7 306L637.9 306.2L639 306L639.3 306L639.7 305.9L640 306L640.4 306L640.7 306.1L641.1 306.2L641.4 306.3L641.7 306.5L642 306.7L642.7 307.2L643 307.5L643.2 307.7L643.5 308L643.7 308.3L643.8 308.6L644 308.9L644.1 309.3L644.2 309.6L644.2 310L644.2 310.3L644.2 310.7L644.1 311L644 311.4L643.9 311.7L643.7 312L642.8 313.7L642.8 313.7L642.8 313.8L643.1 313.9L644.4 314.9L645.4 315.5L645.5 315.1L645.3 313.1L645.3 312.8L645.3 312.5L645.5 310.4L645.6 310L645.9 308.2L646 307.8L646.2 307.5L646.5 306.8L644.7 305.7L643.6 305.9L643.3 305.9L643 305.9L642.7 305.9L642.5 305.9L642.2 305.8L641.9 305.7L641.7 305.6L641.4 305.4L641.2 305.3L641 305.1L640.8 304.9L640.6 304.6L640.5 304.4L639.5 302.7L639.4 302.5L639.3 302.2L639.2 301.9L639.2 301.6L639.2 301.3L639.2 301L639.2 300.7L639.3 300.4L639.4 300.2L639.5 299.9L639.7 299.6L639.8 299.4L637.6 298.5L635.1 297.6L633.5 297.7L633.2 297.7L632.9 297.7L632.6 297.7L632.3 297.6L632 297.5L631.8 297.4L631.5 297.2L631.3 297.1L631.1 296.9L630.9 296.6L629.7 295.2L629.7 295.3L629.6 295.4L629.4 295.5L629.3 295.5L629.1 295.6L629 295.6L628.8 295.7L628.7 295.7L628.5 295.7L628.3 295.7L625.5 295.3L625.4 295.3L623.9 295L623.9 295L623.8 295.1L623.7 295.3L623.6 295.4L623.5 295.5L623.3 295.6L623.2 295.7L623.1 295.8L622.9 295.8L622.7 295.8L622.6 295.9L620.7 296.1L620.6 296.1L620.4 296.1L620.2 296L620.1 296L619.9 295.9L619.8 295.9L619.6 295.8L619.5 295.7L619.4 295.6L619.3 295.5L619.2 295.4L619.1 295.2L619 295.1L619 294.9L618.6 293.8L618.5 293.6L618.5 293.5L618.5 293.3L618.5 293.1L618.5 293L618.6 292.8L618.6 292.7L618.7 292.5L618.8 292.4L618.9 292.2L619 292.1L619.1 292L619.2 291.9L619.4 291.8L619.5 291.7L619.7 291.7L619.8 291.6L620 291.6L620.2 291.6L622 291.6L622.2 291.6L622.4 291.6L622.5 291.7L622.7 291.7L622.8 291.8L623 291.9L623 291.9L623.2 291.8L623.3 291.7L623.5 291.7L626.3 290.9L626.4 290.9L626.6 290.9L626.7 290.9L626.8 290.9L626.7 290.7L626.6 290.4L626.6 290.1L626.5 289.8L626.5 289.6L626.5 289.6L626.4 289.8L626.3 289.9L626.2 290L626 290.1L625.9 290.2L625.8 290.3L625.6 290.4L625.5 290.4L625.3 290.5L625.1 290.5L625 290.5L624.8 290.5L624.6 290.4L624.5 290.4L624.3 290.3L624.2 290.3L622.9 289.5L622.7 289.4L622.6 289.3L622.5 289.2L622.4 289.1L622.3 289L622.2 288.8L622.2 288.7L621.2 286.5L621.2 286.3L621.1 286.2L621.1 286L621.1 285.8L621.1 285.7L621.1 285.5L621.5 283.6L621.6 283.5L621.6 283.3L621.7 283.2L621.8 283L621.9 282.9L622 282.8L622.1 282.7L622.2 282.6L622.4 282.5L622.5 282.4L622.7 282.4L622.8 282.3L623 282.3L623.2 282.3L623.3 282.3L623.5 282.3L623.6 282.4L623.8 282.4L623.9 282.5L624.1 282.6L624.2 282.7L624.3 282.8L624.4 282.9L624.5 283L624.6 283.2L624.7 283.3L624.8 283.5L624.8 283.7L625 283.6L625.1 283.6L625.3 283.6L625.5 283.6L625.6 283.6L625.8 283.6L626 283.7L626.1 283.7L626.3 283.8L626.4 283.9L626.5 284L626.6 284.1L626.7 284.3L626.8 284.4L626.9 284.5L627 284.7L627 284.9L627 285L627.1 285.2L627.1 285.4L627 285.5L627 285.7L627 285.8L626.9 286L626.8 286.1L626.7 286.3L626.2 287L626.6 288.2L626.6 288.4L626.7 288.5L626.7 288.6L626.7 288.4L626.9 288.1L627 287.9L627.2 287.7L627.4 287.4L627.6 287.2L627.8 287.1L630.1 285.6L630.3 285.4L630.6 285.3L630.9 285.2L631.2 285.1L631.5 285.1L631.8 285.1L632.1 285.1L632.4 285.2L634.8 285.7L635.1 285.8L636.2 286.2L636.5 286.3L636.7 286.4L637 286.5L637.2 286.7L637.4 286.9L637.6 287.1L637.8 287.4L637.9 287.6L638 287.9L638.1 288.2L638.2 288.4L638.3 288.9L639.7 287.8L640 287.6L640.2 287.4L640.5 287.3L640.8 287.2L641.1 287.2L641.4 287.1L641.7 287.1L642 287.2L644.5 287.5L644.7 287.6L644.9 287.6L645.2 287.7L648.6 289.2L650.7 289.9L653.7 290.8L653.9 290.9L655.7 291.6L656 291.8L656.3 291.9L656.6 292.1L659 294.2L659.2 294.4L659.4 294.6L659.6 294.8L659.7 295.1L659.8 295.3L661.3 295.9L661.5 296L661.6 296L664.2 295.4L666.1 294.3L665.1 293.5L665 293.3L664.9 293.2L664.8 293.1L664.7 293L664.6 292.8L664.6 292.7L664.5 292.5L664.5 292.3L664.5 292.2L664.5 292L664.5 291.9L664.6 291.7L664.6 291.5L664.7 291.4L664.8 291.3L664.9 291.1L665 291L665.1 290.9L665.2 290.8L665.3 290.7L665.5 290.6L665.6 290.6L665.8 290.5L666 290.5L666.1 290.5L666.3 290.5L666.4 290.5L666.6 290.5L666.8 290.6L668.8 291.3L669 291.4L669.1 291.5L669.3 291.6L669.4 291.7L671.1 293.4L671.2 293.5L671.3 293.6L672.2 294.9L672.3 295L672.4 295.2L672.4 295.3L672.5 295.5L672.5 295.6L672.6 295.6L672.7 295.5L672.9 295.4L673 295.4L673.2 295.3L673.4 295.3L673.5 295.3L673.7 295.3L673.9 295.4L674 295.4L674.2 295.5L674.3 295.6L674.4 295.7L675.9 296.8L676.1 296.9L676.2 297L676.3 297.1L676.4 297.2L677.3 298.7L677.4 298.9L677.4 299L677.5 299.2L677.5 299.3L677.5 299.5L677.5 299.7L677.5 299.8L677.5 300L677.4 300.1L677.4 300.3L677.3 300.4L677.2 300.6L677.1 300.7L677 300.8L676.9 300.9L676.7 301L676.6 301.1L676.4 301.2L676.3 301.2L676.1 301.3L676 301.3L675.8 301.3L675.6 301.3L674.3 301.1L674.2 301L674 301L673.8 300.9L673.7 300.8L673.5 300.7L673.4 300.6L673.3 300.5L673.2 300.4L673.1 300.2L672.2 298.6L672.1 298.4L672 298.3L672 298.1L671.8 297.4L671.8 297.3L671.7 297.3L671.5 297.4L671.4 297.5L671.2 297.5L671 297.5L670.9 297.6L670.7 297.6L670.5 297.5L670.4 297.5L670.2 297.4L670.1 297.4L669.9 297.3L669.8 297.2L669.6 297L669.3 297.5L669.2 297.6L669.1 297.8L667 300L666.9 300.1L666.8 300.2L666.7 300.3L666.5 300.4L666.4 300.4L666.2 300.5L666 300.5L665.9 300.5L665.7 300.5L663.3 300.4L665.1 302.1L667.3 304.1L667.5 304.3L667.6 304.5L667.8 304.8L667.9 305L668.1 305.3L668.1 305.6L668.2 305.9L668.2 306.2L668.2 306.4L668.2 306.7L668.1 307L668.1 307.3L668 307.6L667.8 307.8L667.7 308.1L667.5 308.3L667.3 308.5L667.1 308.7L666.8 308.8L666.6 309L666.3 309.1L666 309.2L665.7 309.2L663.5 309.6L663.2 309.7L662.9 309.7L662.7 309.6L662.4 309.6L662.1 309.5L661.9 309.4L661.6 309.3L658.5 307.6L658.2 307.5L657.9 307.3L657.7 307L655.9 305.1L655.3 305L654.8 305.7L654.6 305.9L654.4 306.1L655.5 309.2L655.6 309.5L655.9 310.4L656.1 310.5L656.4 310.7L656.8 310.9L657.1 311.1L658.6 312.4L658.8 312.7L659.1 313L659.3 313.3L659.5 313.7L659.6 314L659.7 314.4L659.8 314.8L660.1 317.1L660.9 319.1L661 319.6L661.1 319.8L661.4 319.9L661.7 320L662 320.2L662.3 320.4L662.6 320.6L664.8 322.4L665.1 322.7L665.3 322.9L665.5 323.1L666.7 324.8L668.3 326.3L668.6 326.5L668.8 326.8L669 327.2L669.2 327.5L669.8 328.9L672.2 331.2L672.5 331.6L672.7 332L673.8 333.8L674 334.1L674.1 334.5L674.3 334.8L674.3 335.1L674.4 335.5L674.5 337.8L675.1 339.6L675.2 340L675.3 340.3L675.3 340.7L675.3 341.1L675.2 341.5L675.1 341.9L674.5 344L674.1 346L674.1 346.4L673.9 346.8L673 349.2L672.8 349.5L672.6 349.9L672.4 350.2L672.2 350.5L671.9 350.8L670.7 351.7L670.3 352.5L670.3 352.7L668.7 355.7L668.6 357.4L668.5 357.8L668.5 358.2L668.3 358.5L668.2 358.9L668 359.2L667.8 359.5L667.5 359.8L667.3 360L667 360.2L666.6 360.4L666.3 360.6L665.9 360.7L664.1 361.3L663.8 361.4L663.8 361.4L664 361.6L664.2 361.8L664.3 362.1L664.5 362.3L664.6 362.6L664.6 362.9L664.7 363.2L664.7 363.5L664.7 365.5L664.7 365.8L664.6 366.1L664.6 366.3L664.5 366.6L663.9 368.1L663.8 368.4L663.7 368.6L663.5 368.9L663.3 369.1L662.5 369.9L662.3 370.1L662.1 370.2L661.9 370.4L660.6 371.1L660.3 371.2L660 371.4L659.7 371.4L659.4 371.5L659.1 371.5L658.8 371.5L657.1 371.3L656.8 371.2L656.5 371.2L656.3 371.1L656 370.9L655.8 370.8L655.5 370.6L655.3 370.4L655.1 370.2L654.9 370L653.8 368.3L653.7 368L653.5 367.8L653.2 367L652.4 365.5L652.3 365.2L652.2 364.9L652.1 364.6L651.9 363.7L651.9 363.4L651.8 363.2L651.6 363.1L649.5 362.4L647.3 361.9ZM614.3 307.6L614.2 307.5L614.1 307.4L614 307.2L613.9 307.1L613.9 306.9L613.9 306.7L613.8 306.6L613.8 306.4L613.9 306.2L613.9 306.1L613.9 305.9L614 305.8L614.1 305.6L614.2 305.5L614.3 305.4L614.4 305.3L616.3 303.6L616.3 303.5L617.3 302.8L617.4 302.7L617.6 302.6L617.7 302.5L617.9 302.5L622.2 301.3L622.3 301.3L622.5 301.3L622.7 301.3L622.8 301.3L623 301.3L623.1 301.4L623.3 301.4L623.4 301.5L623.6 301.6L623.7 301.7L623.8 301.8L623.9 301.9L624 302.1L624.1 302.2L624.2 302.4L624.2 302.5L624.3 302.7L624.3 302.8L624.3 303L624.3 303.2L624.2 303.3L624.2 303.5L624.1 303.6L624 303.8L624 303.9L623.9 304.1L623.7 304.2L623.6 304.3L623.5 304.4L622 305.3L621.8 305.4L619.2 306.6L617.2 308L617.1 308.1L617 308.2L616.8 308.3L616.7 308.3L616.5 308.3L616.3 308.4L616.2 308.4L616 308.3L615.9 308.3L615.1 308.1L615 308.1L614.8 308L614.7 307.9L614.5 307.8L614.4 307.7L614.3 307.6ZM611.3 274.2L611.2 274.1L611.1 273.9L611.1 273.8L611.1 273.6L611.1 273.4L611.1 273.3L611.1 273.1L611.1 272.9L611.1 272.8L611.2 272.6L611.3 272.5L611.3 272.4L622.7 272.4L622.6 274.4L622.6 274.5L622.5 274.7L622.5 274.8L622.4 275L622.4 275.1L622.3 275.3L622.2 275.4L622.1 275.5L621.9 275.6L621.8 275.7L620.8 276.4L620.2 277.6L620.1 277.7L620.1 277.9L619.9 278L619.8 278.1L619.7 278.2L619.6 278.3L619.4 278.4L619.3 278.5L619.1 278.5L618.9 278.5L618.8 278.6L618.6 278.6L618.4 278.5L618.3 278.5L618.1 278.5L618 278.4L617.8 278.3L616 277.2L615.8 277.1L615.7 277L614.6 276.1L612 274.9L611.9 274.8L611.7 274.7L611.6 274.6L611.5 274.5L611.4 274.3L611.3 274.2Z" fill="#fff"/>
<path d="M381.8 278.4L387.4 276.5L391.1 275.4L393.9 275.8L395.4 276.9L396.1 278.7L397 279.3L398.5 279.1L401 278.7L402.1 279.9L403.6 281.4L403.9 283.4L403.4 285.3L402.8 286.8L401.9 288.6L403 290.1L404.5 292.3L406.2 294.4L407.7 296.6L408.4 298.7L409.5 301.5L410.3 303.7L411.2 307.2L410.8 309.7L409 312.5L408.2 314.9L407.5 318.6L407.9 320.1L409 322.7L410.5 326.1L412.3 329.4L412.5 332L413.3 335.4L414 338L416.2 340.6L417.7 343.7L419.4 346.5L419.8 349.1L419.8 351L422 352.1L423.5 351.8L425.9 351.2L427.6 350.5L430.2 350.8L432.1 350.6L433.4 350.3L434.9 350.1L436.9 349L438.6 347.7L440.3 346.2L441.9 345.1L443.2 343L444.5 341.3L445.7 340.2L446.2 338.2L446.8 335.9L446.4 335.2L447.5 334.4L449.4 333.5L451.2 332.6L451.6 330.5L451.4 328.5L450.9 326.8L450.1 324.4L450.7 323.8L452.9 322.3L455.2 320.1L457 319.2L458.7 318L460 317.1L461.1 315.2L461.1 313.4L460.9 310.8L460.7 308.5L460 306.7L459.1 304.8L458.7 302.8L458.9 300.9L458 299.2L458.3 297.4L458.7 295.9L459.4 294.8L460.4 292.9L461.7 291.2L463 290.3L464.7 288.2L466.3 286.2L468.2 284.7L470.4 283.4L472.3 281.7L474 279.7L475.5 277.4L476.4 275.2L385.5 272.4L379.9 272.4ZM477.3 309.7L478.4 311.9L479 314.1L479.6 315.8L478.6 317.5L478.1 319.3L477.5 321.2L476.8 323.6L476 326.1L474.9 328.8L474 331.3L473.2 333.7L471.5 334.2L470.1 335L468.4 334.2L467.3 333.3L466.7 331.3L466.1 328.7L466.5 327.2L467.3 325.7L468 324.6L468.2 322.7L467.6 320.8L467.4 319.3L468.2 317.7L469.7 316.9L471.7 316.6L472.9 315.6L474.2 314.3L474.7 312.6L475.8 312.1L476.4 310.6ZM650.9 307.2L652 310.4L652.8 313.4L654.6 313.9L656.1 315.2L656.5 318L657.4 320.5L658 322.7L660.2 323.4L662.5 325.3L663.9 327.4L665.8 329L666.7 331.1L669.5 333.9L670.6 335.7L670.8 338.5L671.6 340.8L670.8 343.2L670.5 345.4L669.5 347.8L667.7 349.3L666.9 351L666 352.9L665.1 354.7L664.9 357.2L663 357.7L661.2 357.7L659.3 358.6L658.2 359.6L658 360.1L656.5 359L655.4 358.1L654.3 358.6L652.8 359.6L650.5 358.8L648.1 358.3L646.2 357.3L645.7 356.4L645.5 354.7L644.6 353.8L642.7 353.6L643.5 352.1L642.9 351L642.2 348.8L641.8 348L641.4 350.3L640.7 351.8L640.5 352.9L641.6 350.6L639.9 350.6L638.6 352.3L637.9 351.8L637.3 350.5L636 349L635.1 348.2L633.6 347.3L631.7 346.9L629.9 346L627.6 346.2L625.6 346.4L622.6 347.3L620.2 347.5L617.8 348.6L616.1 350.3L613.1 350.6L610.9 350.3L608.8 350.6L607.1 351.6L605.3 352.5L603.4 352.5L601.5 352.1L599.7 351.2L599.9 349.9L601 349.3L601 347.3L600.8 345.6L599.9 343.7L599.5 341.5L598.9 340L598 338.5L596.5 335.9L597.5 335.6L596.7 332.9L596.9 331.3L597.5 329.2L598.2 327.9L598.9 328.3L600.6 327.4L602.9 325.9L605.1 325.7L606.8 325.1L608.6 324.4L610.9 323.6L612.2 322L613.3 320.5L613.1 319L614.4 317.9L615.7 319.2L616.3 317.7L617.2 316.4L618.7 314.9L619.8 313.9L621.5 313.2L623 313.6L624.3 315.1L624.6 315.6L625.9 315.1L626.9 313.6L628 311.9L628.4 310.8L629.3 310.4L631 308.4L632.3 308.7L632.1 309.7L634.1 309.5L636 309.7L637.9 310L639.7 309.7L640.5 310.2L639.5 311.9L638.4 313L637.7 314.9L639.4 316.2L640.8 316.9L642.3 318L644 319L644.9 319.9L646.6 320.3L647.7 319.7L648.7 317.9L649.2 315.4L649 312.8L649.2 310.8L649.6 308.9L650.2 307.6ZM654.8 363.1L656.3 363.5L658.4 363.9L660.2 363.5L661.7 363.5L661.7 365.5L661.2 367L660.4 367.8L659.1 368.5L657.4 368.3L656.3 366.7L655.9 365.7L655 364ZM629.5 289.5L631.7 288.1L634.1 288.6L635.3 289L635.8 292L637.9 293.5L639.7 291.6L641.6 290.1L644 290.5L647.6 292L649.8 292.7L652.8 293.6L654.6 294.4L657.1 296.4L657.2 297.6L660.2 298.7L659.5 299.8L661 302.2L663 304.3L665.2 306.3L663 306.7L659.8 305L657.4 302.4L654.1 301.7L652.4 303.9L651.1 304.6L648.1 304.3L645.3 302.6L643.1 303L642.2 301.3L643.6 299.8L642.3 297.2L638.6 295.7L635.4 294.6L633.2 294.8L631.5 292.7L634.3 292L631.7 291.4L630 290.1ZM589.6 283.6L592.6 282.3L596 281.4L597.6 278.9L600.4 277.6L603 274.3L607.5 277.6L605.3 279.1L604.5 280.6L605.1 284L607.1 285.4L605.3 285.8L604.3 287.9L602.9 290.1L602.1 292.9L601.5 294.8L599.1 294.8L596 293.3L593.5 292.9L590.7 292.7L590.6 290.5L589.1 288.6L588.5 286.6L588.5 284.5ZM563 276.9L567.1 277.6L568.6 279.7L571.8 282.7L574.2 283.6L577.3 285.6L578.8 287.3L580.1 289.4L580.9 291.6L582.9 293.1L582.7 295.7L582.6 298.1L580.3 298.3L578.1 296.4L576 294.8L574.4 292.5L572.5 289.2L570.4 286.9L569.1 284L567.5 282.7L565 280.2ZM572.3 275.2L572.5 277.6L573.2 279.9L574.2 281.9L576.4 283.8L578.3 284.9L579.6 284.7L578.1 281L578.1 278.4L576 275.8L573.6 274.3ZM581.4 300L582.9 298.3L587.2 298.9L591.3 300.2L595.2 300.2L598.8 301.7L598.6 303.5L594.1 302.8L590.4 302.4L587.6 301.8L583.9 301.1L581.8 300.2ZM598.8 302.6L600.1 302.4L601 303L600.1 303.7ZM601.7 303L602.9 302.8L602.5 303.9L601.5 303.7ZM603.4 303.1L605.8 302.8L607.1 303L607.1 303.7L605.3 303.7L603.4 304.1ZM608.8 303L611.8 303.3L614.4 302.6L613.1 303.5L609 303.7ZM607.1 305.2L609 304.8L610.5 305.8L609.9 306.5L607.1 305.8ZM615.5 306.5L617.4 304.8L618.3 304.1L622.6 303L621.1 303.9L618.3 305.2L616.3 306.7ZM608.1 297.7L608.3 293.8L606.8 292.3L608.4 287.7L609 286L610.9 284.9L614.6 285.6L617.9 284.3L618.7 284.7L617.2 286.6L615.1 286.8L611.8 286.4L610.1 286.9L609.2 289L611.8 289.4L615.1 289L612.4 290.9L613.3 293.3L615 296.1L613.8 297.6L612 296.1L611 292.3L609.7 292.7L609.7 297.6ZM623.2 284L623.9 286.4L625.4 285.3L624.3 286.8L625 288.8L623.7 288.1L622.8 285.8ZM623.9 293.3L626.7 292.5L629.1 293.3L628.6 294L625.8 293.6ZM620.2 293.3L622 293.3L622.4 294.2L620.5 294.4ZM661.7 297.7L664.9 297L667.7 295.3L668.8 295.1L667.9 296.6L665.8 298.9L663 298.7ZM666.2 292.2L668.2 292.9L669.9 294.6L670.8 295.9L669.9 295.1L668.2 293.8ZM673.4 297L674.9 298.1L675.9 299.6L674.6 299.4L673.6 297.7ZM612.7 273.3L615.5 274.6L616.8 275.8L618.7 276.9L619.4 275.2L620.9 274.3L621.1 270.6L616.5 270.6ZM513.6 378.4L515.1 378L516.4 378.8L516.2 379.7L514.6 379.9L513.8 379.3ZM492.2 324.6L493.2 324.6L493.2 325.5L492.2 325.5ZM488.3 326.2L489.4 326.4L489.2 327.2L488.3 327ZM381.8 418.2L385.5 417.7L394.8 418.1L404.1 417.7L413.4 418.1L422.8 417.7L432.1 418.1L441.4 416.9L447 416.2L452.6 416.6L456.3 416.9L459.1 415.8L460 415.3L463.7 414.5L467.4 413.8L471.2 413L474.9 412.1L478.6 411.2L482.4 410.8L487.9 411.2L493.5 412.1L497.2 412.7L502.8 413L506.6 413.2L512.1 413.6L515.9 414.5L517.7 416.2L521.5 417.3L525.2 416.8L528.9 415.8L530.8 414.9L534.5 413.2L538.2 412.5L543.8 411.5L549.4 411.4L553.1 411L558.7 411.2L562.4 409.9L566.2 408.2L569.9 408L573.6 409.1L577.3 410.1L581.1 410.8L586.6 410.6L590.4 410.6L596 411.4L599.7 411.7L605.3 411.9L609 411.7L614.6 411.4L618.3 411L623.9 410.8L627.6 410.6L633.2 410.4L636.9 410.4L642.5 411L646.2 411.5L650 411.9L655.6 412.7L659.3 413.6L664.9 414.9L670.5 415.6L674.2 415.8L679.8 416.8L683.5 417.3L687.2 418.2L687.2 436.3L381.8 436.3Z" fill="none" stroke="#444" stroke-width="0.6" stroke-linejoin="round"/>
<rect x="450.7" y="305.9" width="65.2" height="42.8" fill="none" stroke="#f00" stroke-width="1.5"/>
</g>
<rect x="385.5" y="278.0" width="298" height="139.69" fill="none" stroke="#222" stroke-width="1"/>
<line x1="383.0" y1="287.3" x2="385.5" y2="287.3" stroke="#222" stroke-width="0.8"/>
<text x="382.3" y="291.7" font-family='"Liberation Serif", serif' font-size="13" text-anchor="end" fill="#000">0°</text>
<line x1="383.0" y1="324.6" x2="385.5" y2="324.6" stroke="#222" stroke-width="0.8"/>
<text x="382.3" y="329.0" font-family='"Liberation Serif", serif' font-size="13" text-anchor="end" fill="#000">20°S</text>
<line x1="383.0" y1="361.8" x2="385.5" y2="361.8" stroke="#222" stroke-width="0.8"/>
<text x="382.3" y="366.2" font-family='"Liberation Serif", serif' font-size="13" text-anchor="end" fill="#000">40°S</text>
<line x1="383.0" y1="399.1" x2="385.5" y2="399.1" stroke="#222" stroke-width="0.8"/>
<text x="382.3" y="403.5" font-family='"Liberation Serif", serif' font-size="13" text-anchor="end" fill="#000">60°S</text>
<line x1="422.8" y1="417.7" x2="422.8" y2="420.2" stroke="#222" stroke-width="0.8"/>
<text x="422.8" y="429.7" font-family='"Liberation Serif", serif' font-size="13" text-anchor="middle" fill="#000">20°E</text>
<line x1="497.2" y1="417.7" x2="497.2" y2="420.2" stroke="#222" stroke-width="0.8"/>
<text x="497.2" y="429.7" font-family='"Liberation Serif", serif' font-size="13" text-anchor="middle" fill="#000">60°E</text>
<line x1="571.8" y1="417.7" x2="571.8" y2="420.2" stroke="#222" stroke-width="0.8"/>
<text x="571.8" y="429.7" font-family='"Liberation Serif", serif' font-size="13" text-anchor="middle" fill="#000">100°E</text>
<line x1="646.2" y1="417.7" x2="646.2" y2="420.2" stroke="#222" stroke-width="0.8"/>
<text x="646.2" y="429.7" font-family='"Liberation Serif", serif' font-size="13" text-anchor="middle" fill="#000">140°E</text>
<path d="M236.4 436.5L224.6 442.75L236.4 449Z" fill="#053061"/><path d="M475.0 436.5L486.8 442.75L475.0 449Z" fill="#67001f"/><rect x="236.40" y="436.5" width="20.18" height="12.5" fill="#10457e"/><rect x="256.28" y="436.5" width="20.18" height="12.5" fill="#2870b1"/><rect x="276.17" y="436.5" width="20.18" height="12.5" fill="#4997c5"/><rect x="296.05" y="436.5" width="20.18" height="12.5" fill="#8ac0db"/><rect x="315.93" y="436.5" width="20.18" height="12.5" fill="#c2ddec"/><rect x="335.82" y="436.5" width="20.18" height="12.5" fill="#e7f0f4"/><rect x="355.70" y="436.5" width="20.18" height="12.5" fill="#f9ebe3"/><rect x="375.58" y="436.5" width="20.18" height="12.5" fill="#fbccb4"/><rect x="395.47" y="436.5" width="20.18" height="12.5" fill="#f19e7d"/><rect x="415.35" y="436.5" width="20.18" height="12.5" fill="#d86551"/><rect x="435.23" y="436.5" width="20.18" height="12.5" fill="#bb2a34"/><rect x="455.12" y="436.5" width="20.18" height="12.5" fill="#840924"/><path d="M236.4 436.5L224.6 442.75L236.4 449L475.0 449L486.8 442.75L475.0 436.5Z" fill="none" stroke="#555" stroke-width="0.6"/><line x1="236.4" y1="449" x2="236.4" y2="451" stroke="#333" stroke-width="0.6"/><text x="236.4" y="459.8" font-family='"Liberation Serif", serif' font-size="10.3" text-anchor="middle" fill="#000">-0.3</text><line x1="276.2" y1="449" x2="276.2" y2="451" stroke="#333" stroke-width="0.6"/><text x="276.2" y="459.8" font-family='"Liberation Serif", serif' font-size="10.3" text-anchor="middle" fill="#000">-0.2</text><line x1="315.9" y1="449" x2="315.9" y2="451" stroke="#333" stroke-width="0.6"/><text x="315.9" y="459.8" font-family='"Liberation Serif", serif' font-size="10.3" text-anchor="middle" fill="#000">-0.1</text><line x1="355.7" y1="449" x2="355.7" y2="451" stroke="#333" stroke-width="0.6"/><text x="355.7" y="459.8" font-family='"Liberation Serif", serif' font-size="10.3" text-anchor="middle" fill="#000">0.0</text><line x1="395.5" y1="449" x2="395.5" y2="451" stroke="#333" stroke-width="0.6"/><text x="395.5" y="459.8" font-family='"Liberation Serif", serif' font-size="10.3" text-anchor="middle" fill="#000">0.1</text><line x1="435.2" y1="449" x2="435.2" y2="451" stroke="#333" stroke-width="0.6"/><text x="435.2" y="459.8" font-family='"Liberation Serif", serif' font-size="10.3" text-anchor="middle" fill="#000">0.2</text><line x1="475.0" y1="449" x2="475.0" y2="451" stroke="#333" stroke-width="0.6"/><text x="475.0" y="459.8" font-family='"Liberation Serif", serif' font-size="10.3" text-anchor="middle" fill="#000">0.3</text>
<path d="M466.7 204.4L459.9 208.10000000000002L466.7 211.8Z" fill="#053061"/><path d="M602.9 204.4L609.6999999999999 208.10000000000002L602.9 211.8Z" fill="#67001f"/><rect x="466.70" y="204.4" width="11.65" height="7.400000000000006" fill="#10457e"/><rect x="478.05" y="204.4" width="11.65" height="7.400000000000006" fill="#2870b1"/><rect x="489.40" y="204.4" width="11.65" height="7.400000000000006" fill="#4997c5"/><rect x="500.75" y="204.4" width="11.65" height="7.400000000000006" fill="#8ac0db"/><rect x="512.10" y="204.4" width="11.65" height="7.400000000000006" fill="#c2ddec"/><rect x="523.45" y="204.4" width="11.65" height="7.400000000000006" fill="#e7f0f4"/><rect x="534.80" y="204.4" width="11.65" height="7.400000000000006" fill="#f9ebe3"/><rect x="546.15" y="204.4" width="11.65" height="7.400000000000006" fill="#fbccb4"/><rect x="557.50" y="204.4" width="11.65" height="7.400000000000006" fill="#f19e7d"/><rect x="568.85" y="204.4" width="11.65" height="7.400000000000006" fill="#d86551"/><rect x="580.20" y="204.4" width="11.65" height="7.400000000000006" fill="#bb2a34"/><rect x="591.55" y="204.4" width="11.65" height="7.400000000000006" fill="#840924"/><path d="M466.7 204.4L459.9 208.10000000000002L466.7 211.8L602.9 211.8L609.6999999999999 208.10000000000002L602.9 204.4Z" fill="none" stroke="#555" stroke-width="0.6"/><line x1="466.7" y1="211.8" x2="466.7" y2="213.8" stroke="#333" stroke-width="0.6"/><text x="466.7" y="222.8" font-family='"Liberation Serif", serif' font-size="10.5" text-anchor="middle" fill="#000">-0.3</text><line x1="489.4" y1="211.8" x2="489.4" y2="213.8" stroke="#333" stroke-width="0.6"/><text x="489.4" y="222.8" font-family='"Liberation Serif", serif' font-size="10.5" text-anchor="middle" fill="#000">-0.2</text><line x1="512.1" y1="211.8" x2="512.1" y2="213.8" stroke="#333" stroke-width="0.6"/><text x="512.1" y="222.8" font-family='"Liberation Serif", serif' font-size="10.5" text-anchor="middle" fill="#000">-0.1</text><line x1="534.8" y1="211.8" x2="534.8" y2="213.8" stroke="#333" stroke-width="0.6"/><text x="534.8" y="222.8" font-family='"Liberation Serif", serif' font-size="10.5" text-anchor="middle" fill="#000">0.0</text><line x1="557.5" y1="211.8" x2="557.5" y2="213.8" stroke="#333" stroke-width="0.6"/><text x="557.5" y="222.8" font-family='"Liberation Serif", serif' font-size="10.5" text-anchor="middle" fill="#000">0.1</text><line x1="580.2" y1="211.8" x2="580.2" y2="213.8" stroke="#333" stroke-width="0.6"/><text x="580.2" y="222.8" font-family='"Liberation Serif", serif' font-size="10.5" text-anchor="middle" fill="#000">0.2</text><line x1="602.9" y1="211.8" x2="602.9" y2="213.8" stroke="#333" stroke-width="0.6"/><text x="602.9" y="222.8" font-family='"Liberation Serif", serif' font-size="10.5" text-anchor="middle" fill="#000">0.3</text>
<path d="M109.6 204.4L102.6 208.10000000000002L109.6 211.8Z" fill="#053061"/><path d="M244.6 204.4L251.6 208.10000000000002L244.6 211.8Z" fill="#67001f"/><rect x="109.60" y="204.4" width="9.94" height="7.400000000000006" fill="#0f437b"/><rect x="119.24" y="204.4" width="9.94" height="7.400000000000006" fill="#2369ad"/><rect x="128.89" y="204.4" width="9.94" height="7.400000000000006" fill="#3b88be"/><rect x="138.53" y="204.4" width="9.94" height="7.400000000000006" fill="#6bacd1"/><rect x="148.17" y="204.4" width="9.94" height="7.400000000000006" fill="#a0cce2"/><rect x="157.81" y="204.4" width="9.94" height="7.400000000000006" fill="#cce2ef"/><rect x="167.46" y="204.4" width="9.94" height="7.400000000000006" fill="#e9f0f4"/><rect x="177.10" y="204.4" width="9.94" height="7.400000000000006" fill="#f9ede5"/><rect x="186.74" y="204.4" width="9.94" height="7.400000000000006" fill="#fcd7c2"/><rect x="196.39" y="204.4" width="9.94" height="7.400000000000006" fill="#f6b191"/><rect x="206.03" y="204.4" width="9.94" height="7.400000000000006" fill="#e48066"/><rect x="215.67" y="204.4" width="9.94" height="7.400000000000006" fill="#ce4f45"/><rect x="225.31" y="204.4" width="9.94" height="7.400000000000006" fill="#b41c2d"/><rect x="234.96" y="204.4" width="9.94" height="7.400000000000006" fill="#810823"/><path d="M109.6 204.4L102.6 208.10000000000002L109.6 211.8L244.6 211.8L251.6 208.10000000000002L244.6 204.4Z" fill="none" stroke="#555" stroke-width="0.6"/><line x1="119.2" y1="211.8" x2="119.2" y2="213.8" stroke="#333" stroke-width="0.6"/><text x="119.2" y="222.3" font-family='"Liberation Serif", serif' font-size="10" text-anchor="middle" fill="#000">-3</text><line x1="138.5" y1="211.8" x2="138.5" y2="213.8" stroke="#333" stroke-width="0.6"/><text x="138.5" y="222.3" font-family='"Liberation Serif", serif' font-size="10" text-anchor="middle" fill="#000">-2</text><line x1="157.8" y1="211.8" x2="157.8" y2="213.8" stroke="#333" stroke-width="0.6"/><text x="157.8" y="222.3" font-family='"Liberation Serif", serif' font-size="10" text-anchor="middle" fill="#000">-1</text><line x1="177.1" y1="211.8" x2="177.1" y2="213.8" stroke="#333" stroke-width="0.6"/><text x="177.1" y="222.3" font-family='"Liberation Serif", serif' font-size="10" text-anchor="middle" fill="#000">0</text><line x1="196.4" y1="211.8" x2="196.4" y2="213.8" stroke="#333" stroke-width="0.6"/><text x="196.4" y="222.3" font-family='"Liberation Serif", serif' font-size="10" text-anchor="middle" fill="#000">1</text><line x1="215.7" y1="211.8" x2="215.7" y2="213.8" stroke="#333" stroke-width="0.6"/><text x="215.7" y="222.3" font-family='"Liberation Serif", serif' font-size="10" text-anchor="middle" fill="#000">2</text><line x1="235.0" y1="211.8" x2="235.0" y2="213.8" stroke="#333" stroke-width="0.6"/><text x="235.0" y="222.3" font-family='"Liberation Serif", serif' font-size="10" text-anchor="middle" fill="#000">3</text>
<text x="302.6" y="213.7" font-family='"Liberation Serif", serif' font-size="12.9" fill="#000">5m/s</text>
<text x="293.6" y="40.5" font-family='"Liberation Serif", serif' font-size="12.7" fill="#000">0.3m/s</text>
<path d="M291 211l4.6 0 0 1.2 3.4-1.7-3.4-1.7 0 1.2-4.6 0z" fill="#111"/>
<path d="M282.7 37.9l4.1 0 0 1.2 3.4-1.7-3.4-1.7 0 1.2-4.1 0z" fill="#008000"/>
</svg></body></html>
